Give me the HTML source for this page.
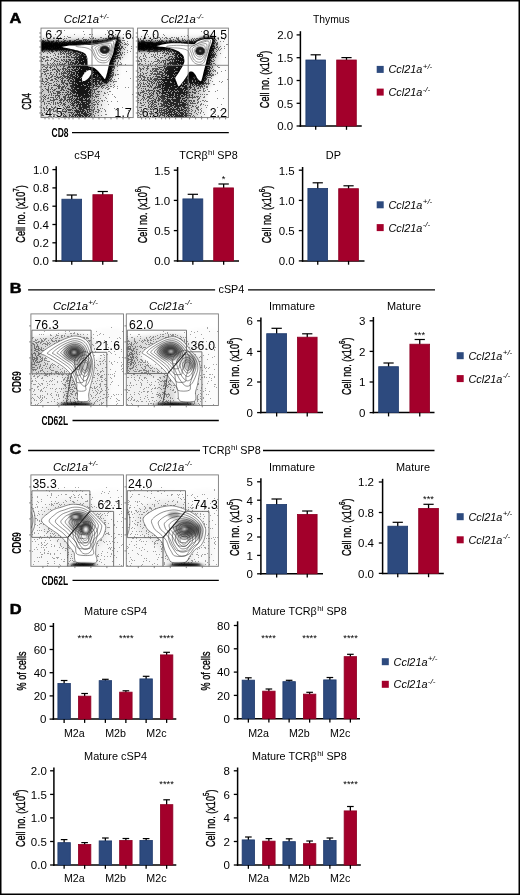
<!DOCTYPE html>
<html><head><meta charset="utf-8"><style>
html,body{margin:0;padding:0;background:#fff;}
svg{display:block;will-change:transform;}
text{font-family:"Liberation Sans", sans-serif;fill:#000;}
</style></head><body>
<svg width="520" height="895" viewBox="0 0 520 895">
<defs>
<filter id="b0_9" x="-20%" y="-20%" width="140%" height="140%"><feGaussianBlur stdDeviation="0.9"/></filter>
<filter id="b1_5" x="-20%" y="-20%" width="140%" height="140%"><feGaussianBlur stdDeviation="1.5"/></filter>
<filter id="b2" x="-20%" y="-20%" width="140%" height="140%"><feGaussianBlur stdDeviation="2"/></filter>
<filter id="b3" x="-20%" y="-20%" width="140%" height="140%"><feGaussianBlur stdDeviation="3"/></filter>
<filter id="gblur" x="0" y="0" width="520" height="895" filterUnits="userSpaceOnUse" color-interpolation-filters="sRGB">
  <feGaussianBlur in="SourceAlpha" stdDeviation="2.0" result="d"/>
  <feTurbulence type="fractalNoise" baseFrequency="1.7" numOctaves="1" seed="7" result="noise"/>
  <feColorMatrix in="noise" type="matrix" values="0 0 0 0 0  0 0 0 0 0  0 0 0 0 0  1 0 0 0 0" result="na0"/>
  <feComponentTransfer in="na0" result="na"><feFuncA type="table" tableValues="0.000 0.000 0.000 0.000 0.000 0.000 0.000 0.000 0.001 0.001 0.004 0.012 0.028 0.051 0.088 0.125 0.179 0.232 0.302 0.402 0.482 0.584 0.689 0.766 0.834 0.882 0.919 0.956 0.977 0.990 0.997 0.999 1.000 1.000 1.000 1.000 1.000 1.000 1.000 1.000 1.000"/></feComponentTransfer>
  <feComposite in="d" in2="na" operator="arithmetic" k1="0" k2="1" k3="-1" k4="0.497" result="c"/>
  <feComponentTransfer in="c" result="t"><feFuncA type="discrete" tableValues="0 1"/></feComponentTransfer>
  <feColorMatrix in="t" type="matrix" values="0 0 0 0 0  0 0 0 0 0  0 0 0 0 0  0 0 0 1.0 0" result="k"/>
  <feGaussianBlur in="k" stdDeviation="0.4" result="kb"/>
  <feComposite in="kb" in2="d" operator="arithmetic" k1="0" k2="0.45" k3="0.55" k4="0"/>
</filter>
<filter id="dith2" x="0" y="0" width="520" height="895" filterUnits="userSpaceOnUse" color-interpolation-filters="sRGB">
  <feGaussianBlur in="SourceAlpha" stdDeviation="2.0" result="d"/>
  <feTurbulence type="fractalNoise" baseFrequency="1.7" numOctaves="1" seed="11" result="noise"/>
  <feColorMatrix in="noise" type="matrix" values="0 0 0 0 0  0 0 0 0 0  0 0 0 0 0  1 0 0 0 0" result="na0"/>
  <feComponentTransfer in="na0" result="na"><feFuncA type="table" tableValues="0.000 0.000 0.000 0.000 0.000 0.000 0.000 0.000 0.001 0.001 0.004 0.012 0.028 0.051 0.088 0.125 0.179 0.232 0.302 0.402 0.482 0.584 0.689 0.766 0.834 0.882 0.919 0.956 0.977 0.990 0.997 0.999 1.000 1.000 1.000 1.000 1.000 1.000 1.000 1.000 1.000"/></feComponentTransfer>
  <feComposite in="d" in2="na" operator="arithmetic" k1="0" k2="1" k3="-1" k4="0.497" result="c"/>
  <feComponentTransfer in="c" result="t"><feFuncA type="discrete" tableValues="0 1"/></feComponentTransfer>
  <feColorMatrix in="t" type="matrix" values="0 0 0 0 0  0 0 0 0 0  0 0 0 0 0  0 0 0 0.62 0" result="k"/>
  <feGaussianBlur in="k" stdDeviation="0.25" result="kb"/>
  <feComposite in="kb" in2="d" operator="arithmetic" k1="0" k2="0.55" k3="0.45" k4="0"/>
</filter>
<radialGradient id="coreg"><stop offset="0" stop-color="#888"/><stop offset="0.3" stop-color="#222"/><stop offset="0.7" stop-color="#1a1a1a"/><stop offset="0.88" stop-color="#444" stop-opacity="0.8"/><stop offset="1" stop-color="#777" stop-opacity="0.2"/></radialGradient>
</defs>
<rect x="0" y="0" width="520" height="895" fill="#fff"/>
<rect x="0" y="0" width="520" height="1.5" fill="#000" stroke="none" stroke-width="0"/>
<rect x="0" y="0" width="1.5" height="895" fill="#000" stroke="none" stroke-width="0"/>
<rect x="518.5" y="0" width="1.5" height="895" fill="#000" stroke="none" stroke-width="0"/>
<rect x="0" y="893.5" width="520" height="1.5" fill="#000" stroke="none" stroke-width="0"/>
<text transform="translate(9.5,22.8) scale(1.1,1)" font-size="14.9" font-weight="bold" stroke="#000" stroke-width="0.55" stroke-linejoin="round">A</text>
<text transform="translate(9.8,292.7) scale(1.1,1)" font-size="14.9" font-weight="bold" stroke="#000" stroke-width="0.55" stroke-linejoin="round">B</text>
<text transform="translate(9.6,453.5) scale(1.1,1)" font-size="14.9" font-weight="bold" stroke="#000" stroke-width="0.55" stroke-linejoin="round">C</text>
<text transform="translate(9.8,613.8) scale(1.1,1)" font-size="14.9" font-weight="bold" stroke="#000" stroke-width="0.55" stroke-linejoin="round">D</text>
<line x1="28.1" y1="289.8" x2="215.1" y2="289.8" stroke="#000" stroke-width="1.3"/>
<text transform="translate(231.4,293.2) scale(1.05,1)" font-size="10.3" text-anchor="middle" font-style="normal">cSP4</text>
<line x1="248" y1="289.8" x2="435" y2="289.8" stroke="#000" stroke-width="1.3"/>
<line x1="28.1" y1="450.5" x2="200" y2="450.5" stroke="#000" stroke-width="1.3"/>
<text transform="translate(231.5,453.8) scale(1.05,1)" font-size="10.3" text-anchor="middle" font-style="normal">TCR&#946;<tspan font-size="7.6" dy="-4.1" dx="0.4">hi</tspan><tspan dy="4.1"> SP8</tspan></text>
<line x1="263" y1="450.5" x2="434.5" y2="450.5" stroke="#000" stroke-width="1.3"/>
<line x1="300.4" y1="31.2" x2="300.4" y2="126.75" stroke="#000" stroke-width="1.5"/>
<line x1="299.65" y1="126" x2="361.75" y2="126" stroke="#000" stroke-width="1.5"/>
<line x1="296.59999999999997" y1="34.9" x2="300.4" y2="34.9" stroke="#000" stroke-width="1.3"/>
<text transform="translate(293.2,39.199999999999996) scale(1.12,1)" font-size="10.3" text-anchor="end">2.0</text>
<line x1="296.59999999999997" y1="57.7" x2="300.4" y2="57.7" stroke="#000" stroke-width="1.3"/>
<text transform="translate(293.2,62.0) scale(1.12,1)" font-size="10.3" text-anchor="end">1.5</text>
<line x1="296.59999999999997" y1="80.5" x2="300.4" y2="80.5" stroke="#000" stroke-width="1.3"/>
<text transform="translate(293.2,84.8) scale(1.12,1)" font-size="10.3" text-anchor="end">1.0</text>
<line x1="296.59999999999997" y1="103.3" x2="300.4" y2="103.3" stroke="#000" stroke-width="1.3"/>
<text transform="translate(293.2,107.6) scale(1.12,1)" font-size="10.3" text-anchor="end">0.5</text>
<line x1="296.59999999999997" y1="126" x2="300.4" y2="126" stroke="#000" stroke-width="1.3"/>
<text transform="translate(293.2,130.3) scale(1.12,1)" font-size="10.3" text-anchor="end">0.0</text>
<line x1="315.7" y1="54.8" x2="315.7" y2="60.6" stroke="#000" stroke-width="1.3"/>
<line x1="310.6" y1="54.8" x2="320.79999999999995" y2="54.8" stroke="#000" stroke-width="1.2"/>
<rect x="305.9" y="60.0" width="19.599999999999977" height="66.0" fill="#2d4a7e" stroke="#1f3a6c" stroke-width="0.8"/>
<line x1="315.7" y1="126" x2="315.7" y2="129.8" stroke="#000" stroke-width="1.3"/>
<line x1="346.5" y1="57.6" x2="346.5" y2="60.6" stroke="#000" stroke-width="1.3"/>
<line x1="341.4" y1="57.6" x2="351.6" y2="57.6" stroke="#000" stroke-width="1.2"/>
<rect x="336.7" y="60.0" width="19.599999999999977" height="66.0" fill="#a3002b" stroke="#8e0024" stroke-width="0.8"/>
<line x1="346.5" y1="126" x2="346.5" y2="129.8" stroke="#000" stroke-width="1.3"/>
<text transform="translate(331.3,23.0) scale(1.0,1)" font-size="10.3" text-anchor="middle" font-style="normal">Thymus</text>
<text transform="translate(264.4,79.39999999999999) rotate(-90) scale(0.71,1)" font-size="12.8" font-weight="normal" text-anchor="middle" dominant-baseline="central" stroke="#000" stroke-width="0.35">Cell no. (x10<tspan font-size="8.7" dy="-4.9">8</tspan><tspan dy="4.9">)</tspan></text>
<line x1="56.2" y1="166.2" x2="56.2" y2="261.65" stroke="#000" stroke-width="1.5"/>
<line x1="55.45" y1="260.9" x2="117.5" y2="260.9" stroke="#000" stroke-width="1.5"/>
<line x1="52.400000000000006" y1="169.6" x2="56.2" y2="169.6" stroke="#000" stroke-width="1.3"/>
<text transform="translate(48.9,173.9) scale(1.12,1)" font-size="10.3" text-anchor="end">1.0</text>
<line x1="52.400000000000006" y1="187.9" x2="56.2" y2="187.9" stroke="#000" stroke-width="1.3"/>
<text transform="translate(48.9,192.20000000000002) scale(1.12,1)" font-size="10.3" text-anchor="end">0.8</text>
<line x1="52.400000000000006" y1="206.2" x2="56.2" y2="206.2" stroke="#000" stroke-width="1.3"/>
<text transform="translate(48.9,210.5) scale(1.12,1)" font-size="10.3" text-anchor="end">0.6</text>
<line x1="52.400000000000006" y1="224.5" x2="56.2" y2="224.5" stroke="#000" stroke-width="1.3"/>
<text transform="translate(48.9,228.8) scale(1.12,1)" font-size="10.3" text-anchor="end">0.4</text>
<line x1="52.400000000000006" y1="242.8" x2="56.2" y2="242.8" stroke="#000" stroke-width="1.3"/>
<text transform="translate(48.9,247.10000000000002) scale(1.12,1)" font-size="10.3" text-anchor="end">0.2</text>
<line x1="52.400000000000006" y1="260.9" x2="56.2" y2="260.9" stroke="#000" stroke-width="1.3"/>
<text transform="translate(48.9,265.2) scale(1.12,1)" font-size="10.3" text-anchor="end">0.0</text>
<line x1="71.75" y1="195" x2="71.75" y2="199.8" stroke="#000" stroke-width="1.3"/>
<line x1="66.625" y1="195" x2="76.875" y2="195" stroke="#000" stroke-width="1.2"/>
<rect x="61.9" y="199.20000000000002" width="19.7" height="61.69999999999997" fill="#2d4a7e" stroke="#1f3a6c" stroke-width="0.8"/>
<line x1="71.75" y1="260.9" x2="71.75" y2="264.7" stroke="#000" stroke-width="1.3"/>
<line x1="102.75" y1="191.5" x2="102.75" y2="195.3" stroke="#000" stroke-width="1.3"/>
<line x1="97.625" y1="191.5" x2="107.875" y2="191.5" stroke="#000" stroke-width="1.2"/>
<rect x="92.9" y="194.70000000000002" width="19.7" height="66.19999999999996" fill="#a3002b" stroke="#8e0024" stroke-width="0.8"/>
<line x1="102.75" y1="260.9" x2="102.75" y2="264.7" stroke="#000" stroke-width="1.3"/>
<text transform="translate(87.3,158.8) scale(1.06,1)" font-size="10.3" text-anchor="middle" font-style="normal">cSP4</text>
<text transform="translate(20.4,213.9) rotate(-90) scale(0.71,1)" font-size="12.8" font-weight="normal" text-anchor="middle" dominant-baseline="central" stroke="#000" stroke-width="0.35">Cell no. (x10<tspan font-size="8.7" dy="-4.9">7</tspan><tspan dy="4.9">)</tspan></text>
<line x1="177.6" y1="167" x2="177.6" y2="261.65" stroke="#000" stroke-width="1.5"/>
<line x1="176.85" y1="260.9" x2="239" y2="260.9" stroke="#000" stroke-width="1.5"/>
<line x1="173.79999999999998" y1="170.2" x2="177.6" y2="170.2" stroke="#000" stroke-width="1.3"/>
<text transform="translate(170.2,174.5) scale(1.12,1)" font-size="10.3" text-anchor="end">1.5</text>
<line x1="173.79999999999998" y1="200.4" x2="177.6" y2="200.4" stroke="#000" stroke-width="1.3"/>
<text transform="translate(170.2,204.70000000000002) scale(1.12,1)" font-size="10.3" text-anchor="end">1.0</text>
<line x1="173.79999999999998" y1="230.6" x2="177.6" y2="230.6" stroke="#000" stroke-width="1.3"/>
<text transform="translate(170.2,234.9) scale(1.12,1)" font-size="10.3" text-anchor="end">0.5</text>
<line x1="173.79999999999998" y1="260.9" x2="177.6" y2="260.9" stroke="#000" stroke-width="1.3"/>
<text transform="translate(170.2,265.2) scale(1.12,1)" font-size="10.3" text-anchor="end">0.0</text>
<line x1="192.85" y1="194.3" x2="192.85" y2="199.5" stroke="#000" stroke-width="1.3"/>
<line x1="187.675" y1="194.3" x2="198.02499999999998" y2="194.3" stroke="#000" stroke-width="1.2"/>
<rect x="182.9" y="198.9" width="19.899999999999988" height="61.99999999999998" fill="#2d4a7e" stroke="#1f3a6c" stroke-width="0.8"/>
<line x1="192.85" y1="260.9" x2="192.85" y2="264.7" stroke="#000" stroke-width="1.3"/>
<line x1="223.65" y1="184" x2="223.65" y2="188.5" stroke="#000" stroke-width="1.3"/>
<line x1="218.47500000000002" y1="184" x2="228.825" y2="184" stroke="#000" stroke-width="1.2"/>
<rect x="213.70000000000002" y="187.9" width="19.899999999999988" height="72.99999999999997" fill="#a3002b" stroke="#8e0024" stroke-width="0.8"/>
<line x1="223.65" y1="260.9" x2="223.65" y2="264.7" stroke="#000" stroke-width="1.3"/>
<text x="223.7" y="182.2" font-size="9.4" text-anchor="middle" font-weight="normal" font-style="normal" >*</text>
<text transform="translate(208.5,158.8) scale(1.05,1)" font-size="10.3" text-anchor="middle" font-style="normal">TCR&#946;<tspan font-size="7.6" dy="-4.1" dx="0.4">hi</tspan><tspan dy="4.1"> SP8</tspan></text>
<text transform="translate(142.20000000000002,214.5) rotate(-90) scale(0.71,1)" font-size="12.8" font-weight="normal" text-anchor="middle" dominant-baseline="central" stroke="#000" stroke-width="0.35">Cell no. (x10<tspan font-size="8.7" dy="-4.9">6</tspan><tspan dy="4.9">)</tspan></text>
<line x1="302.6" y1="167" x2="302.6" y2="261.65" stroke="#000" stroke-width="1.5"/>
<line x1="301.85" y1="260.9" x2="364.5" y2="260.9" stroke="#000" stroke-width="1.5"/>
<line x1="298.8" y1="170.2" x2="302.6" y2="170.2" stroke="#000" stroke-width="1.3"/>
<text transform="translate(294.7,174.5) scale(1.12,1)" font-size="10.3" text-anchor="end">1.5</text>
<line x1="298.8" y1="200.4" x2="302.6" y2="200.4" stroke="#000" stroke-width="1.3"/>
<text transform="translate(294.7,204.70000000000002) scale(1.12,1)" font-size="10.3" text-anchor="end">1.0</text>
<line x1="298.8" y1="230.6" x2="302.6" y2="230.6" stroke="#000" stroke-width="1.3"/>
<text transform="translate(294.7,234.9) scale(1.12,1)" font-size="10.3" text-anchor="end">0.5</text>
<line x1="298.8" y1="260.9" x2="302.6" y2="260.9" stroke="#000" stroke-width="1.3"/>
<text transform="translate(294.7,265.2) scale(1.12,1)" font-size="10.3" text-anchor="end">0.0</text>
<line x1="317.75" y1="182.8" x2="317.75" y2="189" stroke="#000" stroke-width="1.3"/>
<line x1="312.625" y1="182.8" x2="322.875" y2="182.8" stroke="#000" stroke-width="1.2"/>
<rect x="307.9" y="188.4" width="19.7" height="72.49999999999997" fill="#2d4a7e" stroke="#1f3a6c" stroke-width="0.8"/>
<line x1="317.75" y1="260.9" x2="317.75" y2="264.7" stroke="#000" stroke-width="1.3"/>
<line x1="348.55" y1="185.8" x2="348.55" y2="189.3" stroke="#000" stroke-width="1.3"/>
<line x1="343.425" y1="185.8" x2="353.675" y2="185.8" stroke="#000" stroke-width="1.2"/>
<rect x="338.7" y="188.70000000000002" width="19.7" height="72.19999999999996" fill="#a3002b" stroke="#8e0024" stroke-width="0.8"/>
<line x1="348.55" y1="260.9" x2="348.55" y2="264.7" stroke="#000" stroke-width="1.3"/>
<text transform="translate(333.4,158.8) scale(1.06,1)" font-size="10.3" text-anchor="middle" font-style="normal">DP</text>
<text transform="translate(266.59999999999997,214.5) rotate(-90) scale(0.71,1)" font-size="12.8" font-weight="normal" text-anchor="middle" dominant-baseline="central" stroke="#000" stroke-width="0.35">Cell no. (x10<tspan font-size="8.7" dy="-4.9">6</tspan><tspan dy="4.9">)</tspan></text>
<line x1="260.9" y1="317.5" x2="260.9" y2="413.35" stroke="#000" stroke-width="1.5"/>
<line x1="260.15" y1="412.6" x2="323" y2="412.6" stroke="#000" stroke-width="1.5"/>
<line x1="257.09999999999997" y1="320.8" x2="260.9" y2="320.8" stroke="#000" stroke-width="1.3"/>
<text transform="translate(253,325.1) scale(1.12,1)" font-size="10.3" text-anchor="end">6</text>
<line x1="257.09999999999997" y1="351.4" x2="260.9" y2="351.4" stroke="#000" stroke-width="1.3"/>
<text transform="translate(253,355.7) scale(1.12,1)" font-size="10.3" text-anchor="end">4</text>
<line x1="257.09999999999997" y1="382" x2="260.9" y2="382" stroke="#000" stroke-width="1.3"/>
<text transform="translate(253,386.3) scale(1.12,1)" font-size="10.3" text-anchor="end">2</text>
<line x1="257.09999999999997" y1="412.6" x2="260.9" y2="412.6" stroke="#000" stroke-width="1.3"/>
<text transform="translate(253,416.90000000000003) scale(1.12,1)" font-size="10.3" text-anchor="end">0</text>
<line x1="276.65" y1="328.3" x2="276.65" y2="334.3" stroke="#000" stroke-width="1.3"/>
<line x1="271.47499999999997" y1="328.3" x2="281.825" y2="328.3" stroke="#000" stroke-width="1.2"/>
<rect x="266.7" y="333.7" width="19.899999999999988" height="78.9" fill="#2d4a7e" stroke="#1f3a6c" stroke-width="0.8"/>
<line x1="276.65" y1="412.6" x2="276.65" y2="416.40000000000003" stroke="#000" stroke-width="1.3"/>
<line x1="307.25" y1="333.8" x2="307.25" y2="337.8" stroke="#000" stroke-width="1.3"/>
<line x1="302.125" y1="333.8" x2="312.375" y2="333.8" stroke="#000" stroke-width="1.2"/>
<rect x="297.4" y="337.2" width="19.7" height="75.4" fill="#a3002b" stroke="#8e0024" stroke-width="0.8"/>
<line x1="307.25" y1="412.6" x2="307.25" y2="416.40000000000003" stroke="#000" stroke-width="1.3"/>
<text transform="translate(292,310.1) scale(1.06,1)" font-size="10.3" text-anchor="middle" font-style="normal">Immature</text>
<text transform="translate(234.8,366.3) rotate(-90) scale(0.71,1)" font-size="12.8" font-weight="normal" text-anchor="middle" dominant-baseline="central" stroke="#000" stroke-width="0.35">Cell no. (x10<tspan font-size="8.7" dy="-4.9">6</tspan><tspan dy="4.9">)</tspan></text>
<line x1="373.4" y1="317" x2="373.4" y2="413.35" stroke="#000" stroke-width="1.5"/>
<line x1="372.65" y1="412.6" x2="434.5" y2="412.6" stroke="#000" stroke-width="1.5"/>
<line x1="369.59999999999997" y1="320.8" x2="373.4" y2="320.8" stroke="#000" stroke-width="1.3"/>
<text transform="translate(365.4,325.1) scale(1.12,1)" font-size="10.3" text-anchor="end">3</text>
<line x1="369.59999999999997" y1="351.4" x2="373.4" y2="351.4" stroke="#000" stroke-width="1.3"/>
<text transform="translate(365.4,355.7) scale(1.12,1)" font-size="10.3" text-anchor="end">2</text>
<line x1="369.59999999999997" y1="382" x2="373.4" y2="382" stroke="#000" stroke-width="1.3"/>
<text transform="translate(365.4,386.3) scale(1.12,1)" font-size="10.3" text-anchor="end">1</text>
<line x1="369.59999999999997" y1="412.6" x2="373.4" y2="412.6" stroke="#000" stroke-width="1.3"/>
<text transform="translate(365.4,416.90000000000003) scale(1.12,1)" font-size="10.3" text-anchor="end">0</text>
<line x1="388.55" y1="363" x2="388.55" y2="367.3" stroke="#000" stroke-width="1.3"/>
<line x1="383.425" y1="363" x2="393.675" y2="363" stroke="#000" stroke-width="1.2"/>
<rect x="378.7" y="366.7" width="19.7" height="45.90000000000001" fill="#2d4a7e" stroke="#1f3a6c" stroke-width="0.8"/>
<line x1="388.55" y1="412.6" x2="388.55" y2="416.40000000000003" stroke="#000" stroke-width="1.3"/>
<line x1="419.75" y1="339.5" x2="419.75" y2="344.8" stroke="#000" stroke-width="1.3"/>
<line x1="414.625" y1="339.5" x2="424.875" y2="339.5" stroke="#000" stroke-width="1.2"/>
<rect x="409.9" y="344.2" width="19.7" height="68.4" fill="#a3002b" stroke="#8e0024" stroke-width="0.8"/>
<line x1="419.75" y1="412.6" x2="419.75" y2="416.40000000000003" stroke="#000" stroke-width="1.3"/>
<text transform="translate(404,310.1) scale(1.06,1)" font-size="10.3" text-anchor="middle" font-style="normal">Mature</text>
<text x="419.6" y="337.90000000000003" font-size="9.4" text-anchor="middle" font-weight="normal" font-style="normal" >***</text>
<text transform="translate(346.79999999999995,366.3) rotate(-90) scale(0.71,1)" font-size="12.8" font-weight="normal" text-anchor="middle" dominant-baseline="central" stroke="#000" stroke-width="0.35">Cell no. (x10<tspan font-size="8.7" dy="-4.9">6</tspan><tspan dy="4.9">)</tspan></text>
<line x1="260.9" y1="478.3" x2="260.9" y2="574.55" stroke="#000" stroke-width="1.5"/>
<line x1="260.15" y1="573.8" x2="323" y2="573.8" stroke="#000" stroke-width="1.5"/>
<line x1="257.09999999999997" y1="481.8" x2="260.9" y2="481.8" stroke="#000" stroke-width="1.3"/>
<text transform="translate(253,486.1) scale(1.12,1)" font-size="10.3" text-anchor="end">5</text>
<line x1="257.09999999999997" y1="500.2" x2="260.9" y2="500.2" stroke="#000" stroke-width="1.3"/>
<text transform="translate(253,504.5) scale(1.12,1)" font-size="10.3" text-anchor="end">4</text>
<line x1="257.09999999999997" y1="518.6" x2="260.9" y2="518.6" stroke="#000" stroke-width="1.3"/>
<text transform="translate(253,522.9) scale(1.12,1)" font-size="10.3" text-anchor="end">3</text>
<line x1="257.09999999999997" y1="537" x2="260.9" y2="537" stroke="#000" stroke-width="1.3"/>
<text transform="translate(253,541.3) scale(1.12,1)" font-size="10.3" text-anchor="end">2</text>
<line x1="257.09999999999997" y1="555.4" x2="260.9" y2="555.4" stroke="#000" stroke-width="1.3"/>
<text transform="translate(253,559.6999999999999) scale(1.12,1)" font-size="10.3" text-anchor="end">1</text>
<line x1="257.09999999999997" y1="573.8" x2="260.9" y2="573.8" stroke="#000" stroke-width="1.3"/>
<text transform="translate(253,578.0999999999999) scale(1.12,1)" font-size="10.3" text-anchor="end">0</text>
<line x1="276.65" y1="499" x2="276.65" y2="505" stroke="#000" stroke-width="1.3"/>
<line x1="271.47499999999997" y1="499" x2="281.825" y2="499" stroke="#000" stroke-width="1.2"/>
<rect x="266.7" y="504.4" width="19.899999999999988" height="69.39999999999995" fill="#2d4a7e" stroke="#1f3a6c" stroke-width="0.8"/>
<line x1="276.65" y1="573.8" x2="276.65" y2="577.5999999999999" stroke="#000" stroke-width="1.3"/>
<line x1="307.25" y1="511" x2="307.25" y2="515" stroke="#000" stroke-width="1.3"/>
<line x1="302.125" y1="511" x2="312.375" y2="511" stroke="#000" stroke-width="1.2"/>
<rect x="297.4" y="514.4" width="19.7" height="59.399999999999956" fill="#a3002b" stroke="#8e0024" stroke-width="0.8"/>
<line x1="307.25" y1="573.8" x2="307.25" y2="577.5999999999999" stroke="#000" stroke-width="1.3"/>
<text transform="translate(292,471) scale(1.06,1)" font-size="10.3" text-anchor="middle" font-style="normal">Immature</text>
<text transform="translate(234.8,527.3) rotate(-90) scale(0.71,1)" font-size="12.8" font-weight="normal" text-anchor="middle" dominant-baseline="central" stroke="#000" stroke-width="0.35">Cell no. (x10<tspan font-size="8.7" dy="-4.9">5</tspan><tspan dy="4.9">)</tspan></text>
<line x1="382.6" y1="478.8" x2="382.6" y2="574.15" stroke="#000" stroke-width="1.5"/>
<line x1="381.85" y1="573.4" x2="443.8" y2="573.4" stroke="#000" stroke-width="1.5"/>
<line x1="378.8" y1="482" x2="382.6" y2="482" stroke="#000" stroke-width="1.3"/>
<text transform="translate(374,486.3) scale(1.12,1)" font-size="10.3" text-anchor="end">1.2</text>
<line x1="378.8" y1="512.5" x2="382.6" y2="512.5" stroke="#000" stroke-width="1.3"/>
<text transform="translate(374,516.8) scale(1.12,1)" font-size="10.3" text-anchor="end">0.8</text>
<line x1="378.8" y1="543" x2="382.6" y2="543" stroke="#000" stroke-width="1.3"/>
<text transform="translate(374,547.3) scale(1.12,1)" font-size="10.3" text-anchor="end">0.4</text>
<line x1="378.8" y1="573.4" x2="382.6" y2="573.4" stroke="#000" stroke-width="1.3"/>
<text transform="translate(374,577.6999999999999) scale(1.12,1)" font-size="10.3" text-anchor="end">0.0</text>
<line x1="397.75" y1="522.3" x2="397.75" y2="526.8" stroke="#000" stroke-width="1.3"/>
<line x1="392.625" y1="522.3" x2="402.875" y2="522.3" stroke="#000" stroke-width="1.2"/>
<rect x="387.9" y="526.1999999999999" width="19.7" height="47.200000000000024" fill="#2d4a7e" stroke="#1f3a6c" stroke-width="0.8"/>
<line x1="397.75" y1="573.4" x2="397.75" y2="577.1999999999999" stroke="#000" stroke-width="1.3"/>
<line x1="428.55" y1="504.3" x2="428.55" y2="509" stroke="#000" stroke-width="1.3"/>
<line x1="423.425" y1="504.3" x2="433.675" y2="504.3" stroke="#000" stroke-width="1.2"/>
<rect x="418.7" y="508.4" width="19.7" height="64.99999999999997" fill="#a3002b" stroke="#8e0024" stroke-width="0.8"/>
<line x1="428.55" y1="573.4" x2="428.55" y2="577.1999999999999" stroke="#000" stroke-width="1.3"/>
<text transform="translate(413,471) scale(1.06,1)" font-size="10.3" text-anchor="middle" font-style="normal">Mature</text>
<text x="428.5" y="502.40000000000003" font-size="9.4" text-anchor="middle" font-weight="normal" font-style="normal" >***</text>
<text transform="translate(346.79999999999995,527.3) rotate(-90) scale(0.71,1)" font-size="12.8" font-weight="normal" text-anchor="middle" dominant-baseline="central" stroke="#000" stroke-width="0.35">Cell no. (x10<tspan font-size="8.7" dy="-4.9">6</tspan><tspan dy="4.9">)</tspan></text>
<line x1="53.4" y1="623" x2="53.4" y2="719.85" stroke="#000" stroke-width="1.5"/>
<line x1="52.65" y1="719.1" x2="176.3" y2="719.1" stroke="#000" stroke-width="1.5"/>
<line x1="49.6" y1="626.3" x2="53.4" y2="626.3" stroke="#000" stroke-width="1.3"/>
<text transform="translate(46.5,630.5999999999999) scale(1.12,1)" font-size="10.3" text-anchor="end">80</text>
<line x1="49.6" y1="649.5" x2="53.4" y2="649.5" stroke="#000" stroke-width="1.3"/>
<text transform="translate(46.5,653.8) scale(1.12,1)" font-size="10.3" text-anchor="end">60</text>
<line x1="49.6" y1="672.7" x2="53.4" y2="672.7" stroke="#000" stroke-width="1.3"/>
<text transform="translate(46.5,677.0) scale(1.12,1)" font-size="10.3" text-anchor="end">40</text>
<line x1="49.6" y1="695.9" x2="53.4" y2="695.9" stroke="#000" stroke-width="1.3"/>
<text transform="translate(46.5,700.1999999999999) scale(1.12,1)" font-size="10.3" text-anchor="end">20</text>
<line x1="49.6" y1="719.1" x2="53.4" y2="719.1" stroke="#000" stroke-width="1.3"/>
<text transform="translate(46.5,723.4) scale(1.12,1)" font-size="10.3" text-anchor="end">0</text>
<line x1="64.125" y1="680.5" x2="64.125" y2="684" stroke="#000" stroke-width="1.3"/>
<line x1="60.8125" y1="680.5" x2="67.4375" y2="680.5" stroke="#000" stroke-width="1.2"/>
<rect x="57.9" y="683.4" width="12.45" height="35.700000000000024" fill="#2d4a7e" stroke="#1f3a6c" stroke-width="0.8"/>
<line x1="64.125" y1="719.1" x2="64.125" y2="722.9" stroke="#000" stroke-width="1.3"/>
<line x1="84.625" y1="693.5" x2="84.625" y2="696.75" stroke="#000" stroke-width="1.3"/>
<line x1="81.3125" y1="693.5" x2="87.9375" y2="693.5" stroke="#000" stroke-width="1.2"/>
<rect x="78.4" y="696.15" width="12.45" height="22.950000000000024" fill="#a3002b" stroke="#8e0024" stroke-width="0.8"/>
<line x1="84.625" y1="719.1" x2="84.625" y2="722.9" stroke="#000" stroke-width="1.3"/>
<line x1="105.375" y1="679.3" x2="105.375" y2="681.25" stroke="#000" stroke-width="1.3"/>
<line x1="102.0625" y1="679.3" x2="108.6875" y2="679.3" stroke="#000" stroke-width="1.2"/>
<rect x="99.15" y="680.65" width="12.45" height="38.450000000000024" fill="#2d4a7e" stroke="#1f3a6c" stroke-width="0.8"/>
<line x1="105.375" y1="719.1" x2="105.375" y2="722.9" stroke="#000" stroke-width="1.3"/>
<line x1="125.875" y1="690.8" x2="125.875" y2="692.75" stroke="#000" stroke-width="1.3"/>
<line x1="122.5625" y1="690.8" x2="129.1875" y2="690.8" stroke="#000" stroke-width="1.2"/>
<rect x="119.65" y="692.15" width="12.45" height="26.950000000000024" fill="#a3002b" stroke="#8e0024" stroke-width="0.8"/>
<line x1="125.875" y1="719.1" x2="125.875" y2="722.9" stroke="#000" stroke-width="1.3"/>
<line x1="146.125" y1="676.3" x2="146.125" y2="679.5" stroke="#000" stroke-width="1.3"/>
<line x1="142.8125" y1="676.3" x2="149.4375" y2="676.3" stroke="#000" stroke-width="1.2"/>
<rect x="139.9" y="678.9" width="12.45" height="40.200000000000024" fill="#2d4a7e" stroke="#1f3a6c" stroke-width="0.8"/>
<line x1="146.125" y1="719.1" x2="146.125" y2="722.9" stroke="#000" stroke-width="1.3"/>
<line x1="166.625" y1="652.3" x2="166.625" y2="655.5" stroke="#000" stroke-width="1.3"/>
<line x1="163.3125" y1="652.3" x2="169.9375" y2="652.3" stroke="#000" stroke-width="1.2"/>
<rect x="160.4" y="654.9" width="12.45" height="64.20000000000002" fill="#a3002b" stroke="#8e0024" stroke-width="0.8"/>
<line x1="166.625" y1="719.1" x2="166.625" y2="722.9" stroke="#000" stroke-width="1.3"/>
<text transform="translate(115.6,614.6) scale(1.06,1)" font-size="10.3" text-anchor="middle" font-style="normal">Mature cSP4</text>
<text x="84.8" y="641.1" font-size="9.4" text-anchor="middle" font-weight="normal" font-style="normal" >****</text>
<text x="126.3" y="641.1" font-size="9.4" text-anchor="middle" font-weight="normal" font-style="normal" >****</text>
<text x="166.6" y="641.1" font-size="9.4" text-anchor="middle" font-weight="normal" font-style="normal" >****</text>
<text transform="translate(21.4,671) rotate(-90) scale(0.71,1)" font-size="12.8" font-weight="normal" text-anchor="middle" dominant-baseline="central" stroke="#000" stroke-width="0.35">% of cells</text>
<line x1="237.6" y1="621.3" x2="237.6" y2="719.55" stroke="#000" stroke-width="1.5"/>
<line x1="236.85" y1="718.8" x2="360" y2="718.8" stroke="#000" stroke-width="1.5"/>
<line x1="233.79999999999998" y1="625.5" x2="237.6" y2="625.5" stroke="#000" stroke-width="1.3"/>
<text transform="translate(229.8,629.8) scale(1.12,1)" font-size="10.3" text-anchor="end">80</text>
<line x1="233.79999999999998" y1="648.8" x2="237.6" y2="648.8" stroke="#000" stroke-width="1.3"/>
<text transform="translate(229.8,653.0999999999999) scale(1.12,1)" font-size="10.3" text-anchor="end">60</text>
<line x1="233.79999999999998" y1="672.1" x2="237.6" y2="672.1" stroke="#000" stroke-width="1.3"/>
<text transform="translate(229.8,676.4) scale(1.12,1)" font-size="10.3" text-anchor="end">40</text>
<line x1="233.79999999999998" y1="695.4" x2="237.6" y2="695.4" stroke="#000" stroke-width="1.3"/>
<text transform="translate(229.8,699.6999999999999) scale(1.12,1)" font-size="10.3" text-anchor="end">20</text>
<line x1="233.79999999999998" y1="718.8" x2="237.6" y2="718.8" stroke="#000" stroke-width="1.3"/>
<text transform="translate(229.8,723.0999999999999) scale(1.12,1)" font-size="10.3" text-anchor="end">0</text>
<line x1="248.375" y1="677.8" x2="248.375" y2="680.75" stroke="#000" stroke-width="1.3"/>
<line x1="245.0625" y1="677.8" x2="251.6875" y2="677.8" stroke="#000" stroke-width="1.2"/>
<rect x="242.15" y="680.15" width="12.45" height="38.649999999999956" fill="#2d4a7e" stroke="#1f3a6c" stroke-width="0.8"/>
<line x1="248.375" y1="718.8" x2="248.375" y2="722.5999999999999" stroke="#000" stroke-width="1.3"/>
<line x1="268.875" y1="689" x2="268.875" y2="691.75" stroke="#000" stroke-width="1.3"/>
<line x1="265.5625" y1="689" x2="272.1875" y2="689" stroke="#000" stroke-width="1.2"/>
<rect x="262.65" y="691.15" width="12.45" height="27.649999999999956" fill="#a3002b" stroke="#8e0024" stroke-width="0.8"/>
<line x1="268.875" y1="718.8" x2="268.875" y2="722.5999999999999" stroke="#000" stroke-width="1.3"/>
<line x1="289.125" y1="680.3" x2="289.125" y2="682.25" stroke="#000" stroke-width="1.3"/>
<line x1="285.8125" y1="680.3" x2="292.4375" y2="680.3" stroke="#000" stroke-width="1.2"/>
<rect x="282.9" y="681.65" width="12.45" height="37.149999999999956" fill="#2d4a7e" stroke="#1f3a6c" stroke-width="0.8"/>
<line x1="289.125" y1="718.8" x2="289.125" y2="722.5999999999999" stroke="#000" stroke-width="1.3"/>
<line x1="309.625" y1="692.3" x2="309.625" y2="694.75" stroke="#000" stroke-width="1.3"/>
<line x1="306.3125" y1="692.3" x2="312.9375" y2="692.3" stroke="#000" stroke-width="1.2"/>
<rect x="303.4" y="694.15" width="12.45" height="24.649999999999956" fill="#a3002b" stroke="#8e0024" stroke-width="0.8"/>
<line x1="309.625" y1="718.8" x2="309.625" y2="722.5999999999999" stroke="#000" stroke-width="1.3"/>
<line x1="329.875" y1="677.5" x2="329.875" y2="680.5" stroke="#000" stroke-width="1.3"/>
<line x1="326.5625" y1="677.5" x2="333.1875" y2="677.5" stroke="#000" stroke-width="1.2"/>
<rect x="323.65" y="679.9" width="12.45" height="38.899999999999956" fill="#2d4a7e" stroke="#1f3a6c" stroke-width="0.8"/>
<line x1="329.875" y1="718.8" x2="329.875" y2="722.5999999999999" stroke="#000" stroke-width="1.3"/>
<line x1="350.375" y1="654.3" x2="350.375" y2="657.25" stroke="#000" stroke-width="1.3"/>
<line x1="347.0625" y1="654.3" x2="353.6875" y2="654.3" stroke="#000" stroke-width="1.2"/>
<rect x="344.15" y="656.65" width="12.45" height="62.149999999999956" fill="#a3002b" stroke="#8e0024" stroke-width="0.8"/>
<line x1="350.375" y1="718.8" x2="350.375" y2="722.5999999999999" stroke="#000" stroke-width="1.3"/>
<text x="268.6" y="641.1" font-size="9.4" text-anchor="middle" font-weight="normal" font-style="normal" >****</text>
<text x="309.6" y="641.1" font-size="9.4" text-anchor="middle" font-weight="normal" font-style="normal" >****</text>
<text x="350.6" y="641.1" font-size="9.4" text-anchor="middle" font-weight="normal" font-style="normal" >****</text>
<text transform="translate(299.4,614.6) scale(1.05,1)" font-size="10.3" text-anchor="middle" font-style="normal">Mature TCR&#946;<tspan font-size="7.6" dy="-4.1" dx="0.4">hi</tspan><tspan dy="4.1"> SP8</tspan></text>
<text transform="translate(205.4,671) rotate(-90) scale(0.71,1)" font-size="12.8" font-weight="normal" text-anchor="middle" dominant-baseline="central" stroke="#000" stroke-width="0.35">% of cells</text>
<line x1="53.9" y1="767.5" x2="53.9" y2="865.75" stroke="#000" stroke-width="1.5"/>
<line x1="53.15" y1="865" x2="176.3" y2="865" stroke="#000" stroke-width="1.5"/>
<line x1="50.1" y1="770.8" x2="53.9" y2="770.8" stroke="#000" stroke-width="1.3"/>
<text transform="translate(46.8,775.0999999999999) scale(1.12,1)" font-size="10.3" text-anchor="end">2.0</text>
<line x1="50.1" y1="794.4" x2="53.9" y2="794.4" stroke="#000" stroke-width="1.3"/>
<text transform="translate(46.8,798.6999999999999) scale(1.12,1)" font-size="10.3" text-anchor="end">1.5</text>
<line x1="50.1" y1="817.9" x2="53.9" y2="817.9" stroke="#000" stroke-width="1.3"/>
<text transform="translate(46.8,822.1999999999999) scale(1.12,1)" font-size="10.3" text-anchor="end">1.0</text>
<line x1="50.1" y1="841.5" x2="53.9" y2="841.5" stroke="#000" stroke-width="1.3"/>
<text transform="translate(46.8,845.8) scale(1.12,1)" font-size="10.3" text-anchor="end">0.5</text>
<line x1="50.1" y1="865" x2="53.9" y2="865" stroke="#000" stroke-width="1.3"/>
<text transform="translate(46.8,869.3) scale(1.12,1)" font-size="10.3" text-anchor="end">0.0</text>
<line x1="64.125" y1="839.6" x2="64.125" y2="843.25" stroke="#000" stroke-width="1.3"/>
<line x1="60.8125" y1="839.6" x2="67.4375" y2="839.6" stroke="#000" stroke-width="1.2"/>
<rect x="57.9" y="842.65" width="12.45" height="22.35" fill="#2d4a7e" stroke="#1f3a6c" stroke-width="0.8"/>
<line x1="64.125" y1="865" x2="64.125" y2="868.8" stroke="#000" stroke-width="1.3"/>
<line x1="84.625" y1="842.6" x2="84.625" y2="845" stroke="#000" stroke-width="1.3"/>
<line x1="81.3125" y1="842.6" x2="87.9375" y2="842.6" stroke="#000" stroke-width="1.2"/>
<rect x="78.4" y="844.4" width="12.45" height="20.6" fill="#a3002b" stroke="#8e0024" stroke-width="0.8"/>
<line x1="84.625" y1="865" x2="84.625" y2="868.8" stroke="#000" stroke-width="1.3"/>
<line x1="105.375" y1="838" x2="105.375" y2="841.5" stroke="#000" stroke-width="1.3"/>
<line x1="102.0625" y1="838" x2="108.6875" y2="838" stroke="#000" stroke-width="1.2"/>
<rect x="99.15" y="840.9" width="12.45" height="24.1" fill="#2d4a7e" stroke="#1f3a6c" stroke-width="0.8"/>
<line x1="105.375" y1="865" x2="105.375" y2="868.8" stroke="#000" stroke-width="1.3"/>
<line x1="125.875" y1="838.5" x2="125.875" y2="841" stroke="#000" stroke-width="1.3"/>
<line x1="122.5625" y1="838.5" x2="129.1875" y2="838.5" stroke="#000" stroke-width="1.2"/>
<rect x="119.65" y="840.4" width="12.45" height="24.6" fill="#a3002b" stroke="#8e0024" stroke-width="0.8"/>
<line x1="125.875" y1="865" x2="125.875" y2="868.8" stroke="#000" stroke-width="1.3"/>
<line x1="146.125" y1="838.6" x2="146.125" y2="841" stroke="#000" stroke-width="1.3"/>
<line x1="142.8125" y1="838.6" x2="149.4375" y2="838.6" stroke="#000" stroke-width="1.2"/>
<rect x="139.9" y="840.4" width="12.45" height="24.6" fill="#2d4a7e" stroke="#1f3a6c" stroke-width="0.8"/>
<line x1="146.125" y1="865" x2="146.125" y2="868.8" stroke="#000" stroke-width="1.3"/>
<line x1="166.625" y1="799.8" x2="166.625" y2="805.25" stroke="#000" stroke-width="1.3"/>
<line x1="163.3125" y1="799.8" x2="169.9375" y2="799.8" stroke="#000" stroke-width="1.2"/>
<rect x="160.4" y="804.65" width="12.45" height="60.35" fill="#a3002b" stroke="#8e0024" stroke-width="0.8"/>
<line x1="166.625" y1="865" x2="166.625" y2="868.8" stroke="#000" stroke-width="1.3"/>
<text transform="translate(115.6,760.2) scale(1.06,1)" font-size="10.3" text-anchor="middle" font-style="normal">Mature cSP4</text>
<text x="166.6" y="786.6" font-size="9.4" text-anchor="middle" font-weight="normal" font-style="normal" >****</text>
<text transform="translate(20.4,818.3) rotate(-90) scale(0.71,1)" font-size="12.8" font-weight="normal" text-anchor="middle" dominant-baseline="central" stroke="#000" stroke-width="0.35">Cell no. (x10<tspan font-size="8.7" dy="-4.9">6</tspan><tspan dy="4.9">)</tspan></text>
<line x1="237.6" y1="767.5" x2="237.6" y2="865.75" stroke="#000" stroke-width="1.5"/>
<line x1="236.85" y1="865" x2="360.8" y2="865" stroke="#000" stroke-width="1.5"/>
<line x1="233.79999999999998" y1="770.8" x2="237.6" y2="770.8" stroke="#000" stroke-width="1.3"/>
<text transform="translate(229.8,775.0999999999999) scale(1.12,1)" font-size="10.3" text-anchor="end">8</text>
<line x1="233.79999999999998" y1="794.4" x2="237.6" y2="794.4" stroke="#000" stroke-width="1.3"/>
<text transform="translate(229.8,798.6999999999999) scale(1.12,1)" font-size="10.3" text-anchor="end">6</text>
<line x1="233.79999999999998" y1="817.9" x2="237.6" y2="817.9" stroke="#000" stroke-width="1.3"/>
<text transform="translate(229.8,822.1999999999999) scale(1.12,1)" font-size="10.3" text-anchor="end">4</text>
<line x1="233.79999999999998" y1="841.5" x2="237.6" y2="841.5" stroke="#000" stroke-width="1.3"/>
<text transform="translate(229.8,845.8) scale(1.12,1)" font-size="10.3" text-anchor="end">2</text>
<line x1="233.79999999999998" y1="865" x2="237.6" y2="865" stroke="#000" stroke-width="1.3"/>
<text transform="translate(229.8,869.3) scale(1.12,1)" font-size="10.3" text-anchor="end">0</text>
<line x1="248.375" y1="837" x2="248.375" y2="840.5" stroke="#000" stroke-width="1.3"/>
<line x1="245.0625" y1="837" x2="251.6875" y2="837" stroke="#000" stroke-width="1.2"/>
<rect x="242.15" y="839.9" width="12.45" height="25.1" fill="#2d4a7e" stroke="#1f3a6c" stroke-width="0.8"/>
<line x1="248.375" y1="865" x2="248.375" y2="868.8" stroke="#000" stroke-width="1.3"/>
<line x1="268.875" y1="838.6" x2="268.875" y2="841.75" stroke="#000" stroke-width="1.3"/>
<line x1="265.5625" y1="838.6" x2="272.1875" y2="838.6" stroke="#000" stroke-width="1.2"/>
<rect x="262.65" y="841.15" width="12.45" height="23.85" fill="#a3002b" stroke="#8e0024" stroke-width="0.8"/>
<line x1="268.875" y1="865" x2="268.875" y2="868.8" stroke="#000" stroke-width="1.3"/>
<line x1="289.125" y1="838.8" x2="289.125" y2="842.25" stroke="#000" stroke-width="1.3"/>
<line x1="285.8125" y1="838.8" x2="292.4375" y2="838.8" stroke="#000" stroke-width="1.2"/>
<rect x="282.9" y="841.65" width="12.45" height="23.35" fill="#2d4a7e" stroke="#1f3a6c" stroke-width="0.8"/>
<line x1="289.125" y1="865" x2="289.125" y2="868.8" stroke="#000" stroke-width="1.3"/>
<line x1="309.625" y1="841" x2="309.625" y2="844.25" stroke="#000" stroke-width="1.3"/>
<line x1="306.3125" y1="841" x2="312.9375" y2="841" stroke="#000" stroke-width="1.2"/>
<rect x="303.4" y="843.65" width="12.45" height="21.35" fill="#a3002b" stroke="#8e0024" stroke-width="0.8"/>
<line x1="309.625" y1="865" x2="309.625" y2="868.8" stroke="#000" stroke-width="1.3"/>
<line x1="329.875" y1="838" x2="329.875" y2="841" stroke="#000" stroke-width="1.3"/>
<line x1="326.5625" y1="838" x2="333.1875" y2="838" stroke="#000" stroke-width="1.2"/>
<rect x="323.65" y="840.4" width="12.45" height="24.6" fill="#2d4a7e" stroke="#1f3a6c" stroke-width="0.8"/>
<line x1="329.875" y1="865" x2="329.875" y2="868.8" stroke="#000" stroke-width="1.3"/>
<line x1="350.375" y1="806.5" x2="350.375" y2="811.5" stroke="#000" stroke-width="1.3"/>
<line x1="347.0625" y1="806.5" x2="353.6875" y2="806.5" stroke="#000" stroke-width="1.2"/>
<rect x="344.15" y="810.9" width="12.45" height="54.1" fill="#a3002b" stroke="#8e0024" stroke-width="0.8"/>
<line x1="350.375" y1="865" x2="350.375" y2="868.8" stroke="#000" stroke-width="1.3"/>
<text x="350.6" y="786.6" font-size="9.4" text-anchor="middle" font-weight="normal" font-style="normal" >****</text>
<text transform="translate(299.4,760.2) scale(1.05,1)" font-size="10.3" text-anchor="middle" font-style="normal">Mature TCR&#946;<tspan font-size="7.6" dy="-4.1" dx="0.4">hi</tspan><tspan dy="4.1"> SP8</tspan></text>
<text transform="translate(210.20000000000002,818.3) rotate(-90) scale(0.71,1)" font-size="12.8" font-weight="normal" text-anchor="middle" dominant-baseline="central" stroke="#000" stroke-width="0.35">Cell no. (x10<tspan font-size="8.7" dy="-4.9">5</tspan><tspan dy="4.9">)</tspan></text>
<text transform="translate(74.375,737.1) scale(1.04,1)" font-size="10.3" text-anchor="middle" font-style="normal">M2a</text>
<text transform="translate(115.625,737.1) scale(1.04,1)" font-size="10.3" text-anchor="middle" font-style="normal">M2b</text>
<text transform="translate(156.375,737.1) scale(1.04,1)" font-size="10.3" text-anchor="middle" font-style="normal">M2c</text>
<text transform="translate(258.625,737.1) scale(1.04,1)" font-size="10.3" text-anchor="middle" font-style="normal">M2a</text>
<text transform="translate(299.375,737.1) scale(1.04,1)" font-size="10.3" text-anchor="middle" font-style="normal">M2b</text>
<text transform="translate(340.125,737.1) scale(1.04,1)" font-size="10.3" text-anchor="middle" font-style="normal">M2c</text>
<text transform="translate(74.375,882.1) scale(1.04,1)" font-size="10.3" text-anchor="middle" font-style="normal">M2a</text>
<text transform="translate(115.625,882.1) scale(1.04,1)" font-size="10.3" text-anchor="middle" font-style="normal">M2b</text>
<text transform="translate(156.375,882.1) scale(1.04,1)" font-size="10.3" text-anchor="middle" font-style="normal">M2c</text>
<text transform="translate(258.625,882.1) scale(1.04,1)" font-size="10.3" text-anchor="middle" font-style="normal">M2a</text>
<text transform="translate(299.375,882.1) scale(1.04,1)" font-size="10.3" text-anchor="middle" font-style="normal">M2b</text>
<text transform="translate(340.125,882.1) scale(1.04,1)" font-size="10.3" text-anchor="middle" font-style="normal">M2c</text>
<rect x="376.7" y="65.9" width="7.0" height="7.0" fill="#2d4a7e" stroke="none" stroke-width="0"/>
<rect x="376.7" y="88.6" width="7.0" height="7.0" fill="#a3002b" stroke="none" stroke-width="0"/>
<text x="388.5" y="73.30000000000001" font-size="10.9" text-anchor="start" font-weight="normal" font-style="italic" >Ccl21a<tspan font-size="8.0" dy="-4.4" dx="0.3">+/-</tspan></text>
<text x="388.5" y="96.0" font-size="10.9" text-anchor="start" font-weight="normal" font-style="italic" >Ccl21a<tspan font-size="8.0" dy="-4.4" dx="0.3">-/-</tspan></text>
<rect x="376.7" y="201.3" width="7.0" height="7.0" fill="#2d4a7e" stroke="none" stroke-width="0"/>
<rect x="376.7" y="224.1" width="7.0" height="7.0" fill="#a3002b" stroke="none" stroke-width="0"/>
<text x="388.5" y="208.70000000000002" font-size="10.9" text-anchor="start" font-weight="normal" font-style="italic" >Ccl21a<tspan font-size="8.0" dy="-4.4" dx="0.3">+/-</tspan></text>
<text x="388.5" y="231.5" font-size="10.9" text-anchor="start" font-weight="normal" font-style="italic" >Ccl21a<tspan font-size="8.0" dy="-4.4" dx="0.3">-/-</tspan></text>
<rect x="456.7" y="352.2" width="7.0" height="7.0" fill="#2d4a7e" stroke="none" stroke-width="0"/>
<rect x="456.7" y="375.1" width="7.0" height="7.0" fill="#a3002b" stroke="none" stroke-width="0"/>
<text x="468.5" y="359.59999999999997" font-size="10.9" text-anchor="start" font-weight="normal" font-style="italic" >Ccl21a<tspan font-size="8.0" dy="-4.4" dx="0.3">+/-</tspan></text>
<text x="468.5" y="382.5" font-size="10.9" text-anchor="start" font-weight="normal" font-style="italic" >Ccl21a<tspan font-size="8.0" dy="-4.4" dx="0.3">-/-</tspan></text>
<rect x="456.7" y="513.2" width="7.0" height="7.0" fill="#2d4a7e" stroke="none" stroke-width="0"/>
<rect x="456.7" y="536.3" width="7.0" height="7.0" fill="#a3002b" stroke="none" stroke-width="0"/>
<text x="468.5" y="520.6" font-size="10.9" text-anchor="start" font-weight="normal" font-style="italic" >Ccl21a<tspan font-size="8.0" dy="-4.4" dx="0.3">+/-</tspan></text>
<text x="468.5" y="543.6999999999999" font-size="10.9" text-anchor="start" font-weight="normal" font-style="italic" >Ccl21a<tspan font-size="8.0" dy="-4.4" dx="0.3">-/-</tspan></text>
<rect x="381.8" y="658.2" width="7.0" height="7.0" fill="#2d4a7e" stroke="none" stroke-width="0"/>
<rect x="381.8" y="680.8" width="7.0" height="7.0" fill="#a3002b" stroke="none" stroke-width="0"/>
<text x="393.6" y="665.6" font-size="10.9" text-anchor="start" font-weight="normal" font-style="italic" >Ccl21a<tspan font-size="8.0" dy="-4.4" dx="0.3">+/-</tspan></text>
<text x="393.6" y="688.1999999999999" font-size="10.9" text-anchor="start" font-weight="normal" font-style="italic" >Ccl21a<tspan font-size="8.0" dy="-4.4" dx="0.3">-/-</tspan></text>
<clipPath id="clipa1"><rect x="41.0" y="28.1" width="92.19999999999999" height="89.5"/></clipPath>
<g clip-path="url(#clipa1)">
<g filter="url(#gblur)"><rect x="33.0" y="34" width="59.00" height="4.00" fill="#000" fill-opacity="0.05"/><rect x="92" y="34" width="16.00" height="4.00" fill="#000" fill-opacity="0.05"/><rect x="108" y="34" width="13.00" height="4.00" fill="#000" fill-opacity="0.15"/><rect x="121" y="34" width="20.20" height="4.00" fill="#000" fill-opacity="0.03"/><rect x="33.0" y="38" width="59.00" height="3.50" fill="#000" fill-opacity="0.25"/><rect x="92" y="38" width="16.00" height="3.50" fill="#000" fill-opacity="0.3"/><rect x="108" y="38" width="13.00" height="3.50" fill="#000" fill-opacity="0.5"/><rect x="121" y="38" width="20.20" height="3.50" fill="#000" fill-opacity="0.06"/><rect x="33.0" y="41.5" width="29.00" height="9.00" fill="#000" fill-opacity="0.93"/><rect x="62" y="41.5" width="53.00" height="9.00" fill="#000" fill-opacity="0.9"/><rect x="115" y="41.5" width="6.00" height="9.00" fill="#000" fill-opacity="0.85"/><rect x="121" y="41.5" width="5.00" height="9.00" fill="#000" fill-opacity="0.3"/><rect x="126" y="41.5" width="15.20" height="9.00" fill="#000" fill-opacity="0.05"/><rect x="33.0" y="50.5" width="25.00" height="7.50" fill="#000" fill-opacity="0.22"/><rect x="58" y="50.5" width="10.00" height="7.50" fill="#000" fill-opacity="0.32"/><rect x="68" y="50.5" width="12.00" height="7.50" fill="#000" fill-opacity="0.5"/><rect x="80" y="50.5" width="36.00" height="7.50" fill="#000" fill-opacity="0.9"/><rect x="116" y="50.5" width="5.00" height="7.50" fill="#000" fill-opacity="0.75"/><rect x="121" y="50.5" width="6.00" height="7.50" fill="#000" fill-opacity="0.12"/><rect x="127" y="50.5" width="14.20" height="7.50" fill="#000" fill-opacity="0.02"/><rect x="33.0" y="58" width="22.00" height="8.00" fill="#000" fill-opacity="0.28"/><rect x="55" y="58" width="11.00" height="8.00" fill="#000" fill-opacity="0.38"/><rect x="66" y="58" width="10.00" height="8.00" fill="#000" fill-opacity="0.6"/><rect x="76" y="58" width="36.00" height="8.00" fill="#000" fill-opacity="0.88"/><rect x="112" y="58" width="5.00" height="8.00" fill="#000" fill-opacity="0.6"/><rect x="117" y="58" width="4.00" height="8.00" fill="#000" fill-opacity="0.15"/><rect x="121" y="58" width="20.20" height="8.00" fill="#000" fill-opacity="0.02"/><rect x="33.0" y="66" width="22.00" height="10.00" fill="#000" fill-opacity="0.33"/><rect x="55" y="66" width="13.00" height="10.00" fill="#000" fill-opacity="0.45"/><rect x="68" y="66" width="8.00" height="10.00" fill="#000" fill-opacity="0.7"/><rect x="76" y="66" width="30.00" height="10.00" fill="#000" fill-opacity="0.9"/><rect x="106" y="66" width="7.00" height="10.00" fill="#000" fill-opacity="0.7"/><rect x="113" y="66" width="5.00" height="10.00" fill="#000" fill-opacity="0.2"/><rect x="118" y="66" width="23.20" height="10.00" fill="#000" fill-opacity="0.02"/><rect x="33.0" y="76" width="22.00" height="10.00" fill="#000" fill-opacity="0.35"/><rect x="55" y="76" width="12.00" height="10.00" fill="#000" fill-opacity="0.45"/><rect x="67" y="76" width="7.00" height="10.00" fill="#000" fill-opacity="0.65"/><rect x="74" y="76" width="22.00" height="10.00" fill="#000" fill-opacity="0.88"/><rect x="96" y="76" width="10.00" height="10.00" fill="#000" fill-opacity="0.7"/><rect x="106" y="76" width="6.00" height="10.00" fill="#000" fill-opacity="0.45"/><rect x="112" y="76" width="5.00" height="10.00" fill="#000" fill-opacity="0.12"/><rect x="117" y="76" width="24.20" height="10.00" fill="#000" fill-opacity="0.02"/><rect x="33.0" y="86" width="22.00" height="10.00" fill="#000" fill-opacity="0.36"/><rect x="55" y="86" width="13.00" height="10.00" fill="#000" fill-opacity="0.46"/><rect x="68" y="86" width="6.00" height="10.00" fill="#000" fill-opacity="0.62"/><rect x="74" y="86" width="18.00" height="10.00" fill="#000" fill-opacity="0.85"/><rect x="92" y="86" width="8.00" height="10.00" fill="#000" fill-opacity="0.45"/><rect x="100" y="86" width="8.00" height="10.00" fill="#000" fill-opacity="0.2"/><rect x="108" y="86" width="33.20" height="10.00" fill="#000" fill-opacity="0.02"/><rect x="33.0" y="96" width="25.00" height="10.00" fill="#000" fill-opacity="0.34"/><rect x="58" y="96" width="12.00" height="10.00" fill="#000" fill-opacity="0.45"/><rect x="70" y="96" width="6.00" height="10.00" fill="#000" fill-opacity="0.62"/><rect x="76" y="96" width="15.00" height="10.00" fill="#000" fill-opacity="0.78"/><rect x="91" y="96" width="9.00" height="10.00" fill="#000" fill-opacity="0.34"/><rect x="100" y="96" width="8.00" height="10.00" fill="#000" fill-opacity="0.12"/><rect x="108" y="96" width="33.20" height="10.00" fill="#000" fill-opacity="0.02"/><rect x="33.0" y="106" width="29.00" height="19.00" fill="#000" fill-opacity="0.3"/><rect x="62" y="106" width="12.00" height="19.00" fill="#000" fill-opacity="0.5"/><rect x="74" y="106" width="17.00" height="19.00" fill="#000" fill-opacity="0.72"/><rect x="91" y="106" width="9.00" height="19.00" fill="#000" fill-opacity="0.3"/><rect x="100" y="106" width="8.00" height="19.00" fill="#000" fill-opacity="0.1"/><rect x="108" y="106" width="33.20" height="19.00" fill="#000" fill-opacity="0.02"/></g>
<path d="M34.00,41.80 C36.13,40.56 46.27,41.20 50.00,41.20 C53.73,41.20 58.67,41.80 62.00,41.80 C65.33,41.80 71.00,41.36 75.00,41.20 C79.00,41.04 88.13,40.81 92.00,40.60 C95.87,40.39 101.33,40.00 104.00,39.60 C106.67,39.20 110.20,37.95 112.00,37.60 C113.80,37.25 116.43,36.81 117.50,37.00 C118.57,37.19 119.87,37.93 120.00,39.00 C120.13,40.07 119.03,43.00 118.50,45.00 C117.97,47.00 116.60,51.87 116.00,54.00 C115.40,56.13 114.53,58.87 114.00,61.00 C113.47,63.13 112.53,67.73 112.00,70.00 C111.47,72.27 110.80,76.13 110.00,78.00 C109.20,79.87 107.20,83.73 106.00,84.00 C104.80,84.27 102.47,81.60 101.00,80.00 C99.53,78.40 96.60,73.60 95.00,72.00 C93.40,70.40 90.20,70.13 89.00,68.00 C87.80,65.87 87.47,58.07 86.00,56.00 C84.53,53.93 81.20,53.23 78.00,52.50 C74.80,51.77 67.87,50.77 62.00,50.50 C56.13,50.23 37.73,51.66 34.00,50.50 C30.27,49.34 31.87,43.04 34.00,41.80Z" fill="#000" fill-opacity="0.93" filter="url(#b0_9)"/>
<path d="M61.70,47.10 C61.70,46.73 67.86,45.82 70.00,45.60 C72.14,45.38 77.43,45.29 80.00,45.20 C82.57,45.11 89.67,44.99 92.00,44.80 C94.33,44.61 98.13,43.95 100.00,43.60 C101.87,43.25 106.10,42.27 108.00,41.80 C109.90,41.33 115.51,39.23 116.30,39.60 C117.09,39.97 115.16,43.44 114.80,45.00 C114.44,46.56 113.61,51.48 113.20,53.00 C112.79,54.52 111.72,56.95 111.30,58.00 C110.88,59.05 110.07,60.33 109.60,62.00 C109.13,63.67 107.84,70.32 107.30,72.30 C106.76,74.28 105.54,78.51 105.00,79.00 C104.46,79.49 103.52,77.43 102.70,76.50 C101.88,75.57 99.07,72.04 98.00,71.00 C96.93,69.96 94.50,68.12 93.50,67.60 C92.50,67.07 90.08,66.75 89.40,66.50 C88.72,66.25 87.95,66.49 87.70,65.50 C87.45,64.51 87.61,59.40 87.30,58.00 C86.98,56.60 85.85,54.29 85.00,53.50 C84.15,52.71 81.75,51.75 80.00,51.20 C78.25,50.65 72.14,49.28 70.00,48.80 C67.86,48.32 61.70,47.47 61.70,47.10Z" fill="#fff"/>
<path d="M76.00,45.60 C77.17,45.23 81.10,45.10 85.00,44.60 C88.90,44.10 95.57,43.20 99.40,42.60 C103.23,42.00 105.35,41.43 108.00,41.00 C110.65,40.57 114.38,38.83 115.30,40.00 C116.22,41.17 114.13,45.50 113.50,48.00 C112.87,50.50 112.33,52.83 111.50,55.00 C110.67,57.17 109.75,59.70 108.50,61.00 C107.25,62.30 105.75,62.72 104.00,62.80 C102.25,62.88 99.63,62.63 98.00,61.50 C96.37,60.37 95.28,57.83 94.20,56.00 C93.12,54.17 92.87,51.87 91.50,50.50 C90.13,49.13 88.25,48.42 86.00,47.80 C83.75,47.18 79.67,47.17 78.00,46.80 C76.33,46.43 74.83,45.97 76.00,45.60Z" fill="none" stroke="#707070" stroke-width="0.7"/>
<path d="M92.00,47.00 C93.08,45.93 97.33,44.42 100.00,43.60 C102.67,42.78 105.75,42.47 108.00,42.10 C110.25,41.73 112.83,40.25 113.50,41.40 C114.17,42.55 112.58,46.65 112.00,49.00 C111.42,51.35 110.92,53.67 110.00,55.50 C109.08,57.33 107.83,59.17 106.50,60.00 C105.17,60.83 103.50,60.75 102.00,60.50 C100.50,60.25 98.67,59.58 97.50,58.50 C96.33,57.42 95.67,55.42 95.00,54.00 C94.33,52.58 94.00,51.17 93.50,50.00 C93.00,48.83 90.92,48.07 92.00,47.00Z" fill="none" stroke="#707070" stroke-width="0.7"/>
<path d="M95.17,47.71 C95.98,46.84 98.85,45.43 100.87,44.77 C102.88,44.11 105.56,43.93 107.28,43.73 C109.00,43.53 110.59,42.67 111.20,43.57 C111.80,44.47 111.28,47.31 110.91,49.12 C110.54,50.93 109.81,53.05 108.99,54.44 C108.18,55.83 107.08,56.90 106.03,57.46 C104.97,58.01 103.79,57.94 102.67,57.75 C101.54,57.56 100.20,57.10 99.28,56.32 C98.36,55.54 97.70,54.12 97.16,53.06 C96.61,52.00 96.35,50.85 96.02,49.95 C95.69,49.06 94.37,48.57 95.17,47.71Z" fill="none" stroke="#707070" stroke-width="0.7"/>
<path d="M97.86,48.30 C98.44,47.64 100.27,46.43 101.73,45.93 C103.18,45.42 105.35,45.34 106.61,45.25 C107.87,45.16 108.77,44.72 109.27,45.39 C109.78,46.06 109.87,47.92 109.66,49.25 C109.44,50.58 108.66,52.37 107.99,53.37 C107.31,54.38 106.42,54.95 105.62,55.29 C104.83,55.64 104.03,55.58 103.23,55.44 C102.42,55.31 101.48,55.01 100.79,54.47 C100.10,53.93 99.51,52.97 99.09,52.21 C98.67,51.45 98.48,50.56 98.27,49.91 C98.07,49.26 97.29,48.97 97.86,48.30Z" fill="none" stroke="#707070" stroke-width="0.7"/>
<ellipse cx="104.6" cy="49.8" rx="5.6" ry="4.5" fill="url(#coreg)"/>
<ellipse cx="86.6" cy="75.5" rx="6.6" ry="3.1" transform="rotate(-52 86.6 75.5)" fill="#fff"/>
</g>
<clipPath id="clipa2"><rect x="137.6" y="28.1" width="90.80000000000001" height="89.5"/></clipPath>
<g clip-path="url(#clipa2)">
<g filter="url(#gblur)"><rect x="129.6" y="34" width="58.40" height="4.00" fill="#000" fill-opacity="0.05"/><rect x="188" y="34" width="17.00" height="4.00" fill="#000" fill-opacity="0.05"/><rect x="205" y="34" width="11.00" height="4.00" fill="#000" fill-opacity="0.15"/><rect x="216" y="34" width="20.40" height="4.00" fill="#000" fill-opacity="0.03"/><rect x="129.6" y="38" width="58.40" height="3.50" fill="#000" fill-opacity="0.25"/><rect x="188" y="38" width="15.00" height="3.50" fill="#000" fill-opacity="0.3"/><rect x="203" y="38" width="13.00" height="3.50" fill="#000" fill-opacity="0.5"/><rect x="216" y="38" width="20.40" height="3.50" fill="#000" fill-opacity="0.06"/><rect x="129.6" y="41.5" width="27.40" height="9.00" fill="#000" fill-opacity="0.93"/><rect x="157" y="41.5" width="53.00" height="9.00" fill="#000" fill-opacity="0.9"/><rect x="210" y="41.5" width="6.00" height="9.00" fill="#000" fill-opacity="0.85"/><rect x="216" y="41.5" width="5.00" height="9.00" fill="#000" fill-opacity="0.25"/><rect x="221" y="41.5" width="15.40" height="9.00" fill="#000" fill-opacity="0.04"/><rect x="129.6" y="50.5" width="35.40" height="7.50" fill="#000" fill-opacity="0.22"/><rect x="165" y="50.5" width="10.00" height="7.50" fill="#000" fill-opacity="0.45"/><rect x="175" y="50.5" width="36.00" height="7.50" fill="#000" fill-opacity="0.9"/><rect x="211" y="50.5" width="5.00" height="7.50" fill="#000" fill-opacity="0.75"/><rect x="216" y="50.5" width="5.00" height="7.50" fill="#000" fill-opacity="0.12"/><rect x="221" y="50.5" width="15.40" height="7.50" fill="#000" fill-opacity="0.02"/><rect x="129.6" y="58" width="30.40" height="8.00" fill="#000" fill-opacity="0.25"/><rect x="160" y="58" width="8.00" height="8.00" fill="#000" fill-opacity="0.45"/><rect x="168" y="58" width="8.00" height="8.00" fill="#000" fill-opacity="0.7"/><rect x="176" y="58" width="34.00" height="8.00" fill="#000" fill-opacity="0.9"/><rect x="210" y="58" width="4.00" height="8.00" fill="#000" fill-opacity="0.55"/><rect x="214" y="58" width="5.00" height="8.00" fill="#000" fill-opacity="0.12"/><rect x="219" y="58" width="17.40" height="8.00" fill="#000" fill-opacity="0.02"/><rect x="129.6" y="66" width="25.40" height="10.00" fill="#000" fill-opacity="0.33"/><rect x="155" y="66" width="10.00" height="10.00" fill="#000" fill-opacity="0.48"/><rect x="165" y="66" width="40.00" height="10.00" fill="#000" fill-opacity="0.85"/><rect x="205" y="66" width="7.00" height="10.00" fill="#000" fill-opacity="0.75"/><rect x="212" y="66" width="5.00" height="10.00" fill="#000" fill-opacity="0.15"/><rect x="217" y="66" width="19.40" height="10.00" fill="#000" fill-opacity="0.02"/><rect x="129.6" y="76" width="20.40" height="10.00" fill="#000" fill-opacity="0.35"/><rect x="150" y="76" width="10.00" height="10.00" fill="#000" fill-opacity="0.5"/><rect x="160" y="76" width="45.00" height="10.00" fill="#000" fill-opacity="0.85"/><rect x="205" y="76" width="5.00" height="10.00" fill="#000" fill-opacity="0.4"/><rect x="210" y="76" width="26.40" height="10.00" fill="#000" fill-opacity="0.03"/><rect x="129.6" y="86" width="20.40" height="10.00" fill="#000" fill-opacity="0.38"/><rect x="150" y="86" width="10.00" height="10.00" fill="#000" fill-opacity="0.52"/><rect x="160" y="86" width="30.00" height="10.00" fill="#000" fill-opacity="0.8"/><rect x="190" y="86" width="10.00" height="10.00" fill="#000" fill-opacity="0.45"/><rect x="200" y="86" width="7.00" height="10.00" fill="#000" fill-opacity="0.2"/><rect x="207" y="86" width="29.40" height="10.00" fill="#000" fill-opacity="0.02"/><rect x="129.6" y="96" width="20.40" height="10.00" fill="#000" fill-opacity="0.35"/><rect x="150" y="96" width="15.00" height="10.00" fill="#000" fill-opacity="0.5"/><rect x="165" y="96" width="23.00" height="10.00" fill="#000" fill-opacity="0.75"/><rect x="188" y="96" width="10.00" height="10.00" fill="#000" fill-opacity="0.36"/><rect x="198" y="96" width="8.00" height="10.00" fill="#000" fill-opacity="0.15"/><rect x="206" y="96" width="30.40" height="10.00" fill="#000" fill-opacity="0.02"/><rect x="129.6" y="106" width="20.40" height="19.00" fill="#000" fill-opacity="0.32"/><rect x="150" y="106" width="15.00" height="19.00" fill="#000" fill-opacity="0.5"/><rect x="165" y="106" width="23.00" height="19.00" fill="#000" fill-opacity="0.7"/><rect x="188" y="106" width="10.00" height="19.00" fill="#000" fill-opacity="0.32"/><rect x="198" y="106" width="8.00" height="19.00" fill="#000" fill-opacity="0.12"/><rect x="206" y="106" width="30.40" height="19.00" fill="#000" fill-opacity="0.02"/></g>
<path d="M130.00,41.80 C132.67,40.59 146.40,41.37 150.00,41.40 C153.60,41.43 154.33,42.03 157.00,42.00 C159.67,41.97 165.87,41.28 170.00,41.20 C174.13,41.12 184.67,41.40 188.00,41.40 C191.33,41.40 193.40,41.65 195.00,41.20 C196.60,40.75 198.53,38.59 200.00,38.00 C201.47,37.41 204.33,37.00 206.00,36.80 C207.67,36.60 211.30,36.21 212.50,36.50 C213.70,36.79 214.87,37.73 215.00,39.00 C215.13,40.27 213.97,44.00 213.50,46.00 C213.03,48.00 212.03,51.87 211.50,54.00 C210.97,56.13 210.10,59.60 209.50,62.00 C208.90,64.40 207.60,69.60 207.00,72.00 C206.40,74.40 205.80,78.40 205.00,80.00 C204.20,81.60 202.20,84.00 201.00,84.00 C199.80,84.00 197.20,81.20 196.00,80.00 C194.80,78.80 193.20,75.53 192.00,75.00 C190.80,74.47 188.33,75.07 187.00,76.00 C185.67,76.93 183.20,80.40 182.00,82.00 C180.80,83.60 179.07,88.00 178.00,88.00 C176.93,88.00 174.27,83.87 174.00,82.00 C173.73,80.13 175.07,76.13 176.00,74.00 C176.93,71.87 179.93,67.87 181.00,66.00 C182.07,64.13 184.13,61.73 184.00,60.00 C183.87,58.27 181.87,54.33 180.00,53.00 C178.13,51.67 173.07,50.33 170.00,50.00 C166.93,49.67 162.33,50.43 157.00,50.50 C151.67,50.57 133.60,51.66 130.00,50.50 C126.40,49.34 127.33,43.01 130.00,41.80Z" fill="#000" fill-opacity="0.93" filter="url(#b0_9)"/>
<ellipse cx="190.5" cy="75.5" rx="3.2" ry="3.8" fill="#000" filter="url(#b0_9)"/>
<path d="M156.70,46.30 C156.43,45.83 164.01,44.05 166.50,43.70 C168.99,43.35 175.43,43.27 178.00,43.30 C180.57,43.33 186.61,43.89 188.50,44.00 C190.39,44.11 193.13,44.52 194.20,44.20 C195.27,43.89 196.63,41.86 197.70,41.30 C198.77,40.74 201.79,39.67 203.40,39.40 C205.01,39.13 210.50,38.71 211.50,39.00 C212.50,39.29 212.27,40.62 212.00,41.90 C211.73,43.18 209.86,47.71 209.20,50.00 C208.53,52.29 206.98,58.82 206.30,61.50 C205.62,64.18 204.01,70.71 203.40,73.00 C202.79,75.29 201.76,80.42 201.10,81.10 C200.44,81.78 198.36,79.53 197.70,78.80 C197.03,78.06 195.95,75.59 195.40,74.80 C194.85,74.01 193.68,72.36 193.00,72.00 C192.32,71.64 190.19,71.44 189.60,71.70 C189.00,71.96 188.44,73.37 187.90,74.20 C187.36,75.03 185.75,77.73 185.00,78.80 C184.25,79.87 182.25,82.53 181.50,83.40 C180.75,84.28 179.26,86.70 178.60,86.30 C177.94,85.90 176.17,81.03 175.80,80.00 C175.43,78.97 175.00,78.44 175.40,77.50 C175.80,76.56 178.35,73.23 179.20,71.90 C180.05,70.57 182.09,67.31 182.70,66.10 C183.31,64.89 184.33,62.70 184.40,61.50 C184.47,60.30 184.05,57.01 183.30,55.80 C182.55,54.59 179.69,52.05 178.00,51.10 C176.31,50.16 171.29,48.26 168.80,47.70 C166.31,47.14 156.97,46.77 156.70,46.30Z" fill="#fff"/>
<path d="M167.00,46.20 C168.33,45.82 174.50,45.37 178.00,45.30 C181.50,45.23 185.33,45.77 188.00,45.80 C190.67,45.83 192.17,46.05 194.00,45.50 C195.83,44.95 197.17,43.33 199.00,42.50 C200.83,41.67 203.08,40.88 205.00,40.50 C206.92,40.12 209.92,38.78 210.50,40.20 C211.08,41.62 209.25,46.20 208.50,49.00 C207.75,51.80 206.83,54.67 206.00,57.00 C205.17,59.33 204.75,61.75 203.50,63.00 C202.25,64.25 200.17,64.67 198.50,64.50 C196.83,64.33 194.92,63.42 193.50,62.00 C192.08,60.58 191.00,57.92 190.00,56.00 C189.00,54.08 189.17,51.78 187.50,50.50 C185.83,49.22 182.92,48.78 180.00,48.30 C177.08,47.82 172.17,47.95 170.00,47.60 C167.83,47.25 165.67,46.58 167.00,46.20Z" fill="none" stroke="#707070" stroke-width="0.7"/>
<path d="M190.00,48.00 C190.75,46.52 193.83,45.57 196.00,44.60 C198.17,43.63 200.83,42.70 203.00,42.20 C205.17,41.70 208.25,40.30 209.00,41.60 C209.75,42.90 208.17,47.43 207.50,50.00 C206.83,52.57 205.92,55.08 205.00,57.00 C204.08,58.92 203.25,60.67 202.00,61.50 C200.75,62.33 198.92,62.42 197.50,62.00 C196.08,61.58 194.50,60.42 193.50,59.00 C192.50,57.58 192.08,55.33 191.50,53.50 C190.92,51.67 189.25,49.48 190.00,48.00Z" fill="none" stroke="#707070" stroke-width="0.7"/>
<path d="M192.32,48.68 C192.91,47.48 195.08,46.51 196.76,45.75 C198.43,45.00 200.73,44.42 202.38,44.14 C204.04,43.86 206.01,43.08 206.68,44.08 C207.35,45.08 206.80,48.18 206.38,50.15 C205.96,52.13 204.94,54.46 204.14,55.93 C203.34,57.39 202.55,58.39 201.56,58.94 C200.57,59.48 199.26,59.52 198.18,59.22 C197.10,58.92 195.90,58.16 195.07,57.12 C194.25,56.09 193.69,54.41 193.23,53.00 C192.77,51.60 191.74,49.89 192.32,48.68Z" fill="none" stroke="#707070" stroke-width="0.7"/>
<path d="M194.40,49.29 C194.83,48.36 196.29,47.49 197.53,46.93 C198.77,46.36 200.62,46.03 201.82,45.90 C203.03,45.77 204.21,45.39 204.76,46.13 C205.31,46.87 205.38,48.88 205.13,50.33 C204.88,51.78 203.92,53.76 203.26,54.83 C202.61,55.90 201.93,56.39 201.18,56.73 C200.43,57.07 199.55,57.08 198.76,56.87 C197.97,56.66 197.10,56.20 196.45,55.47 C195.81,54.75 195.24,53.55 194.90,52.52 C194.55,51.49 193.96,50.23 194.40,49.29Z" fill="none" stroke="#707070" stroke-width="0.7"/>
<ellipse cx="200.2" cy="51.0" rx="5.4" ry="4.8" fill="url(#coreg)"/>
</g>
<rect x="41.0" y="28.1" width="92.19999999999999" height="89.5" fill="none" stroke="#7a7a7a" stroke-width="0.9"/>
<line x1="41.0" y1="65.3" x2="133.2" y2="65.3" stroke="#7a7a7a" stroke-width="0.9"/>
<line x1="92.0" y1="28.1" x2="92.0" y2="117.6" stroke="#7a7a7a" stroke-width="0.9"/>
<line x1="39.2" y1="33" x2="41.0" y2="33" stroke="#555" stroke-width="0.7"/>
<line x1="39.2" y1="37" x2="41.0" y2="37" stroke="#555" stroke-width="0.7"/>
<line x1="39.2" y1="41" x2="41.0" y2="41" stroke="#555" stroke-width="0.7"/>
<line x1="39.2" y1="47" x2="41.0" y2="47" stroke="#555" stroke-width="0.7"/>
<line x1="39.2" y1="53" x2="41.0" y2="53" stroke="#555" stroke-width="0.7"/>
<line x1="39.2" y1="57" x2="41.0" y2="57" stroke="#555" stroke-width="0.7"/>
<line x1="39.2" y1="61" x2="41.0" y2="61" stroke="#555" stroke-width="0.7"/>
<line x1="39.2" y1="71" x2="41.0" y2="71" stroke="#555" stroke-width="0.7"/>
<line x1="39.2" y1="77" x2="41.0" y2="77" stroke="#555" stroke-width="0.7"/>
<line x1="39.2" y1="81" x2="41.0" y2="81" stroke="#555" stroke-width="0.7"/>
<line x1="39.2" y1="87" x2="41.0" y2="87" stroke="#555" stroke-width="0.7"/>
<line x1="39.2" y1="93" x2="41.0" y2="93" stroke="#555" stroke-width="0.7"/>
<line x1="39.2" y1="97" x2="41.0" y2="97" stroke="#555" stroke-width="0.7"/>
<line x1="39.2" y1="101" x2="41.0" y2="101" stroke="#555" stroke-width="0.7"/>
<line x1="39.2" y1="107" x2="41.0" y2="107" stroke="#555" stroke-width="0.7"/>
<line x1="39.2" y1="113" x2="41.0" y2="113" stroke="#555" stroke-width="0.7"/>
<line x1="45.0" y1="117.6" x2="45.0" y2="119.39999999999999" stroke="#555" stroke-width="0.7"/>
<line x1="49.0" y1="117.6" x2="49.0" y2="119.39999999999999" stroke="#555" stroke-width="0.7"/>
<line x1="53.0" y1="117.6" x2="53.0" y2="119.39999999999999" stroke="#555" stroke-width="0.7"/>
<line x1="59.0" y1="117.6" x2="59.0" y2="119.39999999999999" stroke="#555" stroke-width="0.7"/>
<line x1="65.0" y1="117.6" x2="65.0" y2="119.39999999999999" stroke="#555" stroke-width="0.7"/>
<line x1="69.0" y1="117.6" x2="69.0" y2="119.39999999999999" stroke="#555" stroke-width="0.7"/>
<line x1="73.0" y1="117.6" x2="73.0" y2="119.39999999999999" stroke="#555" stroke-width="0.7"/>
<line x1="79.0" y1="117.6" x2="79.0" y2="119.39999999999999" stroke="#555" stroke-width="0.7"/>
<line x1="85.0" y1="117.6" x2="85.0" y2="119.39999999999999" stroke="#555" stroke-width="0.7"/>
<line x1="93.0" y1="117.6" x2="93.0" y2="119.39999999999999" stroke="#555" stroke-width="0.7"/>
<line x1="99.0" y1="117.6" x2="99.0" y2="119.39999999999999" stroke="#555" stroke-width="0.7"/>
<line x1="105.0" y1="117.6" x2="105.0" y2="119.39999999999999" stroke="#555" stroke-width="0.7"/>
<line x1="111.0" y1="117.6" x2="111.0" y2="119.39999999999999" stroke="#555" stroke-width="0.7"/>
<line x1="117.0" y1="117.6" x2="117.0" y2="119.39999999999999" stroke="#555" stroke-width="0.7"/>
<line x1="123.0" y1="117.6" x2="123.0" y2="119.39999999999999" stroke="#555" stroke-width="0.7"/>
<line x1="129.0" y1="117.6" x2="129.0" y2="119.39999999999999" stroke="#555" stroke-width="0.7"/>
<text x="45.2" y="38.6" font-size="12.2" text-anchor="start" font-weight="normal" font-style="normal" letter-spacing="0.2">6.2</text>
<text x="132.0" y="38.6" font-size="12.2" text-anchor="end" font-weight="normal" font-style="normal" letter-spacing="0.2">87.6</text>
<text x="45.2" y="117.0" font-size="12.2" text-anchor="start" font-weight="normal" font-style="normal" letter-spacing="0.2" stroke="#fff" stroke-opacity="0.55" stroke-width="1.6" paint-order="stroke">4.5</text>
<text x="132.0" y="117.0" font-size="12.2" text-anchor="end" font-weight="normal" font-style="normal" letter-spacing="0.2">1.7</text>
<text x="86.3" y="23.2" font-size="11.3" text-anchor="middle" font-weight="normal" font-style="italic" >Ccl21a<tspan font-size="8.0" dy="-4.4" dx="0.3">+/-</tspan></text>
<rect x="137.6" y="28.1" width="90.80000000000001" height="89.5" fill="none" stroke="#7a7a7a" stroke-width="0.9"/>
<line x1="137.6" y1="65.3" x2="228.4" y2="65.3" stroke="#7a7a7a" stroke-width="0.9"/>
<line x1="188.2" y1="28.1" x2="188.2" y2="117.6" stroke="#7a7a7a" stroke-width="0.9"/>
<line x1="135.79999999999998" y1="33" x2="137.6" y2="33" stroke="#555" stroke-width="0.7"/>
<line x1="135.79999999999998" y1="37" x2="137.6" y2="37" stroke="#555" stroke-width="0.7"/>
<line x1="135.79999999999998" y1="41" x2="137.6" y2="41" stroke="#555" stroke-width="0.7"/>
<line x1="135.79999999999998" y1="47" x2="137.6" y2="47" stroke="#555" stroke-width="0.7"/>
<line x1="135.79999999999998" y1="53" x2="137.6" y2="53" stroke="#555" stroke-width="0.7"/>
<line x1="135.79999999999998" y1="57" x2="137.6" y2="57" stroke="#555" stroke-width="0.7"/>
<line x1="135.79999999999998" y1="61" x2="137.6" y2="61" stroke="#555" stroke-width="0.7"/>
<line x1="135.79999999999998" y1="71" x2="137.6" y2="71" stroke="#555" stroke-width="0.7"/>
<line x1="135.79999999999998" y1="77" x2="137.6" y2="77" stroke="#555" stroke-width="0.7"/>
<line x1="135.79999999999998" y1="81" x2="137.6" y2="81" stroke="#555" stroke-width="0.7"/>
<line x1="135.79999999999998" y1="87" x2="137.6" y2="87" stroke="#555" stroke-width="0.7"/>
<line x1="135.79999999999998" y1="93" x2="137.6" y2="93" stroke="#555" stroke-width="0.7"/>
<line x1="135.79999999999998" y1="97" x2="137.6" y2="97" stroke="#555" stroke-width="0.7"/>
<line x1="135.79999999999998" y1="101" x2="137.6" y2="101" stroke="#555" stroke-width="0.7"/>
<line x1="135.79999999999998" y1="107" x2="137.6" y2="107" stroke="#555" stroke-width="0.7"/>
<line x1="135.79999999999998" y1="113" x2="137.6" y2="113" stroke="#555" stroke-width="0.7"/>
<line x1="141.6" y1="117.6" x2="141.6" y2="119.39999999999999" stroke="#555" stroke-width="0.7"/>
<line x1="145.6" y1="117.6" x2="145.6" y2="119.39999999999999" stroke="#555" stroke-width="0.7"/>
<line x1="149.6" y1="117.6" x2="149.6" y2="119.39999999999999" stroke="#555" stroke-width="0.7"/>
<line x1="155.6" y1="117.6" x2="155.6" y2="119.39999999999999" stroke="#555" stroke-width="0.7"/>
<line x1="161.6" y1="117.6" x2="161.6" y2="119.39999999999999" stroke="#555" stroke-width="0.7"/>
<line x1="165.6" y1="117.6" x2="165.6" y2="119.39999999999999" stroke="#555" stroke-width="0.7"/>
<line x1="169.6" y1="117.6" x2="169.6" y2="119.39999999999999" stroke="#555" stroke-width="0.7"/>
<line x1="175.6" y1="117.6" x2="175.6" y2="119.39999999999999" stroke="#555" stroke-width="0.7"/>
<line x1="181.6" y1="117.6" x2="181.6" y2="119.39999999999999" stroke="#555" stroke-width="0.7"/>
<line x1="189.6" y1="117.6" x2="189.6" y2="119.39999999999999" stroke="#555" stroke-width="0.7"/>
<line x1="195.6" y1="117.6" x2="195.6" y2="119.39999999999999" stroke="#555" stroke-width="0.7"/>
<line x1="201.6" y1="117.6" x2="201.6" y2="119.39999999999999" stroke="#555" stroke-width="0.7"/>
<line x1="207.6" y1="117.6" x2="207.6" y2="119.39999999999999" stroke="#555" stroke-width="0.7"/>
<line x1="213.6" y1="117.6" x2="213.6" y2="119.39999999999999" stroke="#555" stroke-width="0.7"/>
<line x1="219.6" y1="117.6" x2="219.6" y2="119.39999999999999" stroke="#555" stroke-width="0.7"/>
<line x1="225.6" y1="117.6" x2="225.6" y2="119.39999999999999" stroke="#555" stroke-width="0.7"/>
<text x="141.79999999999998" y="38.6" font-size="12.2" text-anchor="start" font-weight="normal" font-style="normal" letter-spacing="0.2">7.0</text>
<text x="227.20000000000002" y="38.6" font-size="12.2" text-anchor="end" font-weight="normal" font-style="normal" letter-spacing="0.2">84.5</text>
<text x="141.79999999999998" y="117.0" font-size="12.2" text-anchor="start" font-weight="normal" font-style="normal" letter-spacing="0.2" stroke="#fff" stroke-opacity="0.55" stroke-width="1.6" paint-order="stroke">6.3</text>
<text x="227.20000000000002" y="117.0" font-size="12.2" text-anchor="end" font-weight="normal" font-style="normal" letter-spacing="0.2">2.2</text>
<text x="182.2" y="23.2" font-size="11.3" text-anchor="middle" font-weight="normal" font-style="italic" >Ccl21a<tspan font-size="8.0" dy="-4.4" dx="0.3">-/-</tspan></text>
<text transform="translate(26.599999999999998,101.4) rotate(-90) scale(0.65,1)" font-size="12.8" font-weight="normal" text-anchor="middle" dominant-baseline="central" stroke="#000" stroke-width="0.4">CD4</text>
<text transform="translate(60.0,137.0) scale(0.66,1)" font-size="12.8" font-weight="bold" text-anchor="middle">CD8</text>
<line x1="72" y1="132.6" x2="228.8" y2="132.6" stroke="#000" stroke-width="1.3"/>
<clipPath id="clipb1"><rect x="30.9" y="313.9" width="92.6" height="91.60000000000002"/></clipPath>
<g clip-path="url(#clipb1)">
<g filter="url(#dith2)"><path d="M31.00,340.00 C32.40,336.60 42.10,338.45 45.00,338.00 C47.90,337.55 57.30,335.90 60.00,335.50 C62.70,335.10 69.60,334.00 72.00,334.00 C74.40,334.00 82.00,334.80 84.00,335.50 C86.00,336.20 90.90,339.55 92.00,341.00 C93.10,342.45 96.00,349.70 95.00,350.00 C94.00,350.30 84.70,345.00 82.00,344.00 C79.30,343.00 71.00,339.60 68.00,340.00 C65.00,340.40 54.60,346.40 52.00,348.00 C49.40,349.60 43.20,354.30 42.00,356.00 C40.80,357.70 41.10,363.40 40.00,365.00 C38.90,366.60 31.90,374.50 31.00,372.00 C30.10,369.50 29.60,343.40 31.00,340.00Z" fill="#000" fill-opacity="0.3"/><path d="M31.00,336.00 C33.90,335.40 55.10,334.30 60.00,334.00 C64.90,333.70 77.00,333.00 80.00,333.00 C83.00,333.00 89.00,333.50 90.00,334.00 C91.00,334.50 93.00,337.60 90.00,338.00 C87.00,338.40 65.90,337.80 60.00,338.00 C54.10,338.20 33.90,340.20 31.00,340.00 C28.10,339.80 28.10,336.60 31.00,336.00Z" fill="#000" fill-opacity="0.08"/><path d="M31.00,345.00 C31.90,342.10 38.70,344.00 40.00,345.00 C41.30,346.00 43.00,353.30 44.00,355.00 C45.00,356.70 48.20,360.70 50.00,362.00 C51.80,363.30 60.00,366.80 62.00,368.00 C64.00,369.20 73.10,373.40 70.00,374.00 C66.90,374.60 34.90,376.90 31.00,374.00 C27.10,371.10 30.10,347.90 31.00,345.00Z" fill="#000" fill-opacity="0.3"/><path d="M31.00,375.00 C35.00,371.95 67.50,371.95 71.00,375.00 C74.50,378.05 70.00,402.45 66.00,405.50 C62.00,408.55 34.50,408.55 31.00,405.50 C27.50,402.45 27.00,378.05 31.00,375.00Z" fill="#000" fill-opacity="0.12"/><path d="M66.00,376.00 C67.40,373.05 76.60,374.40 78.00,376.00 C79.40,377.60 79.80,389.05 80.00,392.00 C80.20,394.95 81.60,404.15 80.00,405.50 C78.40,406.85 65.40,408.45 64.00,405.50 C62.60,402.55 64.60,378.95 66.00,376.00Z" fill="#000" fill-opacity="0.3"/><path d="M88.00,382.00 C88.70,377.65 93.12,364.70 95.00,362.00 C96.88,359.30 105.62,350.65 106.80,355.00 C107.98,359.35 108.68,400.45 106.80,405.50 C104.92,410.55 89.88,407.85 88.00,405.50 C86.12,403.15 87.30,386.35 88.00,382.00Z" fill="#000" fill-opacity="0.18"/><path d="M91.10,332.00 C94.34,330.00 120.26,324.65 123.50,332.00 C126.74,339.35 125.17,398.15 123.50,405.50 C121.83,412.85 108.47,410.85 106.80,405.50 C105.13,400.15 108.37,357.35 106.80,352.00 C105.23,346.65 92.67,354.00 91.10,352.00 C89.53,350.00 87.86,334.00 91.10,332.00Z" fill="#000" fill-opacity="0.04"/></g>
<path d="M41.20,353.10 C42.03,351.60 46.87,348.52 50.00,346.50 C53.13,344.48 56.92,342.50 60.00,341.00 C63.08,339.50 66.00,338.33 68.50,337.50 C71.00,336.67 72.75,336.00 75.00,336.00 C77.25,336.00 79.83,336.50 82.00,337.50 C84.17,338.50 86.42,339.92 88.00,342.00 C89.58,344.08 90.50,347.33 91.50,350.00 C92.50,352.67 93.50,355.33 94.00,358.00 C94.50,360.67 94.75,362.67 94.50,366.00 C94.25,369.33 93.25,374.33 92.50,378.00 C91.75,381.67 90.65,385.17 90.00,388.00 C89.35,390.83 88.88,392.83 88.60,395.00 C88.32,397.17 90.02,400.00 88.30,401.00 C86.58,402.00 80.10,402.33 78.30,401.00 C76.50,399.67 77.85,395.33 77.50,393.00 C77.15,390.67 76.87,389.17 76.20,387.00 C75.53,384.83 74.38,382.12 73.50,380.00 C72.62,377.88 72.15,376.13 70.90,374.30 C69.65,372.47 67.82,370.63 66.00,369.00 C64.18,367.37 62.33,366.08 60.00,364.50 C57.67,362.92 54.50,361.00 52.00,359.50 C49.50,358.00 46.80,356.57 45.00,355.50 C43.20,354.43 40.37,354.60 41.20,353.10Z" fill="#fff"/>
<ellipse cx="74.5" cy="352.5" rx="11" ry="9" fill="#000" fill-opacity="0.42" filter="url(#b1_5)"/>
<ellipse cx="74.5" cy="352.5" rx="6" ry="4.8" fill="#000" fill-opacity="0.45" filter="url(#b0_9)"/>
<ellipse cx="84" cy="366" rx="6" ry="7" fill="#000" fill-opacity="0.18" filter="url(#b1_5)"/>
<path d="M41.20,353.10 C42.03,351.60 46.87,348.52 50.00,346.50 C53.13,344.48 56.92,342.50 60.00,341.00 C63.08,339.50 66.00,338.33 68.50,337.50 C71.00,336.67 72.75,336.00 75.00,336.00 C77.25,336.00 79.83,336.50 82.00,337.50 C84.17,338.50 86.42,339.92 88.00,342.00 C89.58,344.08 90.50,347.33 91.50,350.00 C92.50,352.67 93.50,355.33 94.00,358.00 C94.50,360.67 94.75,362.67 94.50,366.00 C94.25,369.33 93.25,374.33 92.50,378.00 C91.75,381.67 90.65,385.17 90.00,388.00 C89.35,390.83 88.88,392.83 88.60,395.00 C88.32,397.17 90.02,400.00 88.30,401.00 C86.58,402.00 80.10,402.33 78.30,401.00 C76.50,399.67 77.85,395.33 77.50,393.00 C77.15,390.67 76.87,389.17 76.20,387.00 C75.53,384.83 74.38,382.12 73.50,380.00 C72.62,377.88 72.15,376.13 70.90,374.30 C69.65,372.47 67.82,370.63 66.00,369.00 C64.18,367.37 62.33,366.08 60.00,364.50 C57.67,362.92 54.50,361.00 52.00,359.50 C49.50,358.00 46.80,356.57 45.00,355.50 C43.20,354.43 40.37,354.60 41.20,353.10Z" fill="none" stroke="#333" stroke-width="0.55"/>
<path d="M47.45,352.99 C48.10,351.75 51.73,349.23 54.19,347.53 C56.66,345.82 59.70,344.06 62.23,342.77 C64.77,341.48 67.30,340.48 69.41,339.78 C71.53,339.09 73.02,338.58 74.92,338.59 C76.83,338.59 78.99,338.99 80.84,339.82 C82.69,340.64 84.63,341.78 86.02,343.54 C87.41,345.29 88.36,348.07 89.19,350.34 C90.02,352.61 90.69,354.93 91.00,357.15 C91.31,359.37 91.36,361.01 91.03,363.66 C90.69,366.30 89.70,370.20 89.00,373.04 C88.30,375.88 87.38,378.54 86.81,380.70 C86.25,382.87 85.87,384.38 85.62,386.03 C85.38,387.67 86.69,389.81 85.33,390.57 C83.98,391.34 78.90,391.61 77.49,390.60 C76.08,389.60 77.15,386.32 76.87,384.56 C76.60,382.79 76.39,381.66 75.86,380.02 C75.33,378.38 74.41,376.33 73.69,374.73 C72.97,373.13 72.59,371.81 71.54,370.41 C70.49,369.01 68.93,367.61 67.38,366.31 C65.84,365.02 64.20,363.96 62.26,362.63 C60.33,361.30 57.74,359.61 55.75,358.33 C53.77,357.05 51.73,355.85 50.34,354.96 C48.96,354.07 46.81,354.23 47.45,352.99Z" fill="none" stroke="#333" stroke-width="0.55"/>
<path d="M52.53,352.90 C53.02,351.87 55.71,349.81 57.64,348.37 C59.57,346.93 62.01,345.36 64.10,344.25 C66.19,343.14 68.38,342.28 70.18,341.69 C71.97,341.10 73.24,340.73 74.86,340.74 C76.47,340.75 78.29,341.06 79.88,341.75 C81.46,342.43 83.14,343.35 84.36,344.83 C85.59,346.31 86.54,348.69 87.23,350.63 C87.92,352.56 88.34,354.60 88.50,356.45 C88.66,358.30 88.57,359.64 88.18,361.73 C87.79,363.83 86.83,366.85 86.18,369.04 C85.52,371.23 84.75,373.21 84.26,374.85 C83.77,376.48 83.46,377.61 83.24,378.85 C83.03,380.08 84.03,381.67 82.96,382.25 C81.90,382.82 77.93,383.04 76.83,382.30 C75.74,381.56 76.58,379.11 76.37,377.79 C76.16,376.48 76.00,375.63 75.58,374.41 C75.16,373.19 74.43,371.66 73.85,370.46 C73.26,369.27 72.95,368.30 72.07,367.23 C71.18,366.17 69.85,365.12 68.53,364.09 C67.21,363.06 65.76,362.19 64.15,361.07 C62.53,359.95 60.42,358.46 58.85,357.37 C57.27,356.28 55.75,355.26 54.70,354.51 C53.64,353.77 52.04,353.92 52.53,352.90Z" fill="none" stroke="#333" stroke-width="0.55"/>
<path d="M57.07,352.81 C57.43,351.98 59.31,350.34 60.77,349.14 C62.22,347.94 64.13,346.56 65.82,345.61 C67.50,344.67 69.39,343.94 70.88,343.46 C72.38,342.97 73.45,342.71 74.80,342.72 C76.15,342.73 77.65,342.98 78.99,343.53 C80.32,344.08 81.75,344.80 82.81,346.03 C83.88,347.26 84.81,349.27 85.38,350.90 C85.94,352.53 86.15,354.28 86.19,355.80 C86.22,357.31 86.02,358.38 85.60,359.99 C85.18,361.61 84.26,363.86 83.65,365.47 C83.05,367.08 82.41,368.49 82.00,369.67 C81.58,370.84 81.33,371.64 81.14,372.52 C80.96,373.39 81.69,374.51 80.88,374.93 C80.07,375.34 77.09,375.51 76.26,375.00 C75.44,374.48 76.09,372.74 75.93,371.82 C75.78,370.89 75.66,370.30 75.33,369.43 C75.01,368.57 74.45,367.50 73.99,366.65 C73.52,365.81 73.28,365.13 72.54,364.36 C71.81,363.60 70.69,362.85 69.58,362.06 C68.47,361.27 67.20,360.56 65.88,359.63 C64.56,358.70 62.88,357.41 61.67,356.49 C60.46,355.57 59.38,354.73 58.62,354.12 C57.85,353.50 56.72,353.64 57.07,352.81Z" fill="none" stroke="#333" stroke-width="0.55"/>
<path d="M60.67,352.75 C60.93,352.08 62.19,350.76 63.29,349.75 C64.38,348.75 65.87,347.54 67.23,346.73 C68.59,345.93 70.21,345.31 71.46,344.91 C72.72,344.51 73.62,344.32 74.75,344.34 C75.88,344.35 77.12,344.54 78.26,344.99 C79.39,345.44 80.61,346.01 81.53,347.03 C82.46,348.05 83.36,349.76 83.82,351.13 C84.28,352.50 84.34,354.02 84.29,355.26 C84.24,356.51 83.97,357.36 83.53,358.59 C83.09,359.83 82.22,361.49 81.67,362.66 C81.12,363.83 80.59,364.80 80.23,365.63 C79.87,366.45 79.67,367.00 79.51,367.60 C79.35,368.21 79.88,368.97 79.27,369.26 C78.65,369.55 76.43,369.69 75.82,369.34 C75.21,368.99 75.70,367.80 75.59,367.17 C75.47,366.54 75.39,366.13 75.14,365.55 C74.89,364.96 74.47,364.23 74.09,363.65 C73.72,363.07 73.53,362.61 72.92,362.07 C72.31,361.53 71.36,361.01 70.43,360.40 C69.49,359.80 68.38,359.23 67.30,358.46 C66.22,357.69 64.88,356.56 63.95,355.78 C63.03,355.01 62.29,354.30 61.74,353.80 C61.20,353.29 60.42,353.42 60.67,352.75Z" fill="none" stroke="#333" stroke-width="0.55"/>
<path d="M63.86,352.69 C64.03,352.16 64.78,351.13 65.56,350.31 C66.33,349.49 67.45,348.44 68.53,347.76 C69.60,347.09 70.97,346.57 72.00,346.25 C73.03,345.92 73.77,345.81 74.70,345.82 C75.63,345.84 76.64,345.98 77.58,346.33 C78.52,346.69 79.55,347.12 80.34,347.96 C81.14,348.79 81.98,350.21 82.35,351.35 C82.72,352.48 82.66,353.77 82.54,354.77 C82.43,355.77 82.10,356.43 81.67,357.34 C81.23,358.24 80.42,359.39 79.93,360.19 C79.43,360.99 79.01,361.59 78.70,362.12 C78.40,362.65 78.24,362.99 78.10,363.36 C77.97,363.74 78.33,364.21 77.88,364.39 C77.44,364.58 75.87,364.68 75.44,364.47 C75.01,364.27 75.37,363.54 75.29,363.15 C75.21,362.76 75.16,362.52 74.98,362.16 C74.79,361.80 74.48,361.35 74.19,361.00 C73.90,360.64 73.76,360.37 73.26,360.02 C72.76,359.67 71.98,359.34 71.20,358.90 C70.43,358.46 69.47,358.00 68.61,357.38 C67.74,356.75 66.70,355.78 66.02,355.14 C65.34,354.49 64.89,353.92 64.53,353.51 C64.17,353.11 63.69,353.23 63.86,352.69Z" fill="none" stroke="#333" stroke-width="0.55"/>
<path d="M66.30,352.65 C66.41,352.22 66.79,351.42 67.34,350.75 C67.88,350.07 68.73,349.16 69.57,348.59 C70.42,348.02 71.58,347.59 72.43,347.33 C73.28,347.06 73.90,347.00 74.67,347.02 C75.43,347.03 76.26,347.13 77.04,347.42 C77.83,347.70 78.69,348.03 79.37,348.71 C80.05,349.40 80.84,350.58 81.14,351.52 C81.43,352.47 81.29,353.57 81.14,354.37 C80.98,355.18 80.63,355.70 80.21,356.35 C79.79,357.01 79.05,357.79 78.60,358.31 C78.16,358.84 77.81,359.18 77.55,359.49 C77.29,359.81 77.17,359.99 77.06,360.21 C76.94,360.42 77.17,360.67 76.86,360.78 C76.54,360.89 75.45,360.97 75.16,360.86 C74.86,360.76 75.12,360.35 75.07,360.14 C75.02,359.93 74.98,359.80 74.85,359.61 C74.72,359.41 74.49,359.17 74.26,358.98 C74.04,358.78 73.93,358.64 73.52,358.43 C73.11,358.22 72.46,358.03 71.82,357.70 C71.17,357.38 70.35,357.02 69.65,356.51 C68.96,356.00 68.15,355.17 67.65,354.63 C67.16,354.09 66.91,353.62 66.69,353.29 C66.46,352.96 66.19,353.07 66.30,352.65Z" fill="none" stroke="#333" stroke-width="0.55"/>
<path d="M68.43,352.61 C68.49,352.28 68.58,351.68 68.93,351.14 C69.28,350.59 69.88,349.82 70.53,349.35 C71.18,348.89 72.15,348.53 72.83,348.32 C73.51,348.11 74.01,348.09 74.63,348.10 C75.25,348.12 75.91,348.19 76.55,348.41 C77.19,348.63 77.90,348.86 78.47,349.41 C79.05,349.96 79.76,350.93 79.99,351.69 C80.22,352.46 80.03,353.38 79.85,354.01 C79.67,354.64 79.31,355.03 78.91,355.48 C78.52,355.93 77.85,356.40 77.46,356.70 C77.07,356.99 76.80,357.12 76.58,357.27 C76.37,357.41 76.28,357.48 76.18,357.56 C76.08,357.65 76.21,357.72 76.00,357.77 C75.79,357.82 75.11,357.88 74.92,357.86 C74.73,357.83 74.91,357.69 74.88,357.62 C74.85,357.55 74.84,357.50 74.74,357.44 C74.65,357.37 74.49,357.30 74.33,357.23 C74.16,357.16 74.08,357.13 73.75,357.03 C73.43,356.92 72.90,356.84 72.38,356.62 C71.85,356.40 71.15,356.13 70.61,355.72 C70.07,355.31 69.46,354.61 69.12,354.17 C68.78,353.74 68.70,353.36 68.58,353.10 C68.47,352.84 68.37,352.94 68.43,352.61Z" fill="none" stroke="#333" stroke-width="0.55"/>
<path d="M69.82,352.58 C69.85,352.32 69.80,351.85 70.04,351.41 C70.28,350.96 70.73,350.31 71.24,349.92 C71.76,349.52 72.56,349.23 73.12,349.06 C73.68,348.89 74.10,348.89 74.61,348.90 C75.12,348.91 75.65,348.97 76.18,349.14 C76.71,349.31 77.30,349.49 77.79,349.94 C78.28,350.39 78.91,351.19 79.10,351.82 C79.28,352.46 79.07,353.23 78.89,353.74 C78.71,354.25 78.38,354.55 78.02,354.87 C77.66,355.20 77.07,355.49 76.73,355.66 C76.40,355.84 76.17,355.86 75.99,355.91 C75.81,355.97 75.74,355.97 75.66,355.99 C75.58,356.01 75.65,356.00 75.50,356.02 C75.35,356.03 74.90,356.08 74.78,356.09 C74.66,356.11 74.78,356.09 74.77,356.09 C74.75,356.09 74.74,356.10 74.68,356.10 C74.61,356.10 74.50,356.10 74.37,356.10 C74.24,356.09 74.18,356.11 73.91,356.07 C73.64,356.03 73.21,356.00 72.78,355.85 C72.34,355.69 71.75,355.47 71.31,355.14 C70.88,354.80 70.40,354.21 70.16,353.85 C69.92,353.49 69.92,353.18 69.86,352.97 C69.80,352.76 69.79,352.84 69.82,352.58Z" fill="none" stroke="#333" stroke-width="0.55"/>
<path d="M70.60,352.57 C70.63,352.35 70.59,351.96 70.78,351.59 C70.98,351.22 71.36,350.67 71.78,350.35 C72.21,350.02 72.89,349.77 73.35,349.63 C73.82,349.49 74.17,349.49 74.59,349.50 C75.02,349.51 75.46,349.56 75.90,349.70 C76.34,349.84 76.84,349.99 77.24,350.37 C77.65,350.74 78.18,351.41 78.33,351.94 C78.48,352.46 78.31,353.11 78.16,353.53 C78.01,353.96 77.73,354.21 77.43,354.48 C77.13,354.75 76.64,354.99 76.36,355.14 C76.08,355.28 75.89,355.30 75.74,355.34 C75.59,355.39 75.53,355.39 75.46,355.41 C75.40,355.42 75.46,355.42 75.33,355.43 C75.21,355.45 74.84,355.48 74.73,355.49 C74.63,355.51 74.74,355.49 74.72,355.50 C74.71,355.50 74.70,355.50 74.65,355.50 C74.59,355.50 74.50,355.50 74.39,355.50 C74.28,355.50 74.23,355.51 74.01,355.48 C73.79,355.44 73.42,355.42 73.06,355.29 C72.70,355.16 72.21,354.97 71.84,354.70 C71.48,354.42 71.09,353.93 70.88,353.62 C70.68,353.32 70.68,353.07 70.63,352.89 C70.59,352.72 70.58,352.79 70.60,352.57Z" fill="none" stroke="#333" stroke-width="0.55"/>
<path d="M71.38,352.56 C71.40,352.38 71.37,352.07 71.53,351.77 C71.68,351.48 71.99,351.04 72.33,350.78 C72.67,350.52 73.21,350.32 73.58,350.21 C73.96,350.09 74.23,350.09 74.57,350.10 C74.91,350.11 75.27,350.14 75.62,350.26 C75.97,350.38 76.37,350.50 76.69,350.79 C77.02,351.09 77.44,351.63 77.56,352.05 C77.69,352.47 77.55,352.99 77.43,353.33 C77.31,353.67 77.09,353.87 76.85,354.08 C76.61,354.30 76.21,354.49 75.99,354.61 C75.76,354.72 75.61,354.74 75.49,354.78 C75.37,354.81 75.33,354.81 75.27,354.83 C75.22,354.84 75.26,354.83 75.17,354.84 C75.07,354.86 74.77,354.89 74.69,354.90 C74.61,354.90 74.69,354.90 74.68,354.90 C74.67,354.90 74.66,354.90 74.62,354.90 C74.57,354.90 74.50,354.90 74.41,354.90 C74.33,354.90 74.28,354.91 74.11,354.88 C73.93,354.85 73.64,354.84 73.35,354.73 C73.06,354.63 72.67,354.48 72.38,354.26 C72.09,354.04 71.77,353.64 71.61,353.40 C71.45,353.16 71.44,352.96 71.41,352.81 C71.37,352.67 71.36,352.73 71.38,352.56Z" fill="none" stroke="#333" stroke-width="0.55"/>
<path d="M72.16,352.54 C72.18,352.41 72.15,352.18 72.27,351.95 C72.39,351.73 72.61,351.40 72.87,351.21 C73.13,351.01 73.53,350.86 73.81,350.78 C74.09,350.70 74.30,350.69 74.55,350.70 C74.81,350.71 75.07,350.73 75.34,350.82 C75.61,350.91 75.90,351.00 76.15,351.22 C76.39,351.44 76.71,351.85 76.80,352.16 C76.89,352.48 76.79,352.87 76.70,353.12 C76.61,353.37 76.44,353.53 76.26,353.69 C76.08,353.85 75.79,354.00 75.62,354.08 C75.45,354.17 75.33,354.18 75.25,354.21 C75.16,354.23 75.12,354.24 75.08,354.24 C75.04,354.25 75.07,354.25 75.00,354.26 C74.93,354.27 74.70,354.29 74.64,354.30 C74.58,354.30 74.64,354.30 74.63,354.30 C74.62,354.30 74.62,354.30 74.59,354.30 C74.56,354.30 74.50,354.30 74.43,354.30 C74.37,354.30 74.34,354.31 74.21,354.29 C74.07,354.26 73.85,354.25 73.64,354.17 C73.42,354.10 73.12,353.98 72.91,353.82 C72.69,353.65 72.45,353.36 72.33,353.17 C72.21,352.99 72.21,352.84 72.18,352.74 C72.15,352.63 72.15,352.67 72.16,352.54Z" fill="none" stroke="#333" stroke-width="0.55"/>
<path d="M77.83,354.85 C79.69,353.25 83.51,351.14 85.80,351.62 C88.09,352.11 90.44,355.10 91.58,357.77 C92.72,360.45 92.79,364.44 92.63,367.70 C92.47,370.95 91.53,374.48 90.64,377.29 C89.76,380.09 88.51,383.10 87.32,384.54 C86.12,385.98 84.77,386.56 83.47,385.95 C82.16,385.34 80.75,383.40 79.51,380.89 C78.28,378.38 76.87,374.16 76.06,370.88 C75.25,367.60 74.34,363.89 74.64,361.22 C74.93,358.55 75.97,356.45 77.83,354.85Z" fill="none" stroke="#333" stroke-width="0.55"/>
<path d="M79.49,357.43 C80.92,356.20 83.82,354.58 85.62,354.92 C87.41,355.26 89.30,357.37 90.24,359.45 C91.18,361.53 91.41,364.84 91.27,367.39 C91.13,369.95 90.15,372.73 89.39,374.79 C88.64,376.85 87.64,378.76 86.72,379.73 C85.80,380.71 84.85,381.07 83.87,380.66 C82.90,380.24 81.85,379.03 80.86,377.23 C79.88,375.42 78.61,372.32 77.97,369.83 C77.33,367.35 76.78,364.39 77.03,362.32 C77.29,360.26 78.06,358.67 79.49,357.43Z" fill="none" stroke="#333" stroke-width="0.55"/>
<path d="M80.89,359.61 C81.96,358.68 84.10,357.48 85.46,357.70 C86.82,357.92 88.30,359.36 89.06,360.93 C89.81,362.50 90.13,365.16 90.00,367.11 C89.88,369.07 88.96,371.20 88.33,372.65 C87.70,374.11 86.92,375.22 86.23,375.84 C85.54,376.47 84.91,376.67 84.20,376.40 C83.49,376.13 82.74,375.45 81.98,374.21 C81.21,372.96 80.12,370.75 79.63,368.93 C79.14,367.10 78.84,364.81 79.05,363.25 C79.26,361.70 79.82,360.53 80.89,359.61Z" fill="none" stroke="#333" stroke-width="0.55"/>
<path d="M82.05,361.42 C82.82,360.75 84.34,359.90 85.33,360.03 C86.33,360.17 87.43,361.09 88.02,362.23 C88.60,363.36 88.93,365.42 88.83,366.85 C88.73,368.29 87.92,369.86 87.42,370.84 C86.92,371.82 86.34,372.38 85.84,372.74 C85.35,373.11 84.95,373.21 84.46,373.04 C83.96,372.88 83.45,372.56 82.88,371.75 C82.31,370.93 81.41,369.44 81.06,368.15 C80.70,366.87 80.57,365.15 80.73,364.03 C80.90,362.91 81.29,362.08 82.05,361.42Z" fill="none" stroke="#333" stroke-width="0.55"/>
<path d="M83.02,362.91 C83.53,362.46 84.54,361.89 85.22,361.97 C85.91,362.04 86.69,362.59 87.11,363.36 C87.53,364.13 87.83,365.62 87.76,366.61 C87.68,367.60 87.02,368.69 86.65,369.31 C86.28,369.93 85.87,370.13 85.54,370.32 C85.21,370.51 84.98,370.54 84.66,370.45 C84.34,370.36 84.01,370.27 83.61,369.78 C83.21,369.28 82.52,368.34 82.28,367.49 C82.03,366.64 82.00,365.43 82.12,364.67 C82.25,363.91 82.50,363.37 83.02,362.91Z" fill="none" stroke="#333" stroke-width="0.55"/>
<ellipse cx="74" cy="352.3" rx="1.8" ry="1.4" fill="#fff" fill-opacity="0.8" filter="url(#b0_9)"/>
<ellipse cx="76" cy="405.3" rx="19.5" ry="2.55" fill="#000" fill-opacity="0.4" filter="url(#b1_5)"/>
<ellipse cx="76" cy="404.3" rx="15" ry="1.7" fill="#000" filter="url(#b0_9)"/>
</g>
<clipPath id="clipb2"><rect x="126.3" y="313.9" width="92.10000000000001" height="91.60000000000002"/></clipPath>
<g clip-path="url(#clipb2)">
<g filter="url(#dith2)"><path d="M126.40,340.00 C127.80,336.60 137.50,338.45 140.40,338.00 C143.30,337.55 152.70,335.90 155.40,335.50 C158.10,335.10 165.00,334.00 167.40,334.00 C169.80,334.00 177.40,334.80 179.40,335.50 C181.40,336.20 186.30,339.55 187.40,341.00 C188.50,342.45 191.40,349.70 190.40,350.00 C189.40,350.30 180.10,345.00 177.40,344.00 C174.70,343.00 166.40,339.60 163.40,340.00 C160.40,340.40 150.00,346.40 147.40,348.00 C144.80,349.60 138.60,354.30 137.40,356.00 C136.20,357.70 136.50,363.40 135.40,365.00 C134.30,366.60 127.30,374.50 126.40,372.00 C125.50,369.50 125.00,343.40 126.40,340.00Z" fill="#000" fill-opacity="0.3"/><path d="M126.40,336.00 C129.30,335.40 150.50,334.30 155.40,334.00 C160.30,333.70 172.40,333.00 175.40,333.00 C178.40,333.00 184.40,333.50 185.40,334.00 C186.40,334.50 188.40,337.60 185.40,338.00 C182.40,338.40 161.30,337.80 155.40,338.00 C149.50,338.20 129.30,340.20 126.40,340.00 C123.50,339.80 123.50,336.60 126.40,336.00Z" fill="#000" fill-opacity="0.08"/><path d="M126.40,345.00 C127.30,342.10 134.10,344.00 135.40,345.00 C136.70,346.00 138.40,353.30 139.40,355.00 C140.40,356.70 143.60,360.70 145.40,362.00 C147.20,363.30 155.40,366.80 157.40,368.00 C159.40,369.20 168.50,373.40 165.40,374.00 C162.30,374.60 130.30,376.90 126.40,374.00 C122.50,371.10 125.50,347.90 126.40,345.00Z" fill="#000" fill-opacity="0.3"/><path d="M126.40,375.00 C130.40,371.95 162.90,371.95 166.40,375.00 C169.90,378.05 165.40,402.45 161.40,405.50 C157.40,408.55 129.90,408.55 126.40,405.50 C122.90,402.45 122.40,378.05 126.40,375.00Z" fill="#000" fill-opacity="0.12"/><path d="M161.40,376.00 C162.80,373.05 172.00,374.40 173.40,376.00 C174.80,377.60 175.20,389.05 175.40,392.00 C175.60,394.95 177.00,404.15 175.40,405.50 C173.80,406.85 160.80,408.45 159.40,405.50 C158.00,402.55 160.00,378.95 161.40,376.00Z" fill="#000" fill-opacity="0.3"/><path d="M183.40,382.00 C184.10,377.65 188.55,364.70 190.40,362.00 C192.25,359.30 200.75,350.65 201.90,355.00 C203.05,359.35 203.75,400.45 201.90,405.50 C200.05,410.55 185.25,407.85 183.40,405.50 C181.55,403.15 182.70,386.35 183.40,382.00Z" fill="#000" fill-opacity="0.18"/><path d="M186.50,332.00 C189.74,330.00 215.66,324.65 218.90,332.00 C222.14,339.35 220.60,398.15 218.90,405.50 C217.20,412.85 203.60,410.85 201.90,405.50 C200.20,400.15 203.44,357.35 201.90,352.00 C200.36,346.65 188.04,354.00 186.50,352.00 C184.96,350.00 183.26,334.00 186.50,332.00Z" fill="#000" fill-opacity="0.04"/></g>
<path d="M142.30,352.30 C142.97,350.72 147.05,347.97 150.00,346.00 C152.95,344.03 157.07,341.93 160.00,340.50 C162.93,339.07 164.93,337.98 167.60,337.40 C170.27,336.82 173.28,336.23 176.00,337.00 C178.72,337.77 181.65,340.00 183.90,342.00 C186.15,344.00 187.25,346.30 189.50,349.00 C191.75,351.70 195.63,355.15 197.40,358.20 C199.17,361.25 199.83,364.33 200.10,367.30 C200.37,370.27 199.45,373.00 199.00,376.00 C198.55,379.00 197.98,382.63 197.40,385.30 C196.82,387.97 195.95,389.38 195.50,392.00 C195.05,394.62 197.25,399.50 194.70,401.00 C192.15,402.50 182.98,402.50 180.20,401.00 C177.42,399.50 178.60,394.32 178.00,392.00 C177.40,389.68 178.03,389.42 176.60,387.10 C175.17,384.78 171.35,380.80 169.40,378.10 C167.45,375.40 167.30,373.62 164.90,370.90 C162.50,368.18 158.15,364.37 155.00,361.80 C151.85,359.23 148.12,357.08 146.00,355.50 C143.88,353.92 141.63,353.88 142.30,352.30Z" fill="#fff"/>
<ellipse cx="170.3" cy="351" rx="13" ry="9" fill="#000" fill-opacity="0.45" filter="url(#b1_5)"/>
<ellipse cx="170.3" cy="351" rx="8" ry="5" fill="#000" fill-opacity="0.4" filter="url(#b0_9)"/>
<ellipse cx="190" cy="362" rx="7" ry="8" fill="#000" fill-opacity="0.32" filter="url(#b1_5)"/>
<path d="M142.30,352.30 C142.97,350.72 147.05,347.97 150.00,346.00 C152.95,344.03 157.07,341.93 160.00,340.50 C162.93,339.07 164.93,337.98 167.60,337.40 C170.27,336.82 173.28,336.23 176.00,337.00 C178.72,337.77 181.65,340.00 183.90,342.00 C186.15,344.00 187.25,346.30 189.50,349.00 C191.75,351.70 195.63,355.15 197.40,358.20 C199.17,361.25 199.83,364.33 200.10,367.30 C200.37,370.27 199.45,373.00 199.00,376.00 C198.55,379.00 197.98,382.63 197.40,385.30 C196.82,387.97 195.95,389.38 195.50,392.00 C195.05,394.62 197.25,399.50 194.70,401.00 C192.15,402.50 182.98,402.50 180.20,401.00 C177.42,399.50 178.60,394.32 178.00,392.00 C177.40,389.68 178.03,389.42 176.60,387.10 C175.17,384.78 171.35,380.80 169.40,378.10 C167.45,375.40 167.30,373.62 164.90,370.90 C162.50,368.18 158.15,364.37 155.00,361.80 C151.85,359.23 148.12,357.08 146.00,355.50 C143.88,353.92 141.63,353.88 142.30,352.30Z" fill="none" stroke="#333" stroke-width="0.55"/>
<path d="M146.97,352.17 C147.49,350.82 150.55,348.50 152.95,346.80 C155.35,345.10 158.86,343.19 161.37,341.96 C163.87,340.73 165.69,339.88 167.99,339.41 C170.28,338.94 172.81,338.50 175.16,339.15 C177.50,339.79 180.11,341.58 182.07,343.28 C184.04,344.97 185.15,347.04 186.94,349.33 C188.73,351.63 191.55,354.56 192.81,357.07 C194.08,359.57 194.43,361.99 194.52,364.34 C194.60,366.69 193.78,368.83 193.33,371.16 C192.87,373.49 192.33,376.27 191.81,378.32 C191.28,380.37 190.58,381.45 190.18,383.45 C189.78,385.44 191.44,389.14 189.42,390.29 C187.40,391.44 180.24,391.47 178.07,390.35 C175.90,389.23 176.85,385.30 176.39,383.55 C175.93,381.80 176.45,381.59 175.32,379.84 C174.18,378.09 171.15,375.09 169.57,373.05 C167.99,371.01 167.88,369.71 165.82,367.58 C163.76,365.46 159.88,362.43 157.21,360.31 C154.55,358.19 151.54,356.23 149.83,354.87 C148.13,353.51 146.45,353.51 146.97,352.17Z" fill="none" stroke="#333" stroke-width="0.55"/>
<path d="M150.82,352.06 C151.23,350.91 153.48,348.95 155.43,347.47 C157.39,346.00 160.39,344.27 162.54,343.21 C164.68,342.15 166.32,341.49 168.31,341.11 C170.30,340.73 172.42,340.40 174.45,340.94 C176.48,341.49 178.80,342.92 180.52,344.36 C182.23,345.81 183.33,347.66 184.75,349.62 C186.17,351.58 188.17,354.08 189.04,356.13 C189.91,358.19 190.04,360.09 189.99,361.94 C189.94,363.79 189.20,365.46 188.75,367.25 C188.31,369.05 187.79,371.17 187.32,372.73 C186.85,374.29 186.27,375.10 185.92,376.61 C185.57,378.11 186.80,380.87 185.21,381.75 C183.62,382.62 178.05,382.68 176.37,381.85 C174.69,381.02 175.45,378.08 175.11,376.78 C174.76,375.47 175.18,375.32 174.28,374.02 C173.39,372.71 170.99,370.48 169.71,368.96 C168.43,367.43 168.35,366.51 166.58,364.86 C164.81,363.21 161.34,360.81 159.08,359.06 C156.81,357.30 154.39,355.51 153.01,354.35 C151.64,353.18 150.42,353.20 150.82,352.06Z" fill="none" stroke="#333" stroke-width="0.55"/>
<path d="M154.34,351.96 C154.64,351.00 156.20,349.36 157.75,348.10 C159.30,346.84 161.83,345.29 163.64,344.39 C165.46,343.49 166.92,342.99 168.61,342.70 C170.31,342.40 172.05,342.17 173.79,342.62 C175.53,343.07 177.56,344.18 179.05,345.39 C180.53,346.60 181.59,348.24 182.68,349.89 C183.77,351.54 185.07,353.63 185.61,355.28 C186.15,356.93 186.08,358.37 185.93,359.79 C185.78,361.20 185.11,362.45 184.68,363.78 C184.25,365.11 183.77,366.65 183.35,367.78 C182.93,368.91 182.48,369.50 182.17,370.58 C181.86,371.65 182.72,373.61 181.51,374.24 C180.29,374.87 176.13,374.94 174.87,374.37 C173.62,373.80 174.22,371.72 173.97,370.80 C173.72,369.88 174.06,369.77 173.37,368.85 C172.68,367.94 170.85,366.38 169.83,365.30 C168.82,364.22 168.77,363.62 167.27,362.38 C165.77,361.15 162.70,359.31 160.81,357.89 C158.93,356.47 157.02,354.85 155.94,353.86 C154.87,352.87 154.04,352.92 154.34,351.96Z" fill="none" stroke="#333" stroke-width="0.55"/>
<path d="M157.18,351.87 C157.40,351.07 158.44,349.70 159.67,348.62 C160.90,347.54 163.04,346.15 164.58,345.39 C166.11,344.62 167.42,344.25 168.87,344.02 C170.31,343.79 171.76,343.63 173.25,344.00 C174.74,344.37 176.53,345.24 177.81,346.26 C179.09,347.27 180.10,348.72 180.94,350.11 C181.78,351.51 182.54,353.27 182.84,354.60 C183.13,355.93 182.94,357.01 182.71,358.08 C182.49,359.16 181.90,360.08 181.49,361.05 C181.08,362.03 180.63,363.12 180.26,363.92 C179.89,364.73 179.53,365.14 179.26,365.90 C178.99,366.65 179.57,367.99 178.65,368.43 C177.72,368.88 174.64,368.97 173.72,368.59 C172.79,368.21 173.26,366.77 173.08,366.15 C172.91,365.52 173.18,365.45 172.66,364.82 C172.13,364.20 170.74,363.14 169.93,362.40 C169.13,361.66 169.10,361.30 167.83,360.39 C166.55,359.47 163.84,358.07 162.26,356.91 C160.68,355.76 159.18,354.31 158.34,353.47 C157.49,352.63 156.96,352.68 157.18,351.87Z" fill="none" stroke="#333" stroke-width="0.55"/>
<path d="M159.75,351.80 C159.90,351.13 160.50,350.02 161.46,349.10 C162.41,348.19 164.19,346.97 165.46,346.33 C166.74,345.69 167.89,345.43 169.10,345.25 C170.32,345.08 171.49,344.98 172.74,345.28 C174.00,345.59 175.55,346.23 176.64,347.07 C177.73,347.91 178.67,349.18 179.29,350.33 C179.90,351.48 180.24,352.94 180.34,353.98 C180.43,355.02 180.14,355.79 179.87,356.57 C179.59,357.35 179.08,358.00 178.70,358.67 C178.32,359.34 177.91,360.05 177.58,360.58 C177.25,361.11 176.97,361.38 176.74,361.85 C176.51,362.33 176.86,363.16 176.19,363.45 C175.52,363.74 173.37,363.83 172.72,363.61 C172.08,363.39 172.43,362.51 172.32,362.12 C172.21,361.74 172.42,361.70 172.04,361.32 C171.65,360.94 170.64,360.30 170.02,359.85 C169.40,359.40 169.40,359.23 168.33,358.59 C167.26,357.95 164.90,356.92 163.60,356.01 C162.30,355.09 161.17,353.81 160.53,353.11 C159.89,352.41 159.60,352.47 159.75,351.80Z" fill="none" stroke="#333" stroke-width="0.55"/>
<path d="M161.78,351.74 C161.89,351.19 162.18,350.27 162.91,349.50 C163.65,348.73 165.13,347.66 166.20,347.12 C167.26,346.58 168.27,346.39 169.30,346.26 C170.32,346.13 171.27,346.08 172.33,346.32 C173.40,346.57 174.74,347.05 175.67,347.75 C176.60,348.45 177.47,349.55 177.92,350.51 C178.37,351.47 178.41,352.68 178.37,353.49 C178.33,354.31 177.98,354.85 177.68,355.41 C177.38,355.97 176.93,356.42 176.58,356.86 C176.23,357.30 175.86,357.74 175.57,358.07 C175.29,358.40 175.07,358.56 174.87,358.84 C174.67,359.13 174.85,359.58 174.37,359.76 C173.89,359.94 172.42,360.03 171.99,359.93 C171.55,359.82 171.82,359.33 171.75,359.12 C171.68,358.91 171.85,358.88 171.57,358.68 C171.29,358.48 170.56,358.15 170.08,357.90 C169.61,357.65 169.62,357.62 168.72,357.18 C167.82,356.74 165.77,356.00 164.70,355.27 C163.63,354.54 162.77,353.41 162.29,352.82 C161.80,352.23 161.68,352.30 161.78,351.74Z" fill="none" stroke="#333" stroke-width="0.55"/>
<path d="M163.61,351.69 C163.68,351.24 163.72,350.50 164.27,349.87 C164.82,349.23 166.02,348.30 166.89,347.86 C167.76,347.42 168.63,347.30 169.48,347.21 C170.32,347.11 171.08,347.09 171.95,347.29 C172.83,347.49 173.97,347.83 174.75,348.39 C175.53,348.96 176.31,349.90 176.62,350.68 C176.93,351.45 176.74,352.44 176.60,353.06 C176.46,353.68 176.08,354.03 175.78,354.40 C175.47,354.78 175.08,355.05 174.77,355.31 C174.45,355.57 174.12,355.79 173.88,355.96 C173.63,356.13 173.47,356.20 173.30,356.32 C173.13,356.45 173.18,356.61 172.86,356.70 C172.54,356.79 171.64,356.88 171.37,356.86 C171.11,356.84 171.30,356.66 171.27,356.59 C171.24,356.52 171.36,356.51 171.18,356.45 C170.99,356.38 170.49,356.29 170.14,356.20 C169.79,356.11 169.81,356.19 169.07,355.92 C168.33,355.65 166.59,355.14 165.72,354.58 C164.86,354.02 164.24,353.04 163.89,352.56 C163.54,352.07 163.55,352.14 163.61,351.69Z" fill="none" stroke="#333" stroke-width="0.55"/>
<path d="M164.90,351.65 C164.94,351.28 164.87,350.68 165.30,350.14 C165.72,349.61 166.72,348.82 167.44,348.45 C168.16,348.08 168.91,348.00 169.62,347.93 C170.32,347.86 170.93,347.86 171.67,348.02 C172.40,348.18 173.37,348.43 174.03,348.90 C174.68,349.36 175.38,350.17 175.60,350.81 C175.82,351.45 175.54,352.26 175.36,352.75 C175.18,353.24 174.82,353.48 174.53,353.74 C174.24,354.01 173.90,354.18 173.62,354.34 C173.34,354.49 173.05,354.59 172.85,354.67 C172.64,354.76 172.51,354.78 172.37,354.83 C172.23,354.87 172.21,354.88 171.99,354.92 C171.76,354.96 171.18,355.04 171.01,355.07 C170.85,355.09 170.99,355.07 170.98,355.07 C170.97,355.07 171.07,355.07 170.93,355.08 C170.80,355.08 170.45,355.11 170.18,355.10 C169.91,355.09 169.93,355.21 169.31,355.04 C168.70,354.87 167.21,354.50 166.50,354.06 C165.79,353.61 165.32,352.76 165.06,352.36 C164.79,351.96 164.86,352.02 164.90,351.65Z" fill="none" stroke="#333" stroke-width="0.55"/>
<path d="M165.80,351.63 C165.84,351.32 165.78,350.82 166.13,350.37 C166.48,349.92 167.32,349.26 167.92,348.96 C168.52,348.65 169.14,348.58 169.73,348.52 C170.32,348.46 170.83,348.46 171.44,348.60 C172.05,348.73 172.86,348.94 173.41,349.33 C173.95,349.72 174.53,350.39 174.72,350.92 C174.90,351.46 174.67,352.14 174.52,352.54 C174.37,352.95 174.06,353.15 173.82,353.37 C173.58,353.59 173.30,353.73 173.07,353.86 C172.84,353.99 172.60,354.08 172.42,354.15 C172.25,354.21 172.14,354.24 172.02,354.27 C171.90,354.31 171.89,354.32 171.70,354.35 C171.52,354.38 171.03,354.45 170.89,354.47 C170.75,354.49 170.88,354.48 170.87,354.48 C170.85,354.48 170.94,354.48 170.83,354.48 C170.72,354.48 170.42,354.50 170.20,354.50 C169.97,354.49 169.99,354.59 169.48,354.45 C168.97,354.31 167.72,354.00 167.13,353.63 C166.54,353.26 166.15,352.55 165.93,352.22 C165.71,351.89 165.77,351.94 165.80,351.63Z" fill="none" stroke="#333" stroke-width="0.55"/>
<path d="M166.70,351.60 C166.73,351.36 166.68,350.95 166.96,350.60 C167.25,350.24 167.91,349.71 168.39,349.46 C168.87,349.22 169.37,349.17 169.84,349.12 C170.31,349.07 170.72,349.07 171.21,349.18 C171.70,349.29 172.35,349.45 172.79,349.76 C173.22,350.07 173.68,350.61 173.83,351.04 C173.98,351.47 173.79,352.01 173.68,352.33 C173.56,352.66 173.31,352.82 173.12,352.99 C172.92,353.17 172.70,353.29 172.52,353.39 C172.33,353.50 172.14,353.56 172.00,353.62 C171.86,353.67 171.77,353.69 171.68,353.72 C171.58,353.74 171.57,353.75 171.42,353.78 C171.27,353.81 170.89,353.86 170.78,353.88 C170.66,353.90 170.76,353.88 170.75,353.88 C170.74,353.88 170.81,353.88 170.72,353.88 C170.63,353.89 170.40,353.90 170.22,353.90 C170.04,353.90 170.05,353.98 169.64,353.86 C169.23,353.74 168.24,353.50 167.77,353.21 C167.29,352.91 166.98,352.34 166.80,352.08 C166.63,351.81 166.68,351.85 166.70,351.60Z" fill="none" stroke="#333" stroke-width="0.55"/>
<path d="M167.60,351.58 C167.62,351.39 167.59,351.09 167.80,350.82 C168.01,350.55 168.51,350.16 168.87,349.97 C169.23,349.79 169.61,349.75 169.96,349.71 C170.31,349.68 170.62,349.68 170.98,349.76 C171.35,349.84 171.84,349.97 172.16,350.20 C172.49,350.43 172.84,350.83 172.95,351.15 C173.06,351.48 172.92,351.88 172.83,352.13 C172.74,352.37 172.56,352.49 172.41,352.62 C172.27,352.75 172.10,352.84 171.96,352.92 C171.82,353.00 171.68,353.05 171.57,353.09 C171.47,353.13 171.41,353.14 171.33,353.16 C171.26,353.18 171.26,353.19 171.14,353.21 C171.03,353.23 170.74,353.27 170.66,353.28 C170.57,353.30 170.65,353.29 170.64,353.29 C170.63,353.29 170.68,353.29 170.62,353.29 C170.55,353.29 170.37,353.30 170.24,353.30 C170.10,353.30 170.11,353.36 169.81,353.27 C169.50,353.18 168.75,353.00 168.40,352.78 C168.05,352.56 167.81,352.13 167.68,351.93 C167.55,351.73 167.58,351.76 167.60,351.58Z" fill="none" stroke="#333" stroke-width="0.55"/>
<path d="M175.61,355.16 C177.79,353.31 182.47,349.83 185.64,350.25 C188.81,350.68 192.60,354.81 194.64,357.71 C196.68,360.60 197.78,364.40 197.88,367.65 C197.97,370.90 196.34,374.40 195.21,377.21 C194.08,380.03 192.67,383.07 191.09,384.53 C189.50,385.98 187.52,386.68 185.70,385.94 C183.88,385.20 181.90,382.61 180.18,380.07 C178.46,377.54 176.66,373.85 175.39,370.73 C174.12,367.61 172.54,363.97 172.58,361.37 C172.61,358.78 173.43,357.01 175.61,355.16Z" fill="none" stroke="#333" stroke-width="0.55"/>
<path d="M178.80,357.95 C180.40,356.53 183.79,353.83 186.21,354.06 C188.63,354.30 191.72,357.13 193.33,359.34 C194.94,361.55 195.83,364.76 195.87,367.31 C195.91,369.87 194.50,372.60 193.57,374.67 C192.64,376.73 191.50,378.72 190.29,379.72 C189.08,380.71 187.67,381.17 186.31,380.64 C184.95,380.12 183.44,378.42 182.12,376.58 C180.81,374.74 179.35,371.92 178.43,369.59 C177.51,367.26 176.53,364.52 176.60,362.58 C176.66,360.64 177.19,359.37 178.80,357.95Z" fill="none" stroke="#333" stroke-width="0.55"/>
<path d="M181.38,360.21 C182.52,359.15 184.89,357.12 186.68,357.22 C188.48,357.32 190.93,359.16 192.16,360.80 C193.40,362.43 194.10,365.06 194.10,367.02 C194.10,368.97 192.93,371.04 192.18,372.51 C191.44,373.98 190.53,375.18 189.64,375.82 C188.74,376.47 187.79,376.74 186.80,376.39 C185.81,376.03 184.69,375.00 183.72,373.71 C182.74,372.42 181.59,370.34 180.95,368.64 C180.30,366.95 179.77,364.96 179.85,363.55 C179.92,362.15 180.24,361.26 181.38,360.21Z" fill="none" stroke="#333" stroke-width="0.55"/>
<path d="M183.45,362.02 C184.22,361.26 185.79,359.80 187.07,359.81 C188.35,359.82 190.21,360.94 191.12,362.10 C192.04,363.25 192.56,365.32 192.54,366.76 C192.53,368.19 191.59,369.70 191.02,370.70 C190.45,371.69 189.76,372.33 189.12,372.72 C188.48,373.11 187.87,373.25 187.19,373.03 C186.50,372.81 185.70,372.24 185.01,371.38 C184.31,370.52 183.45,369.04 183.02,367.87 C182.59,366.69 182.36,365.30 182.43,364.33 C182.50,363.35 182.68,362.77 183.45,362.02Z" fill="none" stroke="#333" stroke-width="0.55"/>
<path d="M185.07,363.44 C185.56,362.93 186.53,361.93 187.39,361.90 C188.24,361.87 189.57,362.47 190.20,363.24 C190.84,364.02 191.21,365.54 191.18,366.53 C191.16,367.52 190.46,368.56 190.05,369.19 C189.64,369.81 189.14,370.09 188.72,370.30 C188.29,370.51 187.93,370.57 187.49,370.44 C187.04,370.31 186.51,370.06 186.04,369.52 C185.58,368.99 184.96,368.00 184.70,367.24 C184.43,366.47 184.38,365.57 184.44,364.93 C184.51,364.30 184.58,363.94 185.07,363.44Z" fill="none" stroke="#333" stroke-width="0.55"/>
<ellipse cx="171" cy="351.5" rx="2.2" ry="1.3" fill="#fff" fill-opacity="0.8" filter="url(#b0_9)"/>
<ellipse cx="175" cy="405.3" rx="23.400000000000002" ry="2.55" fill="#000" fill-opacity="0.4" filter="url(#b1_5)"/>
<ellipse cx="175" cy="404.3" rx="18" ry="1.7" fill="#000" filter="url(#b0_9)"/>
</g>
<clipPath id="clipc1"><rect x="30.9" y="474.9" width="92.6" height="91.39999999999998"/></clipPath>
<g clip-path="url(#clipc1)">
<g filter="url(#dith2)"><path d="M31.00,493.00 C36.89,485.67 84.01,491.20 89.90,493.00 C95.79,494.80 87.53,509.20 89.90,511.00 C92.27,512.80 111.23,505.47 113.60,511.00 C115.97,516.53 121.86,560.77 113.60,566.30 C105.34,571.83 39.26,573.63 31.00,566.30 C22.74,558.97 25.11,500.33 31.00,493.00Z" fill="#000" fill-opacity="0.06"/><path d="M40.00,512.00 C41.30,509.30 51.80,504.20 55.00,503.00 C58.20,501.80 68.50,500.00 72.00,500.00 C75.50,500.00 86.80,501.50 90.00,503.00 C93.20,504.50 102.20,512.30 104.00,515.00 C105.80,517.70 108.00,527.30 108.00,530.00 C108.00,532.70 105.00,540.20 104.00,542.00 C103.00,543.80 98.80,545.60 98.00,548.00 C97.20,550.40 98.30,564.20 96.00,566.00 C93.70,567.80 78.00,567.40 75.00,566.00 C72.00,564.60 68.00,554.60 66.00,552.00 C64.00,549.40 57.40,542.20 55.00,540.00 C52.60,537.80 43.50,532.80 42.00,530.00 C40.50,527.20 38.70,514.70 40.00,512.00Z" fill="#000" fill-opacity="0.13"/><path d="M89.90,493.00 C93.26,491.20 120.14,485.67 123.50,493.00 C126.86,500.33 124.49,558.97 123.50,566.30 C122.51,573.63 114.59,571.83 113.60,566.30 C112.61,560.77 115.97,516.53 113.60,511.00 C111.23,505.47 92.27,512.80 89.90,511.00 C87.53,509.20 86.54,494.80 89.90,493.00Z" fill="#000" fill-opacity="0.04"/></g>
<path d="M41.50,520.30 C41.50,517.65 47.15,514.18 49.40,512.30 C51.65,510.42 53.07,509.83 55.00,509.00 C56.93,508.17 58.33,508.07 61.00,507.30 C63.67,506.53 67.63,504.77 71.00,504.40 C74.37,504.03 78.07,504.27 81.20,505.10 C84.33,505.93 87.17,507.48 89.80,509.40 C92.43,511.32 94.58,514.18 97.00,516.60 C99.42,519.02 102.85,521.97 104.30,523.90 C105.75,525.83 105.95,526.05 105.70,528.20 C105.45,530.35 104.25,534.40 102.80,536.80 C101.35,539.20 98.20,539.95 97.00,542.60 C95.80,545.25 95.83,549.33 95.60,552.70 C95.37,556.07 98.73,561.18 95.60,562.80 C92.47,564.42 80.40,564.08 76.80,562.40 C73.20,560.72 75.20,555.27 74.00,552.70 C72.80,550.13 71.05,548.92 69.60,547.00 C68.15,545.08 67.22,543.37 65.30,541.20 C63.38,539.03 60.75,536.17 58.10,534.00 C55.45,531.83 52.17,530.48 49.40,528.20 C46.63,525.92 41.50,522.95 41.50,520.30Z" fill="#fff"/>
<ellipse cx="76" cy="516.5" rx="6.5" ry="4.5" fill="#000" fill-opacity="0.55" filter="url(#b0_9)"/>
<ellipse cx="86" cy="529" rx="6.5" ry="6.5" fill="#000" fill-opacity="0.6" filter="url(#b0_9)"/>
<ellipse cx="81" cy="523" rx="12" ry="11" fill="#000" fill-opacity="0.3" filter="url(#b1_5)"/>
<path d="M41.50,520.30 C41.50,517.65 47.15,514.18 49.40,512.30 C51.65,510.42 53.07,509.83 55.00,509.00 C56.93,508.17 58.33,508.07 61.00,507.30 C63.67,506.53 67.63,504.77 71.00,504.40 C74.37,504.03 78.07,504.27 81.20,505.10 C84.33,505.93 87.17,507.48 89.80,509.40 C92.43,511.32 94.58,514.18 97.00,516.60 C99.42,519.02 102.85,521.97 104.30,523.90 C105.75,525.83 105.95,526.05 105.70,528.20 C105.45,530.35 104.25,534.40 102.80,536.80 C101.35,539.20 98.20,539.95 97.00,542.60 C95.80,545.25 95.83,549.33 95.60,552.70 C95.37,556.07 98.73,561.18 95.60,562.80 C92.47,564.42 80.40,564.08 76.80,562.40 C73.20,560.72 75.20,555.27 74.00,552.70 C72.80,550.13 71.05,548.92 69.60,547.00 C68.15,545.08 67.22,543.37 65.30,541.20 C63.38,539.03 60.75,536.17 58.10,534.00 C55.45,531.83 52.17,530.48 49.40,528.20 C46.63,525.92 41.50,522.95 41.50,520.30Z" fill="none" stroke="#333" stroke-width="0.55"/>
<path d="M49.13,520.82 C49.15,518.66 53.48,515.83 55.24,514.28 C56.99,512.72 58.11,512.22 59.64,511.50 C61.16,510.78 62.23,510.65 64.39,509.96 C66.55,509.28 69.80,507.74 72.60,507.37 C75.39,507.00 78.50,507.10 81.17,507.74 C83.84,508.38 86.34,509.59 88.63,511.21 C90.92,512.82 92.92,515.34 94.92,517.43 C96.92,519.52 99.51,522.11 100.63,523.76 C101.75,525.41 101.89,525.56 101.63,527.34 C101.38,529.13 100.33,532.48 99.10,534.46 C97.87,536.44 95.30,537.14 94.25,539.23 C93.20,541.33 93.09,544.46 92.82,547.05 C92.55,549.63 95.17,553.49 92.64,554.74 C90.11,555.98 80.53,555.77 77.64,554.51 C74.75,553.24 76.31,549.11 75.31,547.15 C74.31,545.19 72.85,544.24 71.62,542.74 C70.39,541.24 69.55,539.91 67.93,538.15 C66.32,536.38 64.06,533.98 61.93,532.16 C59.80,530.35 57.26,529.15 55.13,527.26 C53.00,525.37 49.11,522.98 49.13,520.82Z" fill="none" stroke="#333" stroke-width="0.55"/>
<path d="M55.30,521.24 C55.32,519.48 58.62,517.17 59.98,515.88 C61.33,514.60 62.22,514.16 63.42,513.54 C64.62,512.91 65.43,512.77 67.18,512.15 C68.93,511.54 71.59,510.20 73.92,509.83 C76.25,509.46 78.86,509.47 81.15,509.95 C83.43,510.44 85.63,511.38 87.63,512.75 C89.63,514.11 91.49,516.33 93.14,518.14 C94.80,519.96 96.72,522.22 97.58,523.64 C98.43,525.06 98.53,525.15 98.27,526.64 C98.02,528.12 97.11,530.90 96.06,532.54 C95.02,534.17 92.91,534.82 92.00,536.47 C91.08,538.13 90.86,540.50 90.57,542.47 C90.28,544.43 92.31,547.31 90.26,548.26 C88.22,549.20 80.63,549.09 78.32,548.15 C76.00,547.22 77.21,544.12 76.37,542.64 C75.53,541.16 74.32,540.43 73.27,539.27 C72.23,538.10 71.46,537.07 70.10,535.64 C68.73,534.20 66.80,532.17 65.08,530.65 C63.37,529.12 61.43,528.06 59.80,526.49 C58.17,524.92 55.27,523.01 55.30,521.24Z" fill="none" stroke="#333" stroke-width="0.55"/>
<path d="M60.80,521.62 C60.84,520.21 63.23,518.37 64.24,517.33 C65.25,516.28 65.93,515.91 66.84,515.38 C67.76,514.85 68.34,514.69 69.72,514.15 C71.10,513.60 73.24,512.45 75.14,512.09 C77.04,511.74 79.20,511.66 81.12,512.02 C83.05,512.37 84.97,513.08 86.69,514.21 C88.41,515.34 90.10,517.27 91.45,518.82 C92.80,520.37 94.15,522.34 94.77,523.53 C95.40,524.73 95.45,524.78 95.20,525.99 C94.96,527.20 94.17,529.46 93.30,530.78 C92.42,532.11 90.74,532.70 89.95,533.96 C89.16,535.23 88.85,536.95 88.56,538.37 C88.26,539.80 89.76,541.82 88.16,542.51 C86.55,543.20 80.73,543.17 78.92,542.51 C77.11,541.86 78.02,539.66 77.32,538.60 C76.63,537.53 75.64,537.00 74.77,536.12 C73.89,535.25 73.21,534.49 72.08,533.35 C70.94,532.20 69.30,530.52 67.96,529.26 C66.61,528.01 65.20,527.07 64.01,525.80 C62.81,524.52 60.76,523.03 60.80,521.62Z" fill="none" stroke="#333" stroke-width="0.55"/>
<path d="M65.14,521.92 C65.18,520.79 66.89,519.32 67.63,518.47 C68.36,517.63 68.88,517.30 69.57,516.85 C70.26,516.39 70.67,516.24 71.77,515.75 C72.86,515.27 74.57,514.27 76.13,513.94 C77.68,513.60 79.48,513.47 81.10,513.72 C82.73,513.97 84.41,514.50 85.89,515.44 C87.38,516.39 88.92,518.06 90.02,519.39 C91.12,520.73 92.03,522.43 92.48,523.44 C92.93,524.46 92.95,524.48 92.71,525.47 C92.48,526.45 91.80,528.29 91.07,529.37 C90.33,530.45 88.98,530.98 88.30,531.94 C87.62,532.90 87.26,534.12 86.97,535.14 C86.67,536.15 87.77,537.53 86.51,538.02 C85.25,538.51 80.80,538.53 79.39,538.10 C77.99,537.66 78.65,536.14 78.08,535.40 C77.51,534.65 76.69,534.26 75.96,533.61 C75.23,532.96 74.62,532.41 73.67,531.50 C72.73,530.59 71.34,529.19 70.28,528.15 C69.23,527.11 68.21,526.28 67.36,525.25 C66.50,524.21 65.09,523.04 65.14,521.92Z" fill="none" stroke="#333" stroke-width="0.55"/>
<path d="M68.95,522.18 C69.00,521.30 70.12,520.16 70.63,519.49 C71.14,518.82 71.52,518.54 72.02,518.16 C72.51,517.78 72.78,517.63 73.61,517.20 C74.45,516.78 75.79,515.94 77.03,515.62 C78.28,515.30 79.74,515.14 81.09,515.30 C82.44,515.47 83.87,515.84 85.14,516.61 C86.40,517.38 87.78,518.81 88.65,519.94 C89.53,521.06 90.08,522.52 90.38,523.36 C90.68,524.20 90.67,524.20 90.45,524.99 C90.23,525.78 89.66,527.24 89.05,528.10 C88.45,528.95 87.40,529.43 86.82,530.13 C86.23,530.82 85.85,531.62 85.56,532.28 C85.27,532.95 86.04,533.78 85.08,534.11 C84.12,534.44 80.86,534.50 79.80,534.24 C78.75,533.98 79.21,533.04 78.75,532.56 C78.28,532.08 77.63,531.82 77.03,531.36 C76.42,530.90 75.89,530.52 75.12,529.82 C74.34,529.12 73.19,527.98 72.39,527.14 C71.59,526.29 70.91,525.58 70.34,524.75 C69.77,523.93 68.90,523.05 68.95,522.18Z" fill="none" stroke="#333" stroke-width="0.55"/>
<path d="M71.86,522.38 C71.91,521.69 72.60,520.80 72.94,520.27 C73.29,519.74 73.56,519.51 73.92,519.19 C74.27,518.86 74.43,518.71 75.07,518.34 C75.71,517.97 76.76,517.26 77.76,516.97 C78.76,516.67 79.95,516.49 81.07,516.59 C82.20,516.69 83.43,516.94 84.51,517.58 C85.58,518.21 86.82,519.44 87.52,520.39 C88.21,521.35 88.50,522.59 88.69,523.30 C88.88,524.00 88.87,523.98 88.66,524.61 C88.46,525.25 87.97,526.41 87.47,527.09 C86.97,527.78 86.15,528.20 85.65,528.70 C85.16,529.20 84.77,529.69 84.49,530.10 C84.21,530.51 84.73,530.96 84.00,531.17 C83.27,531.37 80.90,531.46 80.11,531.33 C79.32,531.20 79.64,530.67 79.26,530.38 C78.89,530.09 78.36,529.92 77.86,529.61 C77.36,529.29 76.89,529.04 76.26,528.50 C75.62,527.95 74.65,527.02 74.05,526.34 C73.45,525.65 73.02,525.03 72.65,524.37 C72.29,523.71 71.81,523.06 71.86,522.38Z" fill="none" stroke="#333" stroke-width="0.55"/>
<path d="M74.37,522.55 C74.41,522.03 74.76,521.37 74.97,520.96 C75.17,520.55 75.36,520.35 75.59,520.09 C75.83,519.82 75.90,519.68 76.37,519.37 C76.84,519.05 77.63,518.45 78.41,518.19 C79.20,517.93 80.14,517.73 81.06,517.78 C81.97,517.83 83.02,517.99 83.91,518.50 C84.81,519.01 85.89,520.04 86.43,520.83 C86.97,521.62 87.05,522.66 87.16,523.24 C87.26,523.81 87.23,523.78 87.05,524.27 C86.86,524.77 86.45,525.67 86.05,526.20 C85.64,526.72 85.03,527.09 84.61,527.42 C84.20,527.76 83.82,528.00 83.56,528.21 C83.30,528.41 83.61,528.56 83.08,528.67 C82.55,528.77 80.94,528.88 80.38,528.85 C79.81,528.82 80.00,528.61 79.71,528.48 C79.41,528.35 79.00,528.25 78.60,528.06 C78.19,527.86 77.79,527.72 77.28,527.31 C76.77,526.90 75.98,526.16 75.55,525.62 C75.11,525.07 74.88,524.55 74.69,524.04 C74.49,523.53 74.32,523.06 74.37,522.55Z" fill="none" stroke="#333" stroke-width="0.55"/>
<path d="M75.98,522.66 C76.02,522.26 76.19,521.74 76.31,521.41 C76.44,521.09 76.57,520.92 76.73,520.70 C76.89,520.48 76.92,520.35 77.28,520.08 C77.64,519.81 78.26,519.31 78.89,519.08 C79.52,518.84 80.29,518.66 81.05,518.68 C81.81,518.70 82.69,518.81 83.44,519.22 C84.20,519.64 85.14,520.51 85.57,521.17 C86.00,521.84 85.98,522.72 86.03,523.19 C86.09,523.67 86.06,523.64 85.89,524.03 C85.73,524.43 85.39,525.15 85.05,525.57 C84.72,525.98 84.24,526.30 83.89,526.54 C83.54,526.78 83.19,526.88 82.96,526.98 C82.73,527.08 82.91,527.07 82.51,527.12 C82.11,527.17 80.96,527.28 80.54,527.30 C80.12,527.32 80.24,527.28 80.00,527.23 C79.76,527.18 79.43,527.13 79.10,527.00 C78.77,526.87 78.42,526.79 78.00,526.47 C77.59,526.16 76.93,525.56 76.60,525.11 C76.28,524.67 76.15,524.22 76.05,523.81 C75.95,523.41 75.93,523.06 75.98,522.66Z" fill="none" stroke="#333" stroke-width="0.55"/>
<path d="M76.81,522.71 C76.85,522.38 76.99,521.95 77.09,521.68 C77.20,521.41 77.31,521.27 77.44,521.08 C77.58,520.90 77.60,520.79 77.90,520.57 C78.20,520.34 78.72,519.93 79.24,519.73 C79.77,519.54 80.41,519.38 81.04,519.40 C81.67,519.42 82.41,519.51 83.04,519.85 C83.66,520.20 84.45,520.93 84.81,521.48 C85.17,522.03 85.15,522.77 85.20,523.16 C85.24,523.56 85.21,523.53 85.08,523.86 C84.94,524.19 84.66,524.79 84.38,525.14 C84.10,525.49 83.70,525.75 83.41,525.95 C83.12,526.15 82.82,526.24 82.63,526.32 C82.44,526.40 82.60,526.39 82.26,526.43 C81.92,526.48 80.97,526.57 80.62,526.59 C80.27,526.60 80.37,526.57 80.17,526.53 C79.97,526.49 79.69,526.44 79.42,526.33 C79.14,526.23 78.85,526.16 78.50,525.89 C78.16,525.63 77.61,525.13 77.34,524.76 C77.06,524.39 76.96,524.02 76.88,523.68 C76.79,523.34 76.78,523.05 76.81,522.71Z" fill="none" stroke="#333" stroke-width="0.55"/>
<path d="M77.65,522.77 C77.68,522.50 77.79,522.16 77.88,521.94 C77.96,521.72 78.05,521.62 78.15,521.47 C78.26,521.32 78.28,521.24 78.52,521.05 C78.76,520.87 79.18,520.54 79.59,520.38 C80.01,520.23 80.53,520.10 81.03,520.12 C81.54,520.14 82.13,520.20 82.63,520.48 C83.13,520.76 83.76,521.34 84.04,521.78 C84.33,522.22 84.32,522.81 84.36,523.13 C84.39,523.45 84.37,523.42 84.26,523.69 C84.15,523.95 83.93,524.43 83.70,524.71 C83.48,524.99 83.16,525.20 82.93,525.36 C82.69,525.52 82.46,525.59 82.30,525.65 C82.15,525.72 82.28,525.71 82.01,525.75 C81.74,525.78 80.97,525.86 80.69,525.87 C80.42,525.88 80.49,525.86 80.33,525.82 C80.17,525.79 79.96,525.75 79.73,525.67 C79.51,525.58 79.28,525.53 79.00,525.32 C78.73,525.11 78.29,524.70 78.07,524.41 C77.85,524.11 77.77,523.82 77.70,523.54 C77.63,523.27 77.62,523.04 77.65,522.77Z" fill="none" stroke="#333" stroke-width="0.55"/>
<path d="M78.49,522.83 C78.51,522.63 78.59,522.37 78.66,522.21 C78.72,522.04 78.79,521.96 78.87,521.85 C78.95,521.74 78.96,521.68 79.14,521.54 C79.32,521.41 79.63,521.16 79.95,521.04 C80.26,520.92 80.64,520.83 81.02,520.84 C81.40,520.85 81.85,520.90 82.22,521.11 C82.60,521.32 83.07,521.76 83.28,522.09 C83.50,522.42 83.49,522.86 83.52,523.10 C83.54,523.34 83.53,523.32 83.45,523.52 C83.37,523.71 83.19,524.07 83.03,524.28 C82.86,524.49 82.62,524.65 82.44,524.77 C82.27,524.89 82.09,524.94 81.98,524.99 C81.86,525.04 81.96,525.03 81.76,525.06 C81.55,525.09 80.98,525.14 80.77,525.15 C80.56,525.16 80.62,525.14 80.50,525.12 C80.38,525.09 80.22,525.06 80.05,525.00 C79.88,524.94 79.71,524.89 79.50,524.74 C79.29,524.58 78.96,524.28 78.80,524.06 C78.64,523.83 78.58,523.61 78.53,523.41 C78.47,523.20 78.47,523.03 78.49,522.83Z" fill="none" stroke="#333" stroke-width="0.55"/>
<path d="M76.24,524.85 C78.89,523.53 85.52,520.90 88.97,521.70 C92.43,522.49 95.73,526.69 96.97,529.62 C98.20,532.54 97.05,536.32 96.39,539.25 C95.73,542.18 94.25,544.90 93.00,547.21 C91.76,549.52 90.61,552.13 88.89,553.12 C87.17,554.11 84.53,554.37 82.66,553.15 C80.79,551.93 79.18,548.37 77.66,545.78 C76.15,543.20 74.34,540.33 73.57,537.63 C72.80,534.94 72.59,531.75 73.03,529.62 C73.48,527.49 73.58,526.17 76.24,524.85Z" fill="none" stroke="#333" stroke-width="0.55"/>
<path d="M78.27,527.43 C80.31,526.42 85.39,524.43 88.04,525.04 C90.70,525.65 93.23,528.84 94.21,531.09 C95.20,533.34 94.46,536.30 93.95,538.56 C93.45,540.82 92.19,542.95 91.18,544.66 C90.18,546.36 89.23,548.09 87.91,548.79 C86.58,549.49 84.70,549.69 83.25,548.85 C81.80,548.00 80.42,545.64 79.21,543.72 C78.00,541.79 76.55,539.39 75.98,537.29 C75.41,535.18 75.41,532.73 75.79,531.09 C76.17,529.45 76.23,528.44 78.27,527.43Z" fill="none" stroke="#333" stroke-width="0.55"/>
<path d="M79.98,529.61 C81.50,528.86 85.28,527.39 87.26,527.85 C89.25,528.30 91.12,530.64 91.89,532.33 C92.65,534.01 92.22,536.26 91.85,537.96 C91.47,539.65 90.43,541.28 89.64,542.50 C88.85,543.72 88.09,544.79 87.10,545.26 C86.12,545.73 84.82,545.88 83.73,545.32 C82.64,544.77 81.50,543.31 80.56,541.92 C79.62,540.53 78.48,538.59 78.07,536.99 C77.67,535.39 77.80,533.56 78.11,532.33 C78.43,531.10 78.45,530.35 79.98,529.61Z" fill="none" stroke="#333" stroke-width="0.55"/>
<path d="M81.40,531.42 C82.49,530.89 85.19,529.85 86.62,530.18 C88.04,530.50 89.38,532.15 89.94,533.36 C90.51,534.57 90.30,536.22 90.03,537.44 C89.77,538.66 88.94,539.86 88.35,540.69 C87.75,541.52 87.16,542.12 86.46,542.42 C85.75,542.71 84.90,542.82 84.12,542.48 C83.33,542.14 82.43,541.32 81.73,540.36 C81.02,539.40 80.17,537.90 79.89,536.73 C79.61,535.56 79.80,534.25 80.06,533.36 C80.31,532.48 80.31,531.95 81.40,531.42Z" fill="none" stroke="#333" stroke-width="0.55"/>
<path d="M82.58,532.91 C83.31,532.56 85.13,531.87 86.09,532.09 C87.05,532.31 87.94,533.40 88.34,534.22 C88.74,535.04 88.66,536.17 88.48,536.99 C88.30,537.82 87.69,538.65 87.27,539.18 C86.85,539.70 86.42,539.99 85.95,540.16 C85.47,540.34 84.96,540.41 84.42,540.22 C83.89,540.03 83.23,539.64 82.73,539.02 C82.24,538.40 81.63,537.31 81.45,536.51 C81.28,535.71 81.48,534.82 81.66,534.22 C81.85,533.62 81.84,533.27 82.58,532.91Z" fill="none" stroke="#333" stroke-width="0.55"/>
<path d="M30.50,508.00 C31.08,504.67 33.25,510.00 34.00,512.00 C34.75,514.00 35.00,517.33 35.00,520.00 C35.00,522.67 34.75,526.00 34.00,528.00 C33.25,530.00 31.08,535.33 30.50,532.00 C29.92,528.67 29.92,511.33 30.50,508.00Z" fill="none" stroke="#333" stroke-width="0.55"/>
<path d="M30.50,512.00 C30.83,510.00 32.08,514.67 32.50,516.00 C32.92,517.33 33.00,518.67 33.00,520.00 C33.00,521.33 32.92,522.67 32.50,524.00 C32.08,525.33 30.83,530.00 30.50,528.00 C30.17,526.00 30.17,514.00 30.50,512.00Z" fill="none" stroke="#333" stroke-width="0.55"/>
<ellipse cx="75.3" cy="517.0" rx="3.0" ry="1.4" fill="#fff" fill-opacity="0.95" filter="url(#b0_9)"/>
<ellipse cx="85.8" cy="529.5" rx="2.4" ry="3.0" fill="#fff" fill-opacity="0.95" filter="url(#b0_9)"/>
<ellipse cx="83" cy="566.0" rx="15.600000000000001" ry="3.0" fill="#000" fill-opacity="0.4" filter="url(#b1_5)"/>
<ellipse cx="83" cy="565.0" rx="12" ry="2.0" fill="#000" filter="url(#b0_9)"/>
</g>
<clipPath id="clipc2"><rect x="126.3" y="474.9" width="92.10000000000001" height="91.39999999999998"/></clipPath>
<g clip-path="url(#clipc2)">
<g filter="url(#dith2)"><path d="M126.40,493.00 C132.31,485.67 179.59,491.20 185.50,493.00 C191.41,494.80 183.15,509.20 185.50,511.00 C187.85,512.80 206.65,505.47 209.00,511.00 C211.35,516.53 217.26,560.77 209.00,566.30 C200.74,571.83 134.66,573.63 126.40,566.30 C118.14,558.97 120.49,500.33 126.40,493.00Z" fill="#000" fill-opacity="0.06"/><path d="M135.40,512.00 C136.70,509.30 147.20,504.20 150.40,503.00 C153.60,501.80 163.90,500.00 167.40,500.00 C170.90,500.00 182.20,501.50 185.40,503.00 C188.60,504.50 197.60,512.30 199.40,515.00 C201.20,517.70 203.40,527.30 203.40,530.00 C203.40,532.70 200.40,540.20 199.40,542.00 C198.40,543.80 194.20,545.60 193.40,548.00 C192.60,550.40 193.70,564.20 191.40,566.00 C189.10,567.80 173.40,567.40 170.40,566.00 C167.40,564.60 163.40,554.60 161.40,552.00 C159.40,549.40 152.80,542.20 150.40,540.00 C148.00,537.80 138.90,532.80 137.40,530.00 C135.90,527.20 134.10,514.70 135.40,512.00Z" fill="#000" fill-opacity="0.13"/><path d="M185.50,493.00 C188.84,491.20 215.56,485.67 218.90,493.00 C222.24,500.33 219.89,558.97 218.90,566.30 C217.91,573.63 209.99,571.83 209.00,566.30 C208.01,560.77 211.35,516.53 209.00,511.00 C206.65,505.47 187.85,512.80 185.50,511.00 C183.15,509.20 182.16,494.80 185.50,493.00Z" fill="#000" fill-opacity="0.04"/></g>
<path d="M143.20,518.20 C144.03,516.03 147.53,513.70 150.00,512.00 C152.47,510.30 155.33,508.97 158.00,508.00 C160.67,507.03 163.33,506.53 166.00,506.20 C168.67,505.87 170.75,505.45 174.00,506.00 C177.25,506.55 182.17,508.17 185.50,509.50 C188.83,510.83 191.43,512.25 194.00,514.00 C196.57,515.75 199.15,518.00 200.90,520.00 C202.65,522.00 203.70,524.17 204.50,526.00 C205.30,527.83 205.78,528.67 205.70,531.00 C205.62,533.33 204.95,537.42 204.00,540.00 C203.05,542.58 201.47,544.92 200.00,546.50 C198.53,548.08 196.87,547.92 195.20,549.50 C193.53,551.08 191.70,553.85 190.00,556.00 C188.30,558.15 187.98,561.33 185.00,562.40 C182.02,563.47 174.93,563.30 172.10,562.40 C169.27,561.50 169.18,558.90 168.00,557.00 C166.82,555.10 165.92,553.30 165.00,551.00 C164.08,548.70 163.83,545.53 162.50,543.20 C161.17,540.87 158.62,538.62 157.00,537.00 C155.38,535.38 154.30,534.67 152.80,533.50 C151.30,532.33 149.30,531.42 148.00,530.00 C146.70,528.58 145.80,526.97 145.00,525.00 C144.20,523.03 142.37,520.37 143.20,518.20Z" fill="#fff"/>
<ellipse cx="187" cy="529" rx="13" ry="10" fill="#000" fill-opacity="0.45" filter="url(#b1_5)"/>
<ellipse cx="174" cy="515" rx="6" ry="3.5" fill="#000" fill-opacity="0.35" filter="url(#b0_9)"/>
<ellipse cx="190" cy="530" rx="6" ry="5" fill="#000" fill-opacity="0.35" filter="url(#b0_9)"/>
<ellipse cx="199" cy="532" rx="3.5" ry="8" fill="#000" fill-opacity="0.35" filter="url(#b1_5)"/>
<path d="M143.20,518.20 C144.03,516.03 147.53,513.70 150.00,512.00 C152.47,510.30 155.33,508.97 158.00,508.00 C160.67,507.03 163.33,506.53 166.00,506.20 C168.67,505.87 170.75,505.45 174.00,506.00 C177.25,506.55 182.17,508.17 185.50,509.50 C188.83,510.83 191.43,512.25 194.00,514.00 C196.57,515.75 199.15,518.00 200.90,520.00 C202.65,522.00 203.70,524.17 204.50,526.00 C205.30,527.83 205.78,528.67 205.70,531.00 C205.62,533.33 204.95,537.42 204.00,540.00 C203.05,542.58 201.47,544.92 200.00,546.50 C198.53,548.08 196.87,547.92 195.20,549.50 C193.53,551.08 191.70,553.85 190.00,556.00 C188.30,558.15 187.98,561.33 185.00,562.40 C182.02,563.47 174.93,563.30 172.10,562.40 C169.27,561.50 169.18,558.90 168.00,557.00 C166.82,555.10 165.92,553.30 165.00,551.00 C164.08,548.70 163.83,545.53 162.50,543.20 C161.17,540.87 158.62,538.62 157.00,537.00 C155.38,535.38 154.30,534.67 152.80,533.50 C151.30,532.33 149.30,531.42 148.00,530.00 C146.70,528.58 145.80,526.97 145.00,525.00 C144.20,523.03 142.37,520.37 143.20,518.20Z" fill="none" stroke="#333" stroke-width="0.55"/>
<path d="M151.58,520.32 C152.26,518.57 154.98,516.67 156.92,515.27 C158.87,513.87 161.14,512.76 163.26,511.94 C165.38,511.12 167.50,510.67 169.64,510.35 C171.78,510.03 173.44,509.65 176.10,510.02 C178.75,510.38 182.78,511.52 185.58,512.53 C188.38,513.54 190.66,514.63 192.90,516.07 C195.13,517.51 197.45,519.44 198.99,521.15 C200.52,522.87 201.43,524.79 202.10,526.39 C202.78,527.98 203.17,528.73 203.04,530.73 C202.91,532.73 202.21,536.21 201.32,538.36 C200.44,540.52 199.02,542.39 197.75,543.69 C196.48,544.98 195.10,544.88 193.69,546.12 C192.27,547.36 190.69,549.49 189.28,551.13 C187.86,552.77 187.60,555.18 185.19,555.98 C182.78,556.77 177.11,556.60 174.81,555.89 C172.51,555.18 172.40,553.19 171.40,551.70 C170.40,550.22 169.63,548.83 168.81,547.01 C168.00,545.18 167.64,542.68 166.51,540.78 C165.38,538.88 163.32,536.96 162.03,535.61 C160.74,534.26 159.92,533.66 158.77,532.69 C157.62,531.72 156.10,530.97 155.11,529.81 C154.13,528.66 153.45,527.35 152.86,525.77 C152.27,524.18 150.91,522.06 151.58,520.32Z" fill="none" stroke="#333" stroke-width="0.55"/>
<path d="M158.35,522.02 C158.90,520.61 161.00,519.06 162.52,517.91 C164.05,516.77 165.84,515.84 167.52,515.14 C169.20,514.44 170.89,514.03 172.60,513.73 C174.32,513.42 175.64,513.09 177.81,513.31 C179.99,513.53 183.28,514.30 185.64,515.05 C188.00,515.81 190.01,516.64 191.96,517.83 C193.91,519.01 196.00,520.66 197.35,522.15 C198.70,523.63 199.48,525.33 200.05,526.72 C200.62,528.11 200.93,528.79 200.77,530.50 C200.61,532.21 199.90,535.19 199.08,537.00 C198.27,538.80 196.99,540.30 195.88,541.35 C194.78,542.41 193.63,542.37 192.43,543.34 C191.24,544.31 189.87,545.91 188.69,547.16 C187.51,548.40 187.30,550.20 185.35,550.78 C183.40,551.36 178.86,551.19 177.00,550.63 C175.13,550.07 175.01,548.56 174.16,547.41 C173.32,546.27 172.65,545.19 171.92,543.75 C171.19,542.31 170.76,540.33 169.80,538.79 C168.84,537.24 167.19,535.60 166.16,534.47 C165.13,533.35 164.52,532.83 163.64,532.03 C162.76,531.23 161.62,530.60 160.89,529.66 C160.15,528.72 159.64,527.66 159.22,526.39 C158.80,525.11 157.80,523.43 158.35,522.02Z" fill="none" stroke="#333" stroke-width="0.55"/>
<path d="M164.38,523.54 C164.81,522.43 166.36,521.20 167.53,520.28 C168.69,519.35 170.05,518.59 171.34,518.01 C172.63,517.42 173.93,517.06 175.27,516.77 C176.61,516.48 177.63,516.19 179.37,516.29 C181.11,516.39 183.75,516.85 185.70,517.38 C187.65,517.91 189.40,518.53 191.08,519.48 C192.76,520.43 194.61,521.83 195.78,523.09 C196.95,524.35 197.62,525.84 198.09,527.04 C198.57,528.24 198.81,528.84 198.63,530.28 C198.45,531.73 197.74,534.23 197.00,535.72 C196.26,537.21 195.12,538.37 194.17,539.22 C193.22,540.06 192.29,540.06 191.29,540.79 C190.29,541.52 189.13,542.68 188.16,543.57 C187.19,544.47 187.02,545.75 185.49,546.14 C183.95,546.54 180.42,546.38 178.95,545.95 C177.47,545.52 177.34,544.43 176.63,543.57 C175.93,542.72 175.36,541.92 174.72,540.82 C174.08,539.72 173.60,538.21 172.80,536.98 C172.00,535.75 170.69,534.36 169.90,533.44 C169.11,532.52 168.67,532.09 168.03,531.44 C167.39,530.78 166.58,530.27 166.06,529.52 C165.54,528.78 165.18,527.94 164.90,526.94 C164.62,525.94 163.94,524.65 164.38,523.54Z" fill="none" stroke="#333" stroke-width="0.55"/>
<path d="M169.11,524.74 C169.46,523.87 170.59,522.88 171.47,522.14 C172.35,521.39 173.38,520.77 174.37,520.28 C175.36,519.78 176.36,519.46 177.40,519.19 C178.44,518.93 179.22,518.66 180.61,518.68 C182.01,518.69 184.13,518.92 185.75,519.29 C187.37,519.65 188.89,520.09 190.34,520.86 C191.79,521.63 193.44,522.82 194.46,523.89 C195.47,524.97 196.04,526.27 196.44,527.31 C196.84,528.34 197.02,528.87 196.83,530.10 C196.64,531.33 195.95,533.44 195.28,534.67 C194.60,535.90 193.60,536.80 192.78,537.47 C191.96,538.15 191.21,538.19 190.36,538.73 C189.52,539.27 188.53,540.09 187.74,540.72 C186.94,541.35 186.81,542.23 185.60,542.49 C184.39,542.74 181.65,542.59 180.48,542.26 C179.31,541.93 179.18,541.16 178.59,540.53 C178.00,539.90 177.51,539.32 176.95,538.49 C176.38,537.65 175.88,536.50 175.21,535.52 C174.54,534.54 173.51,533.37 172.90,532.61 C172.29,531.85 172.00,531.49 171.54,530.96 C171.08,530.43 170.52,530.01 170.16,529.42 C169.80,528.82 169.56,528.16 169.39,527.38 C169.21,526.60 168.76,525.61 169.11,524.74Z" fill="none" stroke="#333" stroke-width="0.55"/>
<path d="M173.27,525.79 C173.53,525.12 174.31,524.36 174.94,523.78 C175.57,523.19 176.32,522.69 177.04,522.28 C177.77,521.88 178.51,521.59 179.29,521.35 C180.07,521.10 180.65,520.87 181.73,520.82 C182.82,520.77 184.48,520.81 185.80,521.04 C187.11,521.26 188.41,521.56 189.65,522.16 C190.88,522.77 192.32,523.76 193.19,524.66 C194.06,525.56 194.54,526.68 194.86,527.56 C195.19,528.44 195.33,528.91 195.13,529.93 C194.94,530.95 194.29,532.70 193.68,533.70 C193.08,534.69 192.20,535.36 191.51,535.89 C190.82,536.41 190.21,536.47 189.52,536.85 C188.83,537.23 188.00,537.77 187.36,538.17 C186.72,538.58 186.61,539.12 185.69,539.27 C184.77,539.41 182.72,539.26 181.83,539.03 C180.93,538.79 180.79,538.28 180.31,537.85 C179.83,537.41 179.42,537.01 178.93,536.41 C178.44,535.80 177.94,534.96 177.39,534.21 C176.83,533.45 176.06,532.48 175.60,531.87 C175.15,531.26 174.97,530.96 174.67,530.54 C174.36,530.11 174.01,529.78 173.79,529.32 C173.57,528.86 173.42,528.35 173.33,527.76 C173.25,527.18 173.00,526.45 173.27,525.79Z" fill="none" stroke="#333" stroke-width="0.55"/>
<path d="M176.42,526.58 C176.63,526.08 177.14,525.49 177.59,525.03 C178.04,524.57 178.57,524.16 179.10,523.83 C179.63,523.49 180.17,523.24 180.75,523.02 C181.34,522.80 181.76,522.59 182.61,522.50 C183.45,522.40 184.75,522.32 185.83,522.44 C186.91,522.57 188.03,522.76 189.07,523.23 C190.12,523.71 191.38,524.54 192.13,525.30 C192.88,526.05 193.28,527.03 193.55,527.78 C193.81,528.52 193.92,528.93 193.73,529.78 C193.53,530.64 192.93,532.10 192.39,532.90 C191.85,533.71 191.08,534.21 190.50,534.62 C189.91,535.03 189.43,535.10 188.86,535.36 C188.28,535.63 187.58,535.96 187.07,536.20 C186.55,536.44 186.47,536.75 185.77,536.81 C185.06,536.87 183.54,536.73 182.85,536.56 C182.16,536.39 182.03,536.09 181.63,535.79 C181.24,535.50 180.89,535.23 180.47,534.80 C180.04,534.36 179.55,533.76 179.10,533.17 C178.64,532.59 178.05,531.78 177.72,531.29 C177.38,530.79 177.28,530.55 177.09,530.21 C176.90,529.87 176.70,529.61 176.58,529.25 C176.46,528.89 176.38,528.50 176.35,528.06 C176.32,527.61 176.21,527.09 176.42,526.58Z" fill="none" stroke="#333" stroke-width="0.55"/>
<path d="M179.13,527.27 C179.28,526.90 179.58,526.46 179.88,526.11 C180.17,525.76 180.53,525.44 180.89,525.17 C181.25,524.90 181.62,524.68 182.04,524.48 C182.45,524.29 182.75,524.11 183.39,523.99 C184.02,523.86 185.01,523.69 185.86,523.73 C186.72,523.78 187.66,523.88 188.54,524.24 C189.41,524.61 190.49,525.29 191.12,525.91 C191.74,526.53 192.08,527.36 192.29,527.98 C192.50,528.60 192.58,528.95 192.40,529.65 C192.21,530.35 191.66,531.54 191.19,532.17 C190.72,532.81 190.06,533.16 189.57,533.47 C189.09,533.78 188.71,533.86 188.25,534.02 C187.79,534.19 187.21,534.35 186.81,534.46 C186.41,534.57 186.34,534.69 185.83,534.69 C185.32,534.68 184.24,534.56 183.73,534.45 C183.22,534.33 183.10,534.18 182.78,534.01 C182.46,533.83 182.18,533.68 181.82,533.38 C181.46,533.09 180.99,532.68 180.62,532.25 C180.25,531.81 179.83,531.16 179.60,530.77 C179.36,530.38 179.33,530.18 179.23,529.92 C179.13,529.65 179.05,529.45 179.01,529.18 C178.96,528.92 178.94,528.63 178.96,528.31 C178.98,527.99 178.98,527.63 179.13,527.27Z" fill="none" stroke="#333" stroke-width="0.55"/>
<path d="M180.85,527.70 C180.97,527.42 181.15,527.08 181.35,526.80 C181.55,526.53 181.80,526.27 182.06,526.05 C182.32,525.82 182.59,525.64 182.90,525.46 C183.21,525.29 183.42,525.14 183.92,525.01 C184.42,524.88 185.19,524.68 185.89,524.68 C186.59,524.68 187.38,524.74 188.12,525.03 C188.86,525.31 189.78,525.88 190.31,526.40 C190.84,526.92 191.12,527.62 191.29,528.14 C191.47,528.67 191.52,528.96 191.36,529.54 C191.19,530.12 190.70,531.11 190.29,531.62 C189.88,532.14 189.32,532.40 188.91,532.64 C188.50,532.88 188.20,532.96 187.82,533.07 C187.45,533.17 186.96,533.25 186.64,533.29 C186.31,533.33 186.26,533.35 185.87,533.32 C185.48,533.29 184.68,533.18 184.29,533.10 C183.90,533.02 183.79,532.95 183.53,532.84 C183.27,532.73 183.03,532.64 182.72,532.43 C182.42,532.23 182.00,531.94 181.69,531.60 C181.39,531.27 181.06,530.72 180.89,530.41 C180.73,530.09 180.72,529.93 180.68,529.72 C180.63,529.51 180.61,529.35 180.60,529.14 C180.60,528.93 180.60,528.72 180.64,528.48 C180.68,528.24 180.73,527.98 180.85,527.70Z" fill="none" stroke="#333" stroke-width="0.55"/>
<path d="M181.71,527.92 C181.81,527.68 181.96,527.40 182.12,527.17 C182.29,526.94 182.50,526.72 182.72,526.54 C182.93,526.35 183.16,526.20 183.42,526.05 C183.67,525.91 183.85,525.79 184.27,525.68 C184.68,525.57 185.32,525.40 185.91,525.40 C186.49,525.40 187.15,525.45 187.77,525.69 C188.38,525.93 189.15,526.40 189.59,526.83 C190.03,527.26 190.26,527.85 190.41,528.28 C190.56,528.72 190.60,528.97 190.46,529.45 C190.33,529.94 189.92,530.76 189.58,531.19 C189.24,531.62 188.77,531.83 188.43,532.03 C188.08,532.23 187.84,532.30 187.52,532.39 C187.20,532.48 186.80,532.54 186.53,532.57 C186.26,532.61 186.22,532.63 185.89,532.60 C185.57,532.57 184.90,532.48 184.58,532.42 C184.25,532.35 184.16,532.29 183.94,532.20 C183.72,532.11 183.52,532.03 183.27,531.86 C183.01,531.69 182.66,531.45 182.41,531.17 C182.16,530.89 181.89,530.43 181.75,530.17 C181.60,529.91 181.60,529.78 181.56,529.60 C181.52,529.43 181.51,529.29 181.50,529.12 C181.50,528.95 181.50,528.76 181.53,528.56 C181.57,528.36 181.61,528.15 181.71,527.92Z" fill="none" stroke="#333" stroke-width="0.55"/>
<path d="M182.57,528.13 C182.65,527.95 182.77,527.72 182.90,527.54 C183.03,527.35 183.20,527.18 183.37,527.03 C183.55,526.88 183.73,526.76 183.93,526.64 C184.14,526.53 184.28,526.43 184.61,526.34 C184.95,526.26 185.46,526.12 185.93,526.12 C186.39,526.12 186.92,526.16 187.41,526.35 C187.90,526.54 188.52,526.92 188.87,527.26 C189.23,527.61 189.41,528.08 189.53,528.43 C189.64,528.78 189.68,528.98 189.57,529.36 C189.46,529.75 189.13,530.40 188.86,530.75 C188.59,531.09 188.21,531.27 187.94,531.43 C187.67,531.59 187.47,531.64 187.22,531.71 C186.96,531.78 186.64,531.83 186.42,531.86 C186.21,531.89 186.17,531.90 185.91,531.88 C185.65,531.86 185.12,531.79 184.86,531.73 C184.60,531.68 184.53,531.64 184.35,531.56 C184.18,531.49 184.02,531.43 183.82,531.29 C183.61,531.15 183.33,530.96 183.13,530.74 C182.92,530.51 182.71,530.15 182.60,529.94 C182.48,529.73 182.48,529.62 182.45,529.48 C182.42,529.34 182.41,529.23 182.40,529.09 C182.40,528.96 182.40,528.81 182.43,528.65 C182.45,528.49 182.49,528.32 182.57,528.13Z" fill="none" stroke="#333" stroke-width="0.55"/>
<path d="M183.43,528.35 C183.48,528.21 183.57,528.04 183.67,527.90 C183.78,527.76 183.90,527.63 184.03,527.52 C184.16,527.41 184.29,527.32 184.45,527.23 C184.60,527.15 184.71,527.07 184.96,527.01 C185.21,526.94 185.59,526.84 185.94,526.84 C186.29,526.84 186.69,526.87 187.06,527.01 C187.43,527.16 187.89,527.44 188.15,527.70 C188.42,527.96 188.56,528.31 188.65,528.57 C188.73,528.83 188.76,528.98 188.68,529.27 C188.60,529.56 188.35,530.05 188.15,530.31 C187.94,530.57 187.66,530.70 187.46,530.82 C187.25,530.94 187.10,530.98 186.91,531.03 C186.72,531.09 186.48,531.12 186.32,531.14 C186.15,531.17 186.13,531.18 185.94,531.16 C185.74,531.14 185.34,531.09 185.15,531.05 C184.95,531.01 184.90,530.98 184.77,530.92 C184.63,530.87 184.51,530.82 184.36,530.72 C184.21,530.61 184.00,530.47 183.85,530.30 C183.69,530.13 183.53,529.86 183.45,529.70 C183.36,529.55 183.36,529.47 183.34,529.36 C183.31,529.26 183.30,529.17 183.30,529.07 C183.30,528.97 183.30,528.86 183.32,528.74 C183.34,528.62 183.37,528.49 183.43,528.35Z" fill="none" stroke="#333" stroke-width="0.55"/>
<path d="M171.51,528.29 C174.76,526.74 184.24,522.51 188.67,522.89 C193.09,523.28 196.34,527.50 198.07,530.62 C199.81,533.73 199.79,538.66 199.07,541.59 C198.35,544.51 195.49,546.03 193.77,548.15 C192.06,550.26 191.18,553.03 188.76,554.29 C186.35,555.55 181.96,556.74 179.29,555.70 C176.62,554.66 174.48,550.65 172.75,548.04 C171.02,545.42 169.52,542.64 168.92,540.00 C168.32,537.36 168.70,534.13 169.13,532.17 C169.56,530.22 168.25,529.84 171.51,528.29Z" fill="none" stroke="#333" stroke-width="0.55"/>
<path d="M174.63,531.21 C177.07,530.06 184.16,526.94 187.48,527.23 C190.81,527.52 193.24,530.62 194.58,532.95 C195.92,535.28 196.00,538.97 195.52,541.21 C195.04,543.46 193.01,544.80 191.70,546.42 C190.39,548.04 189.52,550.03 187.64,550.93 C185.77,551.84 182.51,552.64 180.44,551.86 C178.38,551.07 176.60,548.21 175.27,546.24 C173.94,544.26 172.87,542.02 172.46,540.00 C172.05,537.98 172.45,535.58 172.81,534.11 C173.17,532.65 172.18,532.36 174.63,531.21Z" fill="none" stroke="#333" stroke-width="0.55"/>
<path d="M177.18,533.61 C178.96,532.78 184.10,530.55 186.52,530.76 C188.94,530.97 190.70,533.17 191.71,534.86 C192.72,536.55 192.85,539.22 192.55,540.90 C192.25,542.58 190.87,543.71 189.90,544.91 C188.92,546.12 188.13,547.50 186.71,548.12 C185.29,548.75 182.94,549.25 181.39,548.68 C179.85,548.12 178.41,546.15 177.41,544.71 C176.42,543.26 175.69,541.50 175.43,540.00 C175.17,538.50 175.55,536.77 175.84,535.70 C176.13,534.64 175.40,534.43 177.18,533.61Z" fill="none" stroke="#333" stroke-width="0.55"/>
<path d="M179.25,535.55 C180.49,534.98 184.06,533.46 185.74,533.61 C187.43,533.75 188.66,535.24 189.38,536.41 C190.11,537.58 190.27,539.44 190.09,540.64 C189.92,541.84 189.04,542.76 188.34,543.62 C187.65,544.48 186.96,545.38 185.93,545.79 C184.90,546.21 183.29,546.50 182.17,546.10 C181.05,545.70 179.94,544.43 179.23,543.41 C178.51,542.39 178.04,541.07 177.89,540.00 C177.73,538.93 178.07,537.74 178.30,537.00 C178.52,536.26 178.01,536.11 179.25,535.55Z" fill="none" stroke="#333" stroke-width="0.55"/>
<path d="M180.90,537.09 C181.71,536.73 184.03,535.76 185.13,535.86 C186.23,535.95 187.03,536.89 187.52,537.65 C188.01,538.41 188.16,539.62 188.08,540.43 C187.99,541.24 187.47,541.93 187.01,542.51 C186.54,543.08 186.00,543.63 185.29,543.88 C184.59,544.13 183.55,544.28 182.80,544.02 C182.04,543.76 181.23,542.99 180.75,542.32 C180.27,541.65 179.99,540.72 179.91,540.00 C179.83,539.28 180.10,538.52 180.26,538.03 C180.43,537.55 180.09,537.46 180.90,537.09Z" fill="none" stroke="#333" stroke-width="0.55"/>
<path d="M126.80,510.00 C127.17,506.67 128.50,512.00 129.00,514.00 C129.50,516.00 129.80,519.33 129.80,522.00 C129.80,524.67 129.50,528.00 129.00,530.00 C128.50,532.00 127.17,537.33 126.80,534.00 C126.43,530.67 126.43,513.33 126.80,510.00Z" fill="none" stroke="#333" stroke-width="0.55"/>
<ellipse cx="184" cy="529" rx="2.2" ry="1.6" fill="#fff" fill-opacity="0.7" filter="url(#b0_9)"/>
<ellipse cx="186" cy="566.0" rx="19.5" ry="3.0" fill="#000" fill-opacity="0.4" filter="url(#b1_5)"/>
<ellipse cx="186" cy="565.0" rx="15" ry="2.0" fill="#000" filter="url(#b0_9)"/>
</g>
<rect x="30.9" y="313.9" width="92.6" height="91.60000000000002" fill="none" stroke="#7a7a7a" stroke-width="0.9"/>
<line x1="29.099999999999998" y1="325.9" x2="30.9" y2="325.9" stroke="#555" stroke-width="0.7"/>
<line x1="29.099999999999998" y1="341.9" x2="30.9" y2="341.9" stroke="#555" stroke-width="0.7"/>
<line x1="29.099999999999998" y1="357.9" x2="30.9" y2="357.9" stroke="#555" stroke-width="0.7"/>
<line x1="29.099999999999998" y1="373.9" x2="30.9" y2="373.9" stroke="#555" stroke-width="0.7"/>
<line x1="29.099999999999998" y1="389.9" x2="30.9" y2="389.9" stroke="#555" stroke-width="0.7"/>
<line x1="42.9" y1="405.5" x2="42.9" y2="407.3" stroke="#555" stroke-width="0.7"/>
<line x1="58.9" y1="405.5" x2="58.9" y2="407.3" stroke="#555" stroke-width="0.7"/>
<line x1="74.9" y1="405.5" x2="74.9" y2="407.3" stroke="#555" stroke-width="0.7"/>
<line x1="90.9" y1="405.5" x2="90.9" y2="407.3" stroke="#555" stroke-width="0.7"/>
<line x1="106.9" y1="405.5" x2="106.9" y2="407.3" stroke="#555" stroke-width="0.7"/>
<polyline points="31.9,330.2 91.1,330.2 91.1,352.3" fill="none" stroke="#666" stroke-width="0.9"/>
<polyline points="31.9,330.2 31.9,373.8 71.3,373.8" fill="none" stroke="#666" stroke-width="0.9"/>
<polyline points="91.1,352.3 106.8,352.3 106.8,405.5" fill="none" stroke="#666" stroke-width="0.9"/>
<line x1="91.1" y1="352.3" x2="71.3" y2="373.8" stroke="#222" stroke-width="1.1"/>
<line x1="71.3" y1="373.8" x2="65.9" y2="405.5" stroke="#444" stroke-width="0.9"/>
<text x="34.4" y="328.6" font-size="12.2" text-anchor="start" font-weight="normal" font-style="normal" letter-spacing="0.2">76.3</text>
<text x="95.6" y="349.6" font-size="12.2" text-anchor="start" font-weight="normal" font-style="normal" letter-spacing="0.2">21.6</text>
<text x="75.4" y="309.79999999999995" font-size="11.3" text-anchor="middle" font-weight="normal" font-style="italic" >Ccl21a<tspan font-size="8.0" dy="-4.4" dx="0.3">+/-</tspan></text>
<rect x="126.3" y="313.9" width="92.10000000000001" height="91.60000000000002" fill="none" stroke="#7a7a7a" stroke-width="0.9"/>
<line x1="124.5" y1="325.9" x2="126.3" y2="325.9" stroke="#555" stroke-width="0.7"/>
<line x1="124.5" y1="341.9" x2="126.3" y2="341.9" stroke="#555" stroke-width="0.7"/>
<line x1="124.5" y1="357.9" x2="126.3" y2="357.9" stroke="#555" stroke-width="0.7"/>
<line x1="124.5" y1="373.9" x2="126.3" y2="373.9" stroke="#555" stroke-width="0.7"/>
<line x1="124.5" y1="389.9" x2="126.3" y2="389.9" stroke="#555" stroke-width="0.7"/>
<line x1="138.3" y1="405.5" x2="138.3" y2="407.3" stroke="#555" stroke-width="0.7"/>
<line x1="154.3" y1="405.5" x2="154.3" y2="407.3" stroke="#555" stroke-width="0.7"/>
<line x1="170.3" y1="405.5" x2="170.3" y2="407.3" stroke="#555" stroke-width="0.7"/>
<line x1="186.3" y1="405.5" x2="186.3" y2="407.3" stroke="#555" stroke-width="0.7"/>
<line x1="202.3" y1="405.5" x2="202.3" y2="407.3" stroke="#555" stroke-width="0.7"/>
<polyline points="127.3,330.2 186.5,330.2 186.5,351.8" fill="none" stroke="#666" stroke-width="0.9"/>
<polyline points="127.3,330.2 127.3,373.5 167.8,373.5" fill="none" stroke="#666" stroke-width="0.9"/>
<polyline points="186.5,351.8 201.9,351.8 201.9,405.5" fill="none" stroke="#666" stroke-width="0.9"/>
<line x1="186.5" y1="351.8" x2="167.8" y2="373.5" stroke="#222" stroke-width="1.1"/>
<line x1="167.8" y1="373.5" x2="162.5" y2="405.5" stroke="#444" stroke-width="0.9"/>
<text x="129.0" y="328.6" font-size="12.2" text-anchor="start" font-weight="normal" font-style="normal" letter-spacing="0.2">62.0</text>
<text x="190.6" y="349.6" font-size="12.2" text-anchor="start" font-weight="normal" font-style="normal" letter-spacing="0.2">36.0</text>
<text x="170.54999999999998" y="309.79999999999995" font-size="11.3" text-anchor="middle" font-weight="normal" font-style="italic" >Ccl21a<tspan font-size="8.0" dy="-4.4" dx="0.3">-/-</tspan></text>
<rect x="30.9" y="474.9" width="92.6" height="91.39999999999998" fill="none" stroke="#7a7a7a" stroke-width="0.9"/>
<line x1="29.099999999999998" y1="486.9" x2="30.9" y2="486.9" stroke="#555" stroke-width="0.7"/>
<line x1="29.099999999999998" y1="502.9" x2="30.9" y2="502.9" stroke="#555" stroke-width="0.7"/>
<line x1="29.099999999999998" y1="518.9" x2="30.9" y2="518.9" stroke="#555" stroke-width="0.7"/>
<line x1="29.099999999999998" y1="534.9" x2="30.9" y2="534.9" stroke="#555" stroke-width="0.7"/>
<line x1="29.099999999999998" y1="550.9" x2="30.9" y2="550.9" stroke="#555" stroke-width="0.7"/>
<line x1="42.9" y1="566.3" x2="42.9" y2="568.0999999999999" stroke="#555" stroke-width="0.7"/>
<line x1="58.9" y1="566.3" x2="58.9" y2="568.0999999999999" stroke="#555" stroke-width="0.7"/>
<line x1="74.9" y1="566.3" x2="74.9" y2="568.0999999999999" stroke="#555" stroke-width="0.7"/>
<line x1="90.9" y1="566.3" x2="90.9" y2="568.0999999999999" stroke="#555" stroke-width="0.7"/>
<line x1="106.9" y1="566.3" x2="106.9" y2="568.0999999999999" stroke="#555" stroke-width="0.7"/>
<polyline points="31.9,490.8 89.9,490.8 89.9,511.4" fill="none" stroke="#666" stroke-width="0.9"/>
<polyline points="31.9,490.8 31.9,537.4 67.8,537.4" fill="none" stroke="#666" stroke-width="0.9"/>
<polyline points="89.9,511.4 113.6,511.4 113.6,566.3" fill="none" stroke="#666" stroke-width="0.9"/>
<line x1="89.9" y1="511.4" x2="67.8" y2="537.4" stroke="#222" stroke-width="1.1"/>
<line x1="67.8" y1="537.4" x2="67.8" y2="566.3" stroke="#444" stroke-width="0.9"/>
<text x="32.4" y="487.6" font-size="12.2" text-anchor="start" font-weight="normal" font-style="normal" letter-spacing="0.2">35.3</text>
<text x="97.6" y="508.6" font-size="12.2" text-anchor="start" font-weight="normal" font-style="normal" letter-spacing="0.2">62.1</text>
<text x="75.4" y="470.79999999999995" font-size="11.3" text-anchor="middle" font-weight="normal" font-style="italic" >Ccl21a<tspan font-size="8.0" dy="-4.4" dx="0.3">+/-</tspan></text>
<rect x="126.3" y="474.9" width="92.10000000000001" height="91.39999999999998" fill="none" stroke="#7a7a7a" stroke-width="0.9"/>
<line x1="124.5" y1="486.9" x2="126.3" y2="486.9" stroke="#555" stroke-width="0.7"/>
<line x1="124.5" y1="502.9" x2="126.3" y2="502.9" stroke="#555" stroke-width="0.7"/>
<line x1="124.5" y1="518.9" x2="126.3" y2="518.9" stroke="#555" stroke-width="0.7"/>
<line x1="124.5" y1="534.9" x2="126.3" y2="534.9" stroke="#555" stroke-width="0.7"/>
<line x1="124.5" y1="550.9" x2="126.3" y2="550.9" stroke="#555" stroke-width="0.7"/>
<line x1="138.3" y1="566.3" x2="138.3" y2="568.0999999999999" stroke="#555" stroke-width="0.7"/>
<line x1="154.3" y1="566.3" x2="154.3" y2="568.0999999999999" stroke="#555" stroke-width="0.7"/>
<line x1="170.3" y1="566.3" x2="170.3" y2="568.0999999999999" stroke="#555" stroke-width="0.7"/>
<line x1="186.3" y1="566.3" x2="186.3" y2="568.0999999999999" stroke="#555" stroke-width="0.7"/>
<line x1="202.3" y1="566.3" x2="202.3" y2="568.0999999999999" stroke="#555" stroke-width="0.7"/>
<polyline points="127.3,490.7 185.5,490.7 185.5,511.4" fill="none" stroke="#666" stroke-width="0.9"/>
<polyline points="127.3,490.7 127.3,537.6 163.0,537.6" fill="none" stroke="#666" stroke-width="0.9"/>
<polyline points="185.5,511.4 209.0,511.4 209.0,566.3" fill="none" stroke="#666" stroke-width="0.9"/>
<line x1="185.5" y1="511.4" x2="163.0" y2="537.6" stroke="#222" stroke-width="1.1"/>
<line x1="163.0" y1="537.6" x2="163.0" y2="566.3" stroke="#444" stroke-width="0.9"/>
<text x="128.0" y="487.6" font-size="12.2" text-anchor="start" font-weight="normal" font-style="normal" letter-spacing="0.2">24.0</text>
<text x="193.4" y="508.6" font-size="12.2" text-anchor="start" font-weight="normal" font-style="normal" letter-spacing="0.2">74.3</text>
<text x="170.54999999999998" y="470.79999999999995" font-size="11.3" text-anchor="middle" font-weight="normal" font-style="italic" >Ccl21a<tspan font-size="8.0" dy="-4.4" dx="0.3">-/-</tspan></text>
<text transform="translate(16.2,382.2) rotate(-90) scale(0.66,1)" font-size="12.8" font-weight="bold" text-anchor="middle" dominant-baseline="central" >CD69</text>
<text transform="translate(54.8,424.5) scale(0.66,1)" font-size="12.8" font-weight="bold" text-anchor="middle">CD62L</text>
<text transform="translate(16.2,543.0) rotate(-90) scale(0.66,1)" font-size="12.8" font-weight="bold" text-anchor="middle" dominant-baseline="central" >CD69</text>
<text transform="translate(54.8,584.6) scale(0.66,1)" font-size="12.8" font-weight="bold" text-anchor="middle">CD62L</text>
<line x1="72.5" y1="420.5" x2="218.8" y2="420.5" stroke="#000" stroke-width="1.3"/>
<line x1="72.5" y1="580.3" x2="218.8" y2="580.3" stroke="#000" stroke-width="1.3"/>
</svg></body></html>
